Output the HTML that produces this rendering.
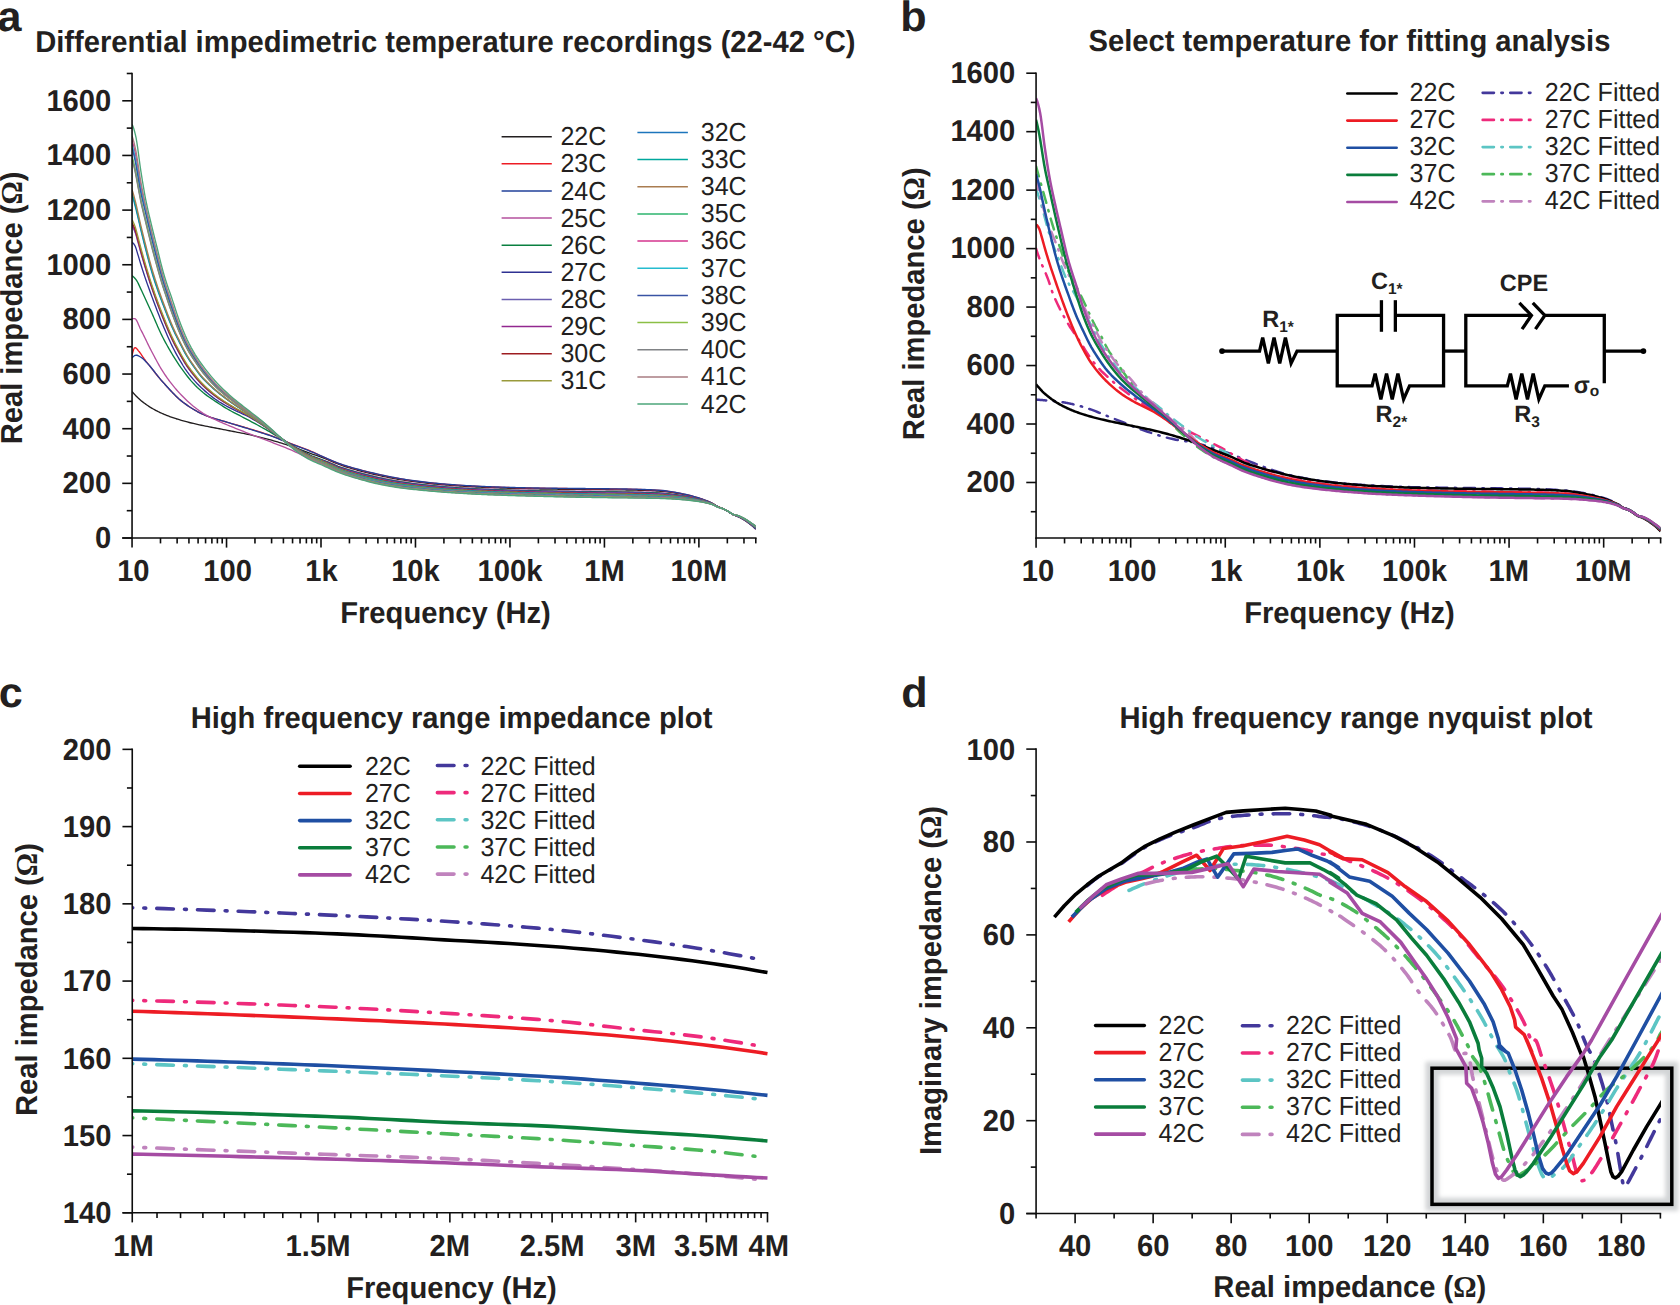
<!DOCTYPE html>
<html lang="en"><head><meta charset="utf-8"><title>Differential impedimetric temperature recordings</title>
<style>
html,body{margin:0;padding:0;background:#fff}
body{width:1680px;height:1305px;overflow:hidden}
svg{display:block}
text{font-family:"Liberation Sans",Arial,Helvetica,sans-serif;fill:#231f20;text-rendering:geometricPrecision}
text.b{font-weight:bold}
text.r{font-weight:normal}
.om{font-weight:bold;font-family:"Liberation Serif","DejaVu Serif",serif}
</style></head><body>
<svg width="1680" height="1305" viewBox="0 0 1680 1305">
<defs>
<clipPath id="ca"><rect x="132.05" y="60" width="623.73" height="478"/></clipPath>
<clipPath id="cb"><rect x="1036.07" y="60" width="624.55" height="478.05"/></clipPath>
<clipPath id="cc"><rect x="132.25" y="740" width="636.23" height="480"/></clipPath>
<clipPath id="cd"><rect x="1036.08" y="740" width="624.9" height="473.57"/></clipPath>
<filter id="glow" x="-20%" y="-20%" width="140%" height="140%"><feGaussianBlur stdDeviation="2.3"/></filter>
</defs>
<rect width="1680" height="1305" fill="#fff"/>
<g id="panelA">
<g clip-path="url(#ca)">
<path d="M132.05 391.54 L132.85 392.45 L133.65 393.34 L134.45 394.22 L135.25 395.09 L136.05 395.93 L136.85 396.76 L137.65 397.56 L138.46 398.33 L139.26 399.07 L140.06 399.78 L140.86 400.46 L141.66 401.1 L142.46 401.73 L143.26 402.35 L144.06 402.96 L144.86 403.55 L145.66 404.13 L146.46 404.7 L147.26 405.25 L148.06 405.79 L148.86 406.32 L149.66 406.83 L150.46 407.34 L151.27 407.83 L152.07 408.31 L152.87 408.78 L153.67 409.23 L154.47 409.68 L155.27 410.12 L156.07 410.54 L156.87 410.95 L157.67 411.36 L158.47 411.75 L159.27 412.14 L160.07 412.52 L160.87 412.89 L161.67 413.26 L162.47 413.61 L163.27 413.96 L164.08 414.3 L164.88 414.64 L165.68 414.96 L166.48 415.29 L167.28 415.6 L168.08 415.91 L168.88 416.22 L169.68 416.51 L170.48 416.81 L171.28 417.1 L172.08 417.38 L172.88 417.66 L173.68 417.93 L174.48 418.2 L175.28 418.47 L176.08 418.73 L176.89 418.98 L177.69 419.23 L178.49 419.48 L179.29 419.72 L181.29 420.31 L183.3 420.88 L185.31 421.43 L187.31 421.97 L189.32 422.48 L191.32 422.97 L193.33 423.45 L195.34 423.91 L197.34 424.35 L199.35 424.79 L201.36 425.22 L203.36 425.65 L205.37 426.06 L207.37 426.45 L209.38 426.84 L211.39 427.23 L213.39 427.61 L215.4 427.99 L217.41 428.38 L219.41 428.77 L221.42 429.17 L223.42 429.56 L225.43 429.96 L227.44 430.35 L229.44 430.74 L231.45 431.14 L233.46 431.53 L235.46 431.92 L237.47 432.3 L239.47 432.68 L241.48 433.07 L243.49 433.46 L245.49 433.86 L247.5 434.28 L249.51 434.71 L251.51 435.16 L253.52 435.62 L255.52 436.09 L257.53 436.57 L259.54 437.06 L261.54 437.56 L263.55 438.07 L265.56 438.59 L267.56 439.12 L269.57 439.66 L271.57 440.22 L273.58 440.78 L275.59 441.36 L277.59 441.95 L279.6 442.56 L281.61 443.18 L283.61 443.82 L285.62 444.47 L287.62 445.13 L289.63 445.81 L291.64 446.5 L293.64 447.2 L295.65 447.91 L297.65 448.65 L299.66 449.4 L301.67 450.17 L303.67 450.93 L305.68 451.7 L307.69 452.46 L309.69 453.2 L311.7 453.92 L313.7 454.56 L315.71 455.21 L317.72 455.89 L319.72 456.6 L321.73 457.33 L323.74 458.1 L325.74 458.9 L327.75 459.74 L329.75 460.61 L331.76 461.49 L333.77 462.36 L335.77 463.2 L337.78 463.99 L339.79 464.73 L341.79 465.43 L343.8 466.1 L345.8 466.74 L347.81 467.37 L349.82 467.97 L351.82 468.56 L353.83 469.13 L355.84 469.7 L357.84 470.25 L359.85 470.79 L361.85 471.33 L363.86 471.85 L365.87 472.36 L367.87 472.86 L369.88 473.35 L371.89 473.82 L373.89 474.29 L375.9 474.75 L377.9 475.2 L379.91 475.64 L381.92 476.08 L383.92 476.51 L385.93 476.93 L387.93 477.34 L389.94 477.74 L391.95 478.13 L393.95 478.51 L395.96 478.87 L397.97 479.22 L399.97 479.55 L401.98 479.88 L403.98 480.2 L405.99 480.51 L408 480.81 L410 481.11 L412.01 481.39 L414.02 481.66 L416.02 481.92 L418.03 482.17 L420.03 482.42 L422.04 482.66 L424.05 482.89 L426.05 483.12 L428.06 483.35 L430.07 483.56 L432.07 483.77 L434.08 483.97 L436.08 484.17 L438.09 484.35 L440.1 484.53 L442.1 484.71 L444.11 484.88 L446.12 485.04 L448.12 485.2 L450.13 485.35 L452.13 485.5 L454.14 485.65 L456.15 485.79 L458.15 485.93 L460.16 486.06 L462.17 486.19 L464.17 486.31 L466.18 486.43 L468.18 486.54 L470.19 486.66 L472.2 486.77 L474.2 486.88 L476.21 486.98 L478.22 487.08 L480.22 487.18 L482.23 487.27 L484.23 487.36 L486.24 487.44 L488.25 487.53 L490.25 487.61 L492.26 487.69 L494.26 487.76 L496.27 487.83 L498.28 487.9 L500.28 487.97 L502.29 488.04 L504.3 488.1 L506.3 488.16 L508.31 488.22 L510.31 488.28 L512.32 488.33 L514.33 488.39 L516.33 488.44 L518.34 488.49 L520.35 488.54 L522.35 488.59 L524.36 488.64 L526.36 488.69 L528.37 488.73 L530.38 488.77 L532.38 488.81 L534.39 488.85 L536.4 488.89 L538.4 488.93 L540.41 488.96 L542.41 488.99 L544.42 489.02 L546.43 489.05 L548.43 489.08 L550.44 489.11 L552.45 489.13 L554.45 489.16 L556.46 489.19 L558.46 489.21 L560.47 489.23 L562.48 489.26 L564.48 489.28 L566.49 489.31 L568.5 489.33 L570.5 489.35 L572.51 489.37 L574.51 489.39 L576.52 489.41 L578.53 489.43 L580.53 489.45 L582.54 489.47 L584.55 489.49 L586.55 489.51 L588.56 489.52 L590.56 489.54 L592.57 489.56 L594.58 489.58 L596.58 489.6 L598.59 489.62 L600.59 489.65 L602.6 489.67 L604.61 489.69 L606.61 489.72 L608.62 489.74 L610.63 489.76 L612.63 489.79 L614.64 489.81 L616.64 489.84 L618.65 489.87 L620.66 489.89 L622.66 489.92 L624.67 489.95 L626.68 489.99 L628.68 490.02 L630.69 490.06 L632.69 490.1 L634.7 490.14 L636.71 490.19 L638.71 490.24 L640.72 490.3 L642.73 490.37 L644.73 490.44 L646.74 490.51 L648.74 490.59 L650.75 490.67 L652.76 490.76 L654.76 490.86 L656.77 490.97 L658.78 491.09 L660.78 491.24 L662.79 491.4 L664.79 491.61 L666.8 491.86 L668.81 492.13 L670.81 492.41 L672.82 492.7 L674.83 493.01 L676.83 493.34 L678.84 493.69 L680.84 494.06 L682.85 494.45 L684.86 494.85 L686.86 495.28 L688.87 495.73 L690.88 496.2 L692.88 496.7 L694.89 497.23 L696.89 497.79 L698.9 498.38 L700.06 498.74 L701.23 499.11 L702.39 499.49 L703.55 499.88 L704.71 500.3 L705.88 500.73 L707.04 501.17 L708.2 501.63 L709.36 502.12 L710.53 502.62 L711.69 503.14 L712.85 503.69 L714.01 504.35 L715.18 505.09 L716.34 505.83 L717.5 506.51 L718.66 507.06 L719.83 507.51 L720.99 507.9 L722.15 508.29 L723.32 508.73 L724.48 509.25 L725.64 509.89 L726.8 510.59 L727.97 511.3 L729.13 512.08 L730.29 512.9 L731.45 513.71 L732.62 514.43 L733.78 515 L734.94 515.41 L736.1 515.77 L737.27 516.18 L738.43 516.69 L739.59 517.25 L740.75 517.85 L741.92 518.49 L743.08 519.16 L744.24 519.87 L745.4 520.6 L746.57 521.38 L747.73 522.19 L748.89 523.04 L750.06 523.93 L751.22 524.85 L752.38 525.81 L753.54 526.82 L754.71 527.88 L755.87 528.98" fill="none" stroke="#231f20" stroke-width="1.35" stroke-linecap="butt" stroke-linejoin="round" />
<path d="M132.05 355.47 L132.85 352.16 L133.65 349.44 L134.45 347.8 L135.25 347.6 L136.05 348.04 L136.85 348.81 L137.65 349.78 L138.46 350.81 L139.26 351.78 L140.06 352.79 L140.86 353.9 L141.66 355.08 L142.46 356.29 L143.26 357.5 L144.06 358.65 L144.86 359.73 L145.66 360.79 L146.46 361.83 L147.26 362.85 L148.06 363.87 L148.86 364.88 L149.66 365.88 L150.46 366.89 L151.27 367.9 L152.07 368.91 L152.87 369.92 L153.67 370.94 L154.47 371.96 L155.27 372.97 L156.07 373.98 L156.87 374.99 L157.67 375.98 L158.47 376.96 L159.27 377.93 L160.07 378.89 L160.87 379.83 L161.67 380.74 L162.47 381.64 L163.27 382.53 L164.08 383.42 L164.88 384.31 L165.68 385.2 L166.48 386.09 L167.28 386.97 L168.08 387.85 L168.88 388.73 L169.68 389.59 L170.48 390.45 L171.28 391.31 L172.08 392.15 L172.88 392.98 L173.68 393.8 L174.48 394.61 L175.28 395.41 L176.08 396.19 L176.89 396.96 L177.69 397.71 L178.49 398.45 L179.29 399.17 L181.29 400.88 L183.3 402.46 L185.31 403.92 L187.31 405.33 L189.32 406.69 L191.32 407.98 L193.33 409.22 L195.34 410.41 L197.34 411.53 L199.35 412.58 L201.36 413.57 L203.36 414.5 L205.37 415.35 L207.37 416.14 L209.38 416.87 L211.39 417.56 L213.39 418.21 L215.4 418.82 L217.41 419.41 L219.41 419.99 L221.42 420.56 L223.42 421.14 L225.43 421.73 L227.44 422.33 L229.44 422.93 L231.45 423.53 L233.46 424.11 L235.46 424.69 L237.47 425.27 L239.47 425.84 L241.48 426.42 L243.49 427.01 L245.49 427.6 L247.5 428.2 L249.51 428.81 L251.51 429.42 L253.52 430.02 L255.52 430.64 L257.53 431.25 L259.54 431.88 L261.54 432.51 L263.55 433.15 L265.56 433.81 L267.56 434.48 L269.57 435.18 L271.57 435.9 L273.58 436.65 L275.59 437.42 L277.59 438.21 L279.6 439.02 L281.61 439.84 L283.61 440.66 L285.62 441.48 L287.62 442.29 L289.63 443.1 L291.64 443.88 L293.64 444.65 L295.65 445.4 L297.65 446.15 L299.66 446.88 L301.67 447.62 L303.67 448.37 L305.68 449.13 L307.69 449.9 L309.69 450.7 L311.7 451.52 L313.7 452.38 L315.71 453.3 L317.72 454.27 L319.72 455.25 L321.73 456.24 L323.74 457.2 L325.74 458.12 L327.75 459 L329.75 459.88 L331.76 460.74 L333.77 461.59 L335.77 462.4 L337.78 463.18 L339.79 463.91 L341.79 464.6 L343.8 465.27 L345.8 465.91 L347.81 466.53 L349.82 467.14 L351.82 467.72 L353.83 468.29 L355.84 468.85 L357.84 469.4 L359.85 469.94 L361.85 470.47 L363.86 470.99 L365.87 471.5 L367.87 471.99 L369.88 472.48 L371.89 472.95 L373.89 473.42 L375.9 473.88 L377.9 474.33 L379.91 474.77 L381.92 475.21 L383.92 475.64 L385.93 476.07 L387.93 476.49 L389.94 476.89 L391.95 477.29 L393.95 477.67 L395.96 478.03 L397.97 478.39 L399.97 478.73 L401.98 479.07 L403.98 479.39 L405.99 479.71 L408 480.02 L410 480.31 L412.01 480.6 L414.02 480.87 L416.02 481.14 L418.03 481.4 L420.03 481.65 L422.04 481.89 L424.05 482.13 L426.05 482.37 L428.06 482.59 L430.07 482.81 L432.07 483.02 L434.08 483.23 L436.08 483.42 L438.09 483.61 L440.1 483.8 L442.1 483.97 L444.11 484.14 L446.12 484.31 L448.12 484.47 L450.13 484.63 L452.13 484.78 L454.14 484.92 L456.15 485.06 L458.15 485.2 L460.16 485.33 L462.17 485.46 L464.17 485.58 L466.18 485.7 L468.18 485.82 L470.19 485.93 L472.2 486.05 L474.2 486.15 L476.21 486.26 L478.22 486.36 L480.22 486.45 L482.23 486.55 L484.23 486.64 L486.24 486.72 L488.25 486.8 L490.25 486.88 L492.26 486.96 L494.26 487.04 L496.27 487.11 L498.28 487.18 L500.28 487.25 L502.29 487.32 L504.3 487.38 L506.3 487.44 L508.31 487.5 L510.31 487.55 L512.32 487.61 L514.33 487.66 L516.33 487.71 L518.34 487.77 L520.35 487.82 L522.35 487.86 L524.36 487.91 L526.36 487.96 L528.37 488 L530.38 488.04 L532.38 488.08 L534.39 488.12 L536.4 488.15 L538.4 488.19 L540.41 488.22 L542.41 488.25 L544.42 488.28 L546.43 488.3 L548.43 488.33 L550.44 488.35 L552.45 488.38 L554.45 488.4 L556.46 488.43 L558.46 488.45 L560.47 488.47 L562.48 488.49 L564.48 488.51 L566.49 488.53 L568.5 488.56 L570.5 488.58 L572.51 488.6 L574.51 488.61 L576.52 488.63 L578.53 488.65 L580.53 488.67 L582.54 488.68 L584.55 488.7 L586.55 488.72 L588.56 488.74 L590.56 488.75 L592.57 488.77 L594.58 488.79 L596.58 488.81 L598.59 488.83 L600.59 488.85 L602.6 488.87 L604.61 488.89 L606.61 488.92 L608.62 488.94 L610.63 488.96 L612.63 488.99 L614.64 489.01 L616.64 489.04 L618.65 489.07 L620.66 489.1 L622.66 489.13 L624.67 489.16 L626.68 489.19 L628.68 489.23 L630.69 489.26 L632.69 489.31 L634.7 489.35 L636.71 489.4 L638.71 489.46 L640.72 489.52 L642.73 489.59 L644.73 489.66 L646.74 489.74 L648.74 489.82 L650.75 489.91 L652.76 490 L654.76 490.11 L656.77 490.23 L658.78 490.36 L660.78 490.51 L662.79 490.69 L664.79 490.91 L666.8 491.17 L668.81 491.46 L670.81 491.76 L672.82 492.07 L674.83 492.39 L676.83 492.75 L678.84 493.12 L680.84 493.51 L682.85 493.92 L684.86 494.35 L686.86 494.8 L688.87 495.27 L690.88 495.77 L692.88 496.3 L694.89 496.86 L696.89 497.45 L698.9 498.06 L700.06 498.44 L701.23 498.83 L702.39 499.23 L703.55 499.64 L704.71 500.07 L705.88 500.52 L707.04 500.98 L708.2 501.46 L709.36 501.96 L710.53 502.48 L711.69 503.02 L712.85 503.59 L714.01 504.26 L715.18 505.01 L716.34 505.77 L717.5 506.47 L718.66 507.03 L719.83 507.48 L720.99 507.88 L722.15 508.27 L723.32 508.71 L724.48 509.24 L725.64 509.89 L726.8 510.59 L727.97 511.31 L729.13 512.1 L730.29 512.93 L731.45 513.74 L732.62 514.46 L733.78 515.04 L734.94 515.47 L736.1 515.84 L737.27 516.26 L738.43 516.78 L739.59 517.36 L740.75 517.97 L741.92 518.61 L743.08 519.29 L744.24 520.01 L745.4 520.75 L746.57 521.53 L747.73 522.35 L748.89 523.21 L750.06 524.11 L751.22 525.04 L752.38 526.02 L753.54 527.05 L754.71 528.14 L755.87 529.27" fill="none" stroke="#ed1c24" stroke-width="1.35" stroke-linecap="butt" stroke-linejoin="round" />
<path d="M132.05 357.76 L132.85 356.94 L133.65 356.23 L134.45 355.69 L135.25 355.33 L136.05 355.2 L136.85 355.27 L137.65 355.49 L138.46 355.83 L139.26 356.26 L140.06 356.75 L140.86 357.25 L141.66 357.76 L142.46 358.33 L143.26 359 L144.06 359.76 L144.86 360.57 L145.66 361.41 L146.46 362.27 L147.26 363.12 L148.06 363.98 L148.86 364.87 L149.66 365.8 L150.46 366.75 L151.27 367.72 L152.07 368.72 L152.87 369.73 L153.67 370.75 L154.47 371.78 L155.27 372.81 L156.07 373.85 L156.87 374.88 L157.67 375.9 L158.47 376.91 L159.27 377.9 L160.07 378.87 L160.87 379.83 L161.67 380.75 L162.47 381.64 L163.27 382.52 L164.08 383.41 L164.88 384.29 L165.68 385.18 L166.48 386.06 L167.28 386.95 L168.08 387.82 L168.88 388.7 L169.68 389.56 L170.48 390.42 L171.28 391.28 L172.08 392.12 L172.88 392.96 L173.68 393.78 L174.48 394.59 L175.28 395.39 L176.08 396.18 L176.89 396.95 L177.69 397.7 L178.49 398.44 L179.29 399.16 L181.29 400.88 L183.3 402.46 L185.31 403.92 L187.31 405.33 L189.32 406.69 L191.32 407.98 L193.33 409.22 L195.34 410.41 L197.34 411.53 L199.35 412.58 L201.36 413.57 L203.36 414.5 L205.37 415.35 L207.37 416.14 L209.38 416.87 L211.39 417.55 L213.39 418.19 L215.4 418.8 L217.41 419.39 L219.41 419.97 L221.42 420.54 L223.42 421.12 L225.43 421.72 L227.44 422.34 L229.44 422.96 L231.45 423.57 L233.46 424.18 L235.46 424.79 L237.47 425.4 L239.47 426.01 L241.48 426.62 L243.49 427.23 L245.49 427.85 L247.5 428.47 L249.51 429.09 L251.51 429.7 L253.52 430.32 L255.52 430.93 L257.53 431.55 L259.54 432.17 L261.54 432.79 L263.55 433.43 L265.56 434.09 L267.56 434.76 L269.57 435.45 L271.57 436.17 L273.58 436.92 L275.59 437.69 L277.59 438.49 L279.6 439.29 L281.61 440.11 L283.61 440.93 L285.62 441.75 L287.62 442.57 L289.63 443.37 L291.64 444.16 L293.64 444.93 L295.65 445.69 L297.65 446.44 L299.66 447.19 L301.67 447.94 L303.67 448.69 L305.68 449.45 L307.69 450.22 L309.69 451.01 L311.7 451.81 L313.7 452.64 L315.71 453.5 L317.72 454.39 L319.72 455.29 L321.73 456.2 L323.74 457.09 L325.74 457.96 L327.75 458.82 L329.75 459.69 L331.76 460.55 L333.77 461.4 L335.77 462.23 L337.78 463.01 L339.79 463.75 L341.79 464.44 L343.8 465.1 L345.8 465.75 L347.81 466.37 L349.82 466.97 L351.82 467.56 L353.83 468.13 L355.84 468.68 L357.84 469.23 L359.85 469.77 L361.85 470.3 L363.86 470.82 L365.87 471.32 L367.87 471.82 L369.88 472.3 L371.89 472.78 L373.89 473.24 L375.9 473.7 L377.9 474.15 L379.91 474.6 L381.92 475.04 L383.92 475.47 L385.93 475.9 L387.93 476.32 L389.94 476.72 L391.95 477.12 L393.95 477.5 L395.96 477.87 L397.97 478.22 L399.97 478.57 L401.98 478.9 L403.98 479.23 L405.99 479.55 L408 479.86 L410 480.15 L412.01 480.44 L414.02 480.72 L416.02 480.98 L418.03 481.24 L420.03 481.49 L422.04 481.74 L424.05 481.98 L426.05 482.21 L428.06 482.44 L430.07 482.66 L432.07 482.87 L434.08 483.08 L436.08 483.28 L438.09 483.47 L440.1 483.65 L442.1 483.82 L444.11 484 L446.12 484.16 L448.12 484.32 L450.13 484.48 L452.13 484.63 L454.14 484.78 L456.15 484.92 L458.15 485.06 L460.16 485.19 L462.17 485.32 L464.17 485.44 L466.18 485.56 L468.18 485.68 L470.19 485.79 L472.2 485.9 L474.2 486.01 L476.21 486.11 L478.22 486.21 L480.22 486.31 L482.23 486.4 L484.23 486.49 L486.24 486.58 L488.25 486.66 L490.25 486.74 L492.26 486.82 L494.26 486.89 L496.27 486.97 L498.28 487.04 L500.28 487.1 L502.29 487.17 L504.3 487.23 L506.3 487.3 L508.31 487.35 L510.31 487.41 L512.32 487.46 L514.33 487.52 L516.33 487.57 L518.34 487.62 L520.35 487.67 L522.35 487.72 L524.36 487.76 L526.36 487.81 L528.37 487.85 L530.38 487.89 L532.38 487.93 L534.39 487.97 L536.4 488 L538.4 488.04 L540.41 488.07 L542.41 488.1 L544.42 488.13 L546.43 488.15 L548.43 488.18 L550.44 488.2 L552.45 488.23 L554.45 488.25 L556.46 488.27 L558.46 488.3 L560.47 488.32 L562.48 488.34 L564.48 488.36 L566.49 488.38 L568.5 488.4 L570.5 488.42 L572.51 488.44 L574.51 488.46 L576.52 488.48 L578.53 488.49 L580.53 488.51 L582.54 488.53 L584.55 488.54 L586.55 488.56 L588.56 488.58 L590.56 488.6 L592.57 488.61 L594.58 488.63 L596.58 488.65 L598.59 488.67 L600.59 488.69 L602.6 488.71 L604.61 488.73 L606.61 488.76 L608.62 488.78 L610.63 488.8 L612.63 488.83 L614.64 488.85 L616.64 488.88 L618.65 488.91 L620.66 488.94 L622.66 488.97 L624.67 489 L626.68 489.03 L628.68 489.07 L630.69 489.11 L632.69 489.15 L634.7 489.19 L636.71 489.24 L638.71 489.3 L640.72 489.36 L642.73 489.43 L644.73 489.51 L646.74 489.59 L648.74 489.67 L650.75 489.76 L652.76 489.85 L654.76 489.96 L656.77 490.08 L658.78 490.21 L660.78 490.36 L662.79 490.54 L664.79 490.77 L666.8 491.04 L668.81 491.32 L670.81 491.63 L672.82 491.94 L674.83 492.27 L676.83 492.63 L678.84 493 L680.84 493.4 L682.85 493.81 L684.86 494.25 L686.86 494.7 L688.87 495.18 L690.88 495.69 L692.88 496.22 L694.89 496.78 L696.89 497.38 L698.9 498 L700.06 498.38 L701.23 498.77 L702.39 499.17 L703.55 499.59 L704.71 500.02 L705.88 500.47 L707.04 500.94 L708.2 501.42 L709.36 501.93 L710.53 502.45 L711.69 503 L712.85 503.57 L714.01 504.24 L715.18 505 L716.34 505.76 L717.5 506.46 L718.66 507.02 L719.83 507.47 L720.99 507.87 L722.15 508.27 L723.32 508.71 L724.48 509.24 L725.64 509.89 L726.8 510.6 L727.97 511.32 L729.13 512.1 L730.29 512.93 L731.45 513.74 L732.62 514.47 L733.78 515.05 L734.94 515.48 L736.1 515.85 L737.27 516.28 L738.43 516.8 L739.59 517.38 L740.75 517.99 L741.92 518.64 L743.08 519.32 L744.24 520.03 L745.4 520.78 L746.57 521.56 L747.73 522.39 L748.89 523.25 L750.06 524.14 L751.22 525.08 L752.38 526.06 L753.54 527.1 L754.71 528.19 L755.87 529.33" fill="none" stroke="#21409a" stroke-width="1.35" stroke-linecap="butt" stroke-linejoin="round" />
<path d="M132.05 318.58 L132.85 318.58 L133.65 318.58 L134.45 318.58 L135.25 318.81 L136.05 319.63 L136.85 320.93 L137.65 322.57 L138.46 324.41 L139.26 326.33 L140.06 328.18 L140.86 329.82 L141.66 331.35 L142.46 332.92 L143.26 334.51 L144.06 336.13 L144.86 337.76 L145.66 339.41 L146.46 341.06 L147.26 342.7 L148.06 344.35 L148.86 345.97 L149.66 347.58 L150.46 349.17 L151.27 350.72 L152.07 352.24 L152.87 353.76 L153.67 355.29 L154.47 356.8 L155.27 358.31 L156.07 359.8 L156.87 361.28 L157.67 362.75 L158.47 364.18 L159.27 365.6 L160.07 366.98 L160.87 368.33 L161.67 369.64 L162.47 370.91 L163.27 372.15 L164.08 373.37 L164.88 374.57 L165.68 375.75 L166.48 376.9 L167.28 378.03 L168.08 379.15 L168.88 380.24 L169.68 381.32 L170.48 382.37 L171.28 383.41 L172.08 384.43 L172.88 385.43 L173.68 386.41 L174.48 387.38 L175.28 388.33 L176.08 389.26 L176.89 390.18 L177.69 391.09 L178.49 391.98 L179.29 392.85 L181.29 394.98 L183.3 397.03 L185.31 399 L187.31 400.91 L189.32 402.75 L191.32 404.51 L193.33 406.18 L195.34 407.77 L197.34 409.3 L199.35 410.76 L201.36 412.16 L203.36 413.47 L205.37 414.69 L207.37 415.81 L209.38 416.86 L211.39 417.85 L213.39 418.8 L215.4 419.74 L217.41 420.67 L219.41 421.57 L221.42 422.45 L223.42 423.31 L225.43 424.16 L227.44 425 L229.44 425.84 L231.45 426.66 L233.46 427.48 L235.46 428.29 L237.47 429.1 L239.47 429.89 L241.48 430.69 L243.49 431.48 L245.49 432.27 L247.5 433.05 L249.51 433.83 L251.51 434.61 L253.52 435.37 L255.52 436.13 L257.53 436.89 L259.54 437.64 L261.54 438.4 L263.55 439.16 L265.56 439.92 L267.56 440.68 L269.57 441.45 L271.57 442.23 L273.58 443.01 L275.59 443.79 L277.59 444.57 L279.6 445.35 L281.61 446.14 L283.61 446.93 L285.62 447.73 L287.62 448.54 L289.63 449.35 L291.64 450.18 L293.64 451.07 L295.65 452.02 L297.65 453.01 L299.66 454.02 L301.67 455.02 L303.67 455.99 L305.68 456.9 L307.69 457.73 L309.69 458.46 L311.7 459.03 L313.7 459.27 L315.71 459.46 L317.72 459.65 L319.72 459.88 L321.73 460.17 L323.74 460.56 L325.74 461.07 L327.75 461.73 L329.75 462.54 L331.76 463.43 L333.77 464.34 L335.77 465.22 L337.78 466.05 L339.79 466.79 L341.79 467.47 L343.8 468.12 L345.8 468.74 L347.81 469.35 L349.82 469.93 L351.82 470.5 L353.83 471.05 L355.84 471.59 L357.84 472.12 L359.85 472.65 L361.85 473.19 L363.86 473.73 L365.87 474.25 L367.87 474.75 L369.88 475.25 L371.89 475.74 L373.89 476.21 L375.9 476.67 L377.9 477.12 L379.91 477.56 L381.92 477.99 L383.92 478.41 L385.93 478.82 L387.93 479.22 L389.94 479.61 L391.95 479.99 L393.95 480.35 L395.96 480.7 L397.97 481.04 L399.97 481.36 L401.98 481.68 L403.98 481.98 L405.99 482.28 L408 482.57 L410 482.84 L412.01 483.11 L414.02 483.37 L416.02 483.62 L418.03 483.87 L420.03 484.1 L422.04 484.34 L424.05 484.56 L426.05 484.78 L428.06 485 L430.07 485.2 L432.07 485.41 L434.08 485.6 L436.08 485.79 L438.09 485.97 L440.1 486.15 L442.1 486.32 L444.11 486.48 L446.12 486.64 L448.12 486.8 L450.13 486.95 L452.13 487.1 L454.14 487.24 L456.15 487.38 L458.15 487.52 L460.16 487.65 L462.17 487.77 L464.17 487.89 L466.18 488.01 L468.18 488.13 L470.19 488.24 L472.2 488.35 L474.2 488.46 L476.21 488.57 L478.22 488.67 L480.22 488.76 L482.23 488.86 L484.23 488.95 L486.24 489.03 L488.25 489.11 L490.25 489.19 L492.26 489.27 L494.26 489.35 L496.27 489.42 L498.28 489.49 L500.28 489.56 L502.29 489.62 L504.3 489.69 L506.3 489.75 L508.31 489.81 L510.31 489.87 L512.32 489.92 L514.33 489.98 L516.33 490.03 L518.34 490.09 L520.35 490.14 L522.35 490.19 L524.36 490.24 L526.36 490.29 L528.37 490.34 L530.38 490.38 L532.38 490.43 L534.39 490.47 L536.4 490.51 L538.4 490.55 L540.41 490.59 L542.41 490.62 L544.42 490.66 L546.43 490.69 L548.43 490.73 L550.44 490.76 L552.45 490.79 L554.45 490.82 L556.46 490.85 L558.46 490.88 L560.47 490.91 L562.48 490.94 L564.48 490.97 L566.49 490.99 L568.5 491.02 L570.5 491.05 L572.51 491.07 L574.51 491.1 L576.52 491.12 L578.53 491.14 L580.53 491.17 L582.54 491.19 L584.55 491.21 L586.55 491.23 L588.56 491.26 L590.56 491.28 L592.57 491.3 L594.58 491.32 L596.58 491.34 L598.59 491.37 L600.59 491.39 L602.6 491.42 L604.61 491.44 L606.61 491.47 L608.62 491.49 L610.63 491.51 L612.63 491.54 L614.64 491.56 L616.64 491.59 L618.65 491.62 L620.66 491.64 L622.66 491.67 L624.67 491.7 L626.68 491.73 L628.68 491.76 L630.69 491.8 L632.69 491.84 L634.7 491.87 L636.71 491.92 L638.71 491.97 L640.72 492.02 L642.73 492.08 L644.73 492.14 L646.74 492.2 L648.74 492.27 L650.75 492.34 L652.76 492.42 L654.76 492.5 L656.77 492.6 L658.78 492.71 L660.78 492.83 L662.79 492.97 L664.79 493.15 L666.8 493.36 L668.81 493.59 L670.81 493.83 L672.82 494.08 L674.83 494.34 L676.83 494.63 L678.84 494.94 L680.84 495.26 L682.85 495.6 L684.86 495.96 L686.86 496.33 L688.87 496.72 L690.88 497.14 L692.88 497.58 L694.89 498.05 L696.89 498.54 L698.9 499.07 L700.06 499.39 L701.23 499.72 L702.39 500.06 L703.55 500.42 L704.71 500.8 L705.88 501.19 L707.04 501.59 L708.2 502.02 L709.36 502.46 L710.53 502.93 L711.69 503.41 L712.85 503.93 L714.01 504.54 L715.18 505.25 L716.34 505.96 L717.5 506.62 L718.66 507.15 L719.83 507.58 L720.99 507.96 L722.15 508.34 L723.32 508.77 L724.48 509.27 L725.64 509.89 L726.8 510.57 L727.97 511.26 L729.13 512.03 L730.29 512.85 L731.45 513.65 L732.62 514.36 L733.78 514.9 L734.94 515.29 L736.1 515.62 L737.27 516 L738.43 516.48 L739.59 517.02 L740.75 517.6 L741.92 518.22 L743.08 518.87 L744.24 519.56 L745.4 520.27 L746.57 521.03 L747.73 521.83 L748.89 522.67 L750.06 523.54 L751.22 524.44 L752.38 525.36 L753.54 526.32 L754.71 527.32 L755.87 528.35" fill="none" stroke="#b5509e" stroke-width="1.35" stroke-linecap="butt" stroke-linejoin="round" />
<path d="M132.05 275.68 L132.85 276.22 L133.65 276.91 L134.45 277.75 L135.25 278.7 L136.05 279.73 L136.85 280.86 L137.65 282.26 L138.46 283.87 L139.26 285.61 L140.06 287.39 L140.86 289.11 L141.66 290.79 L142.46 292.49 L143.26 294.2 L144.06 295.93 L144.86 297.67 L145.66 299.42 L146.46 301.18 L147.26 302.95 L148.06 304.72 L148.86 306.5 L149.66 308.27 L150.46 310.05 L151.27 311.82 L152.07 313.59 L152.87 315.38 L153.67 317.21 L154.47 319.04 L155.27 320.89 L156.07 322.74 L156.87 324.58 L157.67 326.41 L158.47 328.22 L159.27 330 L160.07 331.75 L160.87 333.46 L161.67 335.12 L162.47 336.72 L163.27 338.29 L164.08 339.83 L164.88 341.34 L165.68 342.83 L166.48 344.3 L167.28 345.74 L168.08 347.17 L168.88 348.57 L169.68 349.95 L170.48 351.31 L171.28 352.66 L172.08 353.99 L172.88 355.3 L173.68 356.6 L174.48 357.89 L175.28 359.16 L176.08 360.42 L176.89 361.66 L177.69 362.88 L178.49 364.09 L179.29 365.28 L181.29 368.19 L183.3 370.97 L185.31 373.64 L187.31 376.23 L189.32 378.72 L191.32 381.1 L193.33 383.34 L195.34 385.43 L197.34 387.4 L199.35 389.27 L201.36 391.05 L203.36 392.74 L205.37 394.35 L207.37 395.87 L209.38 397.3 L211.39 398.67 L213.39 400.01 L215.4 401.33 L217.41 402.67 L219.41 404 L221.42 405.3 L223.42 406.58 L225.43 407.82 L227.44 409.01 L229.44 410.15 L231.45 411.26 L233.46 412.34 L235.46 413.39 L237.47 414.43 L239.47 415.46 L241.48 416.49 L243.49 417.53 L245.49 418.57 L247.5 419.63 L249.51 420.71 L251.51 421.79 L253.52 422.87 L255.52 423.95 L257.53 425.03 L259.54 426.12 L261.54 427.22 L263.55 428.32 L265.56 429.44 L267.56 430.57 L269.57 431.71 L271.57 432.88 L273.58 434.08 L275.59 435.3 L277.59 436.54 L279.6 437.78 L281.61 439.03 L283.61 440.27 L285.62 441.5 L287.62 442.71 L289.63 443.9 L291.64 445.05 L293.64 446.19 L295.65 447.33 L297.65 448.47 L299.66 449.59 L301.67 450.7 L303.67 451.79 L305.68 452.85 L307.69 453.88 L309.69 454.87 L311.7 455.81 L313.7 456.63 L315.71 457.41 L317.72 458.16 L319.72 458.9 L321.73 459.66 L323.74 460.44 L325.74 461.26 L327.75 462.12 L329.75 463 L331.76 463.88 L333.77 464.74 L335.77 465.57 L337.78 466.37 L339.79 467.1 L341.79 467.8 L343.8 468.47 L345.8 469.11 L347.81 469.73 L349.82 470.33 L351.82 470.91 L353.83 471.48 L355.84 472.04 L357.84 472.59 L359.85 473.14 L361.85 473.68 L363.86 474.21 L365.87 474.73 L367.87 475.25 L369.88 475.75 L371.89 476.23 L373.89 476.71 L375.9 477.17 L377.9 477.61 L379.91 478.05 L381.92 478.48 L383.92 478.9 L385.93 479.31 L387.93 479.71 L389.94 480.09 L391.95 480.47 L393.95 480.83 L395.96 481.17 L397.97 481.51 L399.97 481.83 L401.98 482.14 L403.98 482.44 L405.99 482.74 L408 483.02 L410 483.29 L412.01 483.56 L414.02 483.82 L416.02 484.06 L418.03 484.3 L420.03 484.54 L422.04 484.77 L424.05 484.99 L426.05 485.21 L428.06 485.42 L430.07 485.63 L432.07 485.83 L434.08 486.02 L436.08 486.21 L438.09 486.39 L440.1 486.57 L442.1 486.73 L444.11 486.9 L446.12 487.06 L448.12 487.21 L450.13 487.37 L452.13 487.51 L454.14 487.66 L456.15 487.79 L458.15 487.93 L460.16 488.06 L462.17 488.18 L464.17 488.31 L466.18 488.42 L468.18 488.54 L470.19 488.65 L472.2 488.77 L474.2 488.87 L476.21 488.98 L478.22 489.08 L480.22 489.17 L482.23 489.27 L484.23 489.36 L486.24 489.44 L488.25 489.53 L490.25 489.61 L492.26 489.68 L494.26 489.76 L496.27 489.83 L498.28 489.9 L500.28 489.97 L502.29 490.03 L504.3 490.1 L506.3 490.16 L508.31 490.22 L510.31 490.28 L512.32 490.33 L514.33 490.39 L516.33 490.45 L518.34 490.5 L520.35 490.55 L522.35 490.61 L524.36 490.66 L526.36 490.71 L528.37 490.75 L530.38 490.8 L532.38 490.84 L534.39 490.89 L536.4 490.93 L538.4 490.97 L540.41 491.01 L542.41 491.05 L544.42 491.08 L546.43 491.12 L548.43 491.15 L550.44 491.19 L552.45 491.22 L554.45 491.25 L556.46 491.28 L558.46 491.31 L560.47 491.34 L562.48 491.37 L564.48 491.4 L566.49 491.43 L568.5 491.46 L570.5 491.49 L572.51 491.51 L574.51 491.54 L576.52 491.56 L578.53 491.59 L580.53 491.61 L582.54 491.63 L584.55 491.66 L586.55 491.68 L588.56 491.7 L590.56 491.73 L592.57 491.75 L594.58 491.77 L596.58 491.8 L598.59 491.82 L600.59 491.84 L602.6 491.87 L604.61 491.89 L606.61 491.92 L608.62 491.94 L610.63 491.97 L612.63 491.99 L614.64 492.02 L616.64 492.04 L618.65 492.07 L620.66 492.1 L622.66 492.12 L624.67 492.15 L626.68 492.18 L628.68 492.21 L630.69 492.25 L632.69 492.28 L634.7 492.32 L636.71 492.37 L638.71 492.41 L640.72 492.46 L642.73 492.52 L644.73 492.58 L646.74 492.64 L648.74 492.7 L650.75 492.77 L652.76 492.85 L654.76 492.93 L656.77 493.02 L658.78 493.12 L660.78 493.24 L662.79 493.38 L664.79 493.55 L666.8 493.75 L668.81 493.97 L670.81 494.2 L672.82 494.43 L674.83 494.69 L676.83 494.97 L678.84 495.26 L680.84 495.57 L682.85 495.9 L684.86 496.24 L686.86 496.6 L688.87 496.98 L690.88 497.38 L692.88 497.81 L694.89 498.26 L696.89 498.74 L698.9 499.25 L700.06 499.56 L701.23 499.88 L702.39 500.21 L703.55 500.56 L704.71 500.93 L705.88 501.31 L707.04 501.7 L708.2 502.12 L709.36 502.55 L710.53 503.01 L711.69 503.48 L712.85 503.99 L714.01 504.59 L715.18 505.29 L716.34 505.99 L717.5 506.64 L718.66 507.17 L719.83 507.6 L720.99 507.98 L722.15 508.36 L723.32 508.78 L724.48 509.28 L725.64 509.89 L726.8 510.57 L727.97 511.25 L729.13 512.02 L730.29 512.84 L731.45 513.64 L732.62 514.34 L733.78 514.88 L734.94 515.25 L736.1 515.58 L737.27 515.95 L738.43 516.43 L739.59 516.96 L740.75 517.54 L741.92 518.15 L743.08 518.79 L744.24 519.48 L745.4 520.19 L746.57 520.94 L747.73 521.74 L748.89 522.58 L750.06 523.44 L751.22 524.33 L752.38 525.24 L753.54 526.19 L754.71 527.18 L755.87 528.19" fill="none" stroke="#0a8040" stroke-width="1.35" stroke-linecap="butt" stroke-linejoin="round" />
<path d="M132.05 242.45 L132.85 242.86 L133.65 243.71 L134.45 244.83 L135.25 246.24 L136.05 248.42 L136.85 251.08 L137.65 253.82 L138.46 256.41 L139.26 259.11 L140.06 261.85 L140.86 264.51 L141.66 267.07 L142.46 269.58 L143.26 272.05 L144.06 274.49 L144.86 276.89 L145.66 279.26 L146.46 281.58 L147.26 283.85 L148.06 286.1 L148.86 288.32 L149.66 290.54 L150.46 292.75 L151.27 294.95 L152.07 297.14 L152.87 299.31 L153.67 301.47 L154.47 303.61 L155.27 305.74 L156.07 307.84 L156.87 309.92 L157.67 312 L158.47 314.06 L159.27 316.11 L160.07 318.14 L160.87 320.15 L161.67 322.14 L162.47 324.11 L163.27 326.04 L164.08 327.95 L164.88 329.85 L165.68 331.73 L166.48 333.59 L167.28 335.43 L168.08 337.25 L168.88 339.04 L169.68 340.79 L170.48 342.51 L171.28 344.19 L172.08 345.83 L172.88 347.44 L173.68 349.02 L174.48 350.56 L175.28 352.09 L176.08 353.58 L176.89 355.05 L177.69 356.49 L178.49 357.9 L179.29 359.29 L181.29 362.71 L183.3 366 L185.31 369.11 L187.31 371.96 L189.32 374.59 L191.32 377.04 L193.33 379.36 L195.34 381.6 L197.34 383.76 L199.35 385.83 L201.36 387.78 L203.36 389.6 L205.37 391.37 L207.37 393.08 L209.38 394.74 L211.39 396.33 L213.39 397.85 L215.4 399.3 L217.41 400.67 L219.41 401.96 L221.42 403.19 L223.42 404.36 L225.43 405.49 L227.44 406.57 L229.44 407.63 L231.45 408.67 L233.46 409.69 L235.46 410.67 L237.47 411.59 L239.47 412.48 L241.48 413.37 L243.49 414.27 L245.49 415.21 L247.5 416.2 L249.51 417.27 L251.51 418.38 L253.52 419.55 L255.52 420.75 L257.53 421.99 L259.54 423.26 L261.54 424.54 L263.55 425.84 L265.56 427.18 L267.56 428.57 L269.57 429.99 L271.57 431.43 L273.58 432.89 L275.59 434.33 L277.59 435.74 L279.6 437.11 L281.61 438.48 L283.61 439.84 L285.62 441.19 L287.62 442.52 L289.63 443.83 L291.64 445.11 L293.64 446.36 L295.65 447.57 L297.65 448.78 L299.66 449.98 L301.67 451.15 L303.67 452.28 L305.68 453.37 L307.69 454.41 L309.69 455.37 L311.7 456.26 L313.7 457.03 L315.71 457.78 L317.72 458.52 L319.72 459.27 L321.73 460.04 L323.74 460.83 L325.74 461.66 L327.75 462.53 L329.75 463.41 L331.76 464.3 L333.77 465.16 L335.77 466 L337.78 466.79 L339.79 467.53 L341.79 468.23 L343.8 468.9 L345.8 469.55 L347.81 470.17 L349.82 470.77 L351.82 471.36 L353.83 471.93 L355.84 472.49 L357.84 473.04 L359.85 473.59 L361.85 474.14 L363.86 474.67 L365.87 475.2 L367.87 475.71 L369.88 476.21 L371.89 476.7 L373.89 477.18 L375.9 477.64 L377.9 478.08 L379.91 478.52 L381.92 478.95 L383.92 479.36 L385.93 479.77 L387.93 480.17 L389.94 480.55 L391.95 480.92 L393.95 481.28 L395.96 481.62 L397.97 481.95 L399.97 482.27 L401.98 482.58 L403.98 482.88 L405.99 483.17 L408 483.45 L410 483.72 L412.01 483.98 L414.02 484.24 L416.02 484.48 L418.03 484.72 L420.03 484.95 L422.04 485.18 L424.05 485.4 L426.05 485.62 L428.06 485.83 L430.07 486.03 L432.07 486.23 L434.08 486.42 L436.08 486.61 L438.09 486.79 L440.1 486.96 L442.1 487.13 L444.11 487.29 L446.12 487.45 L448.12 487.61 L450.13 487.76 L452.13 487.91 L454.14 488.05 L456.15 488.19 L458.15 488.32 L460.16 488.45 L462.17 488.57 L464.17 488.7 L466.18 488.81 L468.18 488.93 L470.19 489.04 L472.2 489.16 L474.2 489.26 L476.21 489.37 L478.22 489.47 L480.22 489.56 L482.23 489.66 L484.23 489.75 L486.24 489.83 L488.25 489.92 L490.25 490 L492.26 490.07 L494.26 490.15 L496.27 490.22 L498.28 490.29 L500.28 490.36 L502.29 490.42 L504.3 490.49 L506.3 490.55 L508.31 490.61 L510.31 490.67 L512.32 490.73 L514.33 490.78 L516.33 490.84 L518.34 490.89 L520.35 490.95 L522.35 491 L524.36 491.05 L526.36 491.1 L528.37 491.15 L530.38 491.2 L532.38 491.24 L534.39 491.29 L536.4 491.33 L538.4 491.37 L540.41 491.41 L542.41 491.45 L544.42 491.49 L546.43 491.52 L548.43 491.56 L550.44 491.59 L552.45 491.63 L554.45 491.66 L556.46 491.69 L558.46 491.73 L560.47 491.76 L562.48 491.79 L564.48 491.82 L566.49 491.85 L568.5 491.88 L570.5 491.9 L572.51 491.93 L574.51 491.96 L576.52 491.98 L578.53 492.01 L580.53 492.03 L582.54 492.06 L584.55 492.08 L586.55 492.11 L588.56 492.13 L590.56 492.15 L592.57 492.18 L594.58 492.2 L596.58 492.22 L598.59 492.25 L600.59 492.27 L602.6 492.3 L604.61 492.32 L606.61 492.35 L608.62 492.37 L610.63 492.4 L612.63 492.42 L614.64 492.45 L616.64 492.47 L618.65 492.5 L620.66 492.53 L622.66 492.55 L624.67 492.58 L626.68 492.61 L628.68 492.64 L630.69 492.68 L632.69 492.71 L634.7 492.75 L636.71 492.79 L638.71 492.84 L640.72 492.89 L642.73 492.94 L644.73 493 L646.74 493.06 L648.74 493.12 L650.75 493.18 L652.76 493.26 L654.76 493.34 L656.77 493.42 L658.78 493.52 L660.78 493.63 L662.79 493.76 L664.79 493.93 L666.8 494.12 L668.81 494.33 L670.81 494.55 L672.82 494.77 L674.83 495.02 L676.83 495.29 L678.84 495.57 L680.84 495.87 L682.85 496.19 L684.86 496.52 L686.86 496.86 L688.87 497.23 L690.88 497.61 L692.88 498.02 L694.89 498.46 L696.89 498.92 L698.9 499.42 L700.06 499.72 L701.23 500.03 L702.39 500.35 L703.55 500.69 L704.71 501.05 L705.88 501.42 L707.04 501.81 L708.2 502.21 L709.36 502.64 L710.53 503.08 L711.69 503.55 L712.85 504.04 L714.01 504.64 L715.18 505.33 L716.34 506.02 L717.5 506.67 L718.66 507.19 L719.83 507.61 L720.99 507.99 L722.15 508.37 L723.32 508.79 L724.48 509.29 L725.64 509.89 L726.8 510.56 L727.97 511.25 L729.13 512.01 L730.29 512.83 L731.45 513.62 L732.62 514.32 L733.78 514.85 L734.94 515.22 L736.1 515.54 L737.27 515.91 L738.43 516.38 L739.59 516.91 L740.75 517.47 L741.92 518.08 L743.08 518.72 L744.24 519.4 L745.4 520.11 L746.57 520.86 L747.73 521.65 L748.89 522.49 L750.06 523.35 L751.22 524.23 L752.38 525.13 L753.54 526.07 L754.71 527.04 L755.87 528.04" fill="none" stroke="#2e3192" stroke-width="1.35" stroke-linecap="butt" stroke-linejoin="round" />
<path d="M132.05 226.38 L132.85 227.52 L133.65 228.99 L134.45 230.69 L135.25 232.63 L136.05 235.16 L136.85 238.05 L137.65 241.03 L138.46 243.93 L139.26 246.9 L140.06 249.88 L140.86 252.78 L141.66 255.59 L142.46 258.35 L143.26 261.09 L144.06 263.78 L144.86 266.44 L145.66 269.07 L146.46 271.66 L147.26 274.22 L148.06 276.75 L148.86 279.25 L149.66 281.74 L150.46 284.18 L151.27 286.59 L152.07 288.96 L152.87 291.29 L153.67 293.58 L154.47 295.84 L155.27 298.07 L156.07 300.26 L156.87 302.44 L157.67 304.59 L158.47 306.72 L159.27 308.82 L160.07 310.9 L160.87 312.96 L161.67 314.99 L162.47 316.99 L163.27 318.98 L164.08 320.95 L164.88 322.9 L165.68 324.85 L166.48 326.79 L167.28 328.71 L168.08 330.6 L168.88 332.47 L169.68 334.3 L170.48 336.09 L171.28 337.83 L172.08 339.53 L172.88 341.19 L173.68 342.81 L174.48 344.41 L175.28 345.97 L176.08 347.51 L176.89 349.03 L177.69 350.52 L178.49 351.99 L179.29 353.44 L181.29 357.03 L183.3 360.52 L185.31 363.83 L187.31 366.88 L189.32 369.7 L191.32 372.34 L193.33 374.85 L195.34 377.28 L197.34 379.65 L199.35 381.92 L201.36 384.05 L203.36 386.01 L205.37 387.89 L207.37 389.7 L209.38 391.44 L211.39 393.11 L213.39 394.71 L215.4 396.25 L217.41 397.73 L219.41 399.14 L221.42 400.5 L223.42 401.79 L225.43 403.05 L227.44 404.26 L229.44 405.45 L231.45 406.62 L233.46 407.77 L235.46 408.88 L237.47 409.94 L239.47 410.97 L241.48 411.99 L243.49 413.02 L245.49 414.08 L247.5 415.19 L249.51 416.35 L251.51 417.55 L253.52 418.78 L255.52 420.05 L257.53 421.34 L259.54 422.66 L261.54 424 L263.55 425.36 L265.56 426.76 L267.56 428.21 L269.57 429.69 L271.57 431.2 L273.58 432.72 L275.59 434.22 L277.59 435.7 L279.6 437.13 L281.61 438.57 L283.61 440 L285.62 441.42 L287.62 442.83 L289.63 444.2 L291.64 445.54 L293.64 446.82 L295.65 448.06 L297.65 449.28 L299.66 450.48 L301.67 451.65 L303.67 452.78 L305.68 453.86 L307.69 454.89 L309.69 455.86 L311.7 456.75 L313.7 457.53 L315.71 458.27 L317.72 459.02 L319.72 459.77 L321.73 460.53 L323.74 461.33 L325.74 462.16 L327.75 463.02 L329.75 463.91 L331.76 464.79 L333.77 465.65 L335.77 466.48 L337.78 467.27 L339.79 468.01 L341.79 468.71 L343.8 469.37 L345.8 470.01 L347.81 470.63 L349.82 471.23 L351.82 471.81 L353.83 472.38 L355.84 472.94 L357.84 473.48 L359.85 474.03 L361.85 474.58 L363.86 475.12 L365.87 475.65 L367.87 476.16 L369.88 476.66 L371.89 477.15 L373.89 477.63 L375.9 478.09 L377.9 478.54 L379.91 478.97 L381.92 479.4 L383.92 479.81 L385.93 480.22 L387.93 480.61 L389.94 480.99 L391.95 481.36 L393.95 481.72 L395.96 482.06 L397.97 482.38 L399.97 482.7 L401.98 483 L403.98 483.3 L405.99 483.59 L408 483.86 L410 484.13 L412.01 484.39 L414.02 484.64 L416.02 484.88 L418.03 485.12 L420.03 485.35 L422.04 485.58 L424.05 485.8 L426.05 486.01 L428.06 486.22 L430.07 486.42 L432.07 486.62 L434.08 486.81 L436.08 486.99 L438.09 487.17 L440.1 487.34 L442.1 487.51 L444.11 487.67 L446.12 487.83 L448.12 487.99 L450.13 488.14 L452.13 488.28 L454.14 488.42 L456.15 488.56 L458.15 488.7 L460.16 488.82 L462.17 488.95 L464.17 489.07 L466.18 489.19 L468.18 489.31 L470.19 489.42 L472.2 489.53 L474.2 489.64 L476.21 489.74 L478.22 489.84 L480.22 489.94 L482.23 490.03 L484.23 490.12 L486.24 490.21 L488.25 490.29 L490.25 490.37 L492.26 490.45 L494.26 490.52 L496.27 490.59 L498.28 490.66 L500.28 490.73 L502.29 490.8 L504.3 490.86 L506.3 490.92 L508.31 490.98 L510.31 491.04 L512.32 491.1 L514.33 491.16 L516.33 491.21 L518.34 491.27 L520.35 491.32 L522.35 491.38 L524.36 491.43 L526.36 491.48 L528.37 491.53 L530.38 491.58 L532.38 491.62 L534.39 491.67 L536.4 491.71 L538.4 491.75 L540.41 491.79 L542.41 491.83 L544.42 491.87 L546.43 491.91 L548.43 491.95 L550.44 491.98 L552.45 492.02 L554.45 492.05 L556.46 492.09 L558.46 492.12 L560.47 492.15 L562.48 492.18 L564.48 492.22 L566.49 492.25 L568.5 492.28 L570.5 492.3 L572.51 492.33 L574.51 492.36 L576.52 492.39 L578.53 492.41 L580.53 492.44 L582.54 492.46 L584.55 492.49 L586.55 492.51 L588.56 492.54 L590.56 492.56 L592.57 492.59 L594.58 492.61 L596.58 492.64 L598.59 492.66 L600.59 492.69 L602.6 492.71 L604.61 492.74 L606.61 492.76 L608.62 492.79 L610.63 492.81 L612.63 492.84 L614.64 492.86 L616.64 492.89 L618.65 492.91 L620.66 492.94 L622.66 492.97 L624.67 492.99 L626.68 493.02 L628.68 493.06 L630.69 493.09 L632.69 493.12 L634.7 493.16 L636.71 493.2 L638.71 493.24 L640.72 493.29 L642.73 493.34 L644.73 493.4 L646.74 493.45 L648.74 493.52 L650.75 493.58 L652.76 493.65 L654.76 493.72 L656.77 493.81 L658.78 493.9 L660.78 494.01 L662.79 494.13 L664.79 494.29 L666.8 494.47 L668.81 494.67 L670.81 494.88 L672.82 495.1 L674.83 495.34 L676.83 495.59 L678.84 495.87 L680.84 496.15 L682.85 496.46 L684.86 496.78 L686.86 497.11 L688.87 497.46 L690.88 497.84 L692.88 498.23 L694.89 498.65 L696.89 499.1 L698.9 499.58 L700.06 499.87 L701.23 500.17 L702.39 500.49 L703.55 500.82 L704.71 501.17 L705.88 501.53 L707.04 501.91 L708.2 502.31 L709.36 502.72 L710.53 503.16 L711.69 503.61 L712.85 504.1 L714.01 504.69 L715.18 505.36 L716.34 506.06 L717.5 506.69 L718.66 507.21 L719.83 507.63 L720.99 508.01 L722.15 508.38 L723.32 508.79 L724.48 509.29 L725.64 509.89 L726.8 510.56 L727.97 511.24 L729.13 512 L730.29 512.82 L731.45 513.61 L732.62 514.31 L733.78 514.83 L734.94 515.19 L736.1 515.5 L737.27 515.86 L738.43 516.33 L739.59 516.85 L740.75 517.41 L741.92 518.01 L743.08 518.65 L744.24 519.33 L745.4 520.03 L746.57 520.78 L747.73 521.57 L748.89 522.4 L750.06 523.26 L751.22 524.13 L752.38 525.02 L753.54 525.95 L754.71 526.91 L755.87 527.89" fill="none" stroke="#6b5fb0" stroke-width="1.35" stroke-linecap="butt" stroke-linejoin="round" />
<path d="M132.05 224.96 L132.85 226.16 L133.65 227.69 L134.45 229.44 L135.25 231.43 L136.05 233.99 L136.85 236.9 L137.65 239.9 L138.46 242.83 L139.26 245.82 L140.06 248.83 L140.86 251.75 L141.66 254.57 L142.46 257.36 L143.26 260.12 L144.06 262.84 L144.86 265.52 L145.66 268.17 L146.46 270.78 L147.26 273.37 L148.06 275.92 L148.86 278.45 L149.66 280.96 L150.46 283.43 L151.27 285.86 L152.07 288.24 L152.87 290.58 L153.67 292.88 L154.47 295.15 L155.27 297.39 L156.07 299.6 L156.87 301.78 L157.67 303.94 L158.47 306.07 L159.27 308.18 L160.07 310.26 L160.87 312.32 L161.67 314.35 L162.47 316.37 L163.27 318.36 L164.08 320.33 L164.88 322.29 L165.68 324.25 L166.48 326.19 L167.28 328.11 L168.08 330.01 L168.88 331.89 L169.68 333.72 L170.48 335.52 L171.28 337.27 L172.08 338.97 L172.88 340.63 L173.68 342.27 L174.48 343.86 L175.28 345.43 L176.08 346.98 L176.89 348.5 L177.69 349.99 L178.49 351.47 L179.29 352.93 L181.29 356.53 L183.3 360.04 L185.31 363.36 L187.31 366.43 L189.32 369.27 L191.32 371.92 L193.33 374.45 L195.34 376.9 L197.34 379.29 L199.35 381.57 L201.36 383.72 L203.36 385.7 L205.37 387.59 L207.37 389.4 L209.38 391.15 L211.39 392.83 L213.39 394.44 L215.4 395.98 L217.41 397.47 L219.41 398.9 L221.42 400.26 L223.42 401.57 L225.43 402.83 L227.44 404.06 L229.44 405.26 L231.45 406.44 L233.46 407.6 L235.46 408.72 L237.47 409.79 L239.47 410.84 L241.48 411.87 L243.49 412.91 L245.49 413.98 L247.5 415.1 L249.51 416.27 L251.51 417.48 L253.52 418.72 L255.52 419.99 L257.53 421.28 L259.54 422.61 L261.54 423.95 L263.55 425.32 L265.56 426.72 L267.56 428.17 L269.57 429.67 L271.57 431.18 L273.58 432.7 L275.59 434.21 L277.59 435.69 L279.6 437.14 L281.61 438.58 L283.61 440.01 L285.62 441.44 L287.62 442.85 L289.63 444.23 L291.64 445.57 L293.64 446.86 L295.65 448.1 L297.65 449.33 L299.66 450.52 L301.67 451.69 L303.67 452.82 L305.68 453.9 L307.69 454.93 L309.69 455.9 L311.7 456.79 L313.7 457.58 L315.71 458.35 L317.72 459.11 L319.72 459.87 L321.73 460.65 L323.74 461.47 L325.74 462.31 L327.75 463.19 L329.75 464.09 L331.76 464.99 L333.77 465.87 L335.77 466.72 L337.78 467.52 L339.79 468.28 L341.79 468.99 L343.8 469.67 L345.8 470.33 L347.81 470.96 L349.82 471.58 L351.82 472.18 L353.83 472.76 L355.84 473.34 L357.84 473.9 L359.85 474.46 L361.85 475.01 L363.86 475.55 L365.87 476.08 L367.87 476.59 L369.88 477.1 L371.89 477.59 L373.89 478.07 L375.9 478.53 L377.9 478.98 L379.91 479.41 L381.92 479.83 L383.92 480.25 L385.93 480.65 L387.93 481.04 L389.94 481.42 L391.95 481.79 L393.95 482.14 L395.96 482.48 L397.97 482.8 L399.97 483.11 L401.98 483.41 L403.98 483.71 L405.99 483.99 L408 484.26 L410 484.53 L412.01 484.79 L414.02 485.03 L416.02 485.27 L418.03 485.51 L420.03 485.74 L422.04 485.96 L424.05 486.18 L426.05 486.39 L428.06 486.6 L430.07 486.8 L432.07 486.99 L434.08 487.18 L436.08 487.37 L438.09 487.54 L440.1 487.71 L442.1 487.88 L444.11 488.04 L446.12 488.2 L448.12 488.35 L450.13 488.5 L452.13 488.65 L454.14 488.79 L456.15 488.93 L458.15 489.06 L460.16 489.19 L462.17 489.31 L464.17 489.43 L466.18 489.55 L468.18 489.67 L470.19 489.78 L472.2 489.89 L474.2 490 L476.21 490.1 L478.22 490.2 L480.22 490.3 L482.23 490.4 L484.23 490.49 L486.24 490.57 L488.25 490.65 L490.25 490.73 L492.26 490.81 L494.26 490.88 L496.27 490.96 L498.28 491.03 L500.28 491.09 L502.29 491.16 L504.3 491.22 L506.3 491.29 L508.31 491.35 L510.31 491.41 L512.32 491.46 L514.33 491.52 L516.33 491.58 L518.34 491.63 L520.35 491.69 L522.35 491.74 L524.36 491.79 L526.36 491.85 L528.37 491.9 L530.38 491.94 L532.38 491.99 L534.39 492.04 L536.4 492.08 L538.4 492.12 L540.41 492.17 L542.41 492.21 L544.42 492.25 L546.43 492.29 L548.43 492.32 L550.44 492.36 L552.45 492.4 L554.45 492.43 L556.46 492.47 L558.46 492.5 L560.47 492.54 L562.48 492.57 L564.48 492.6 L566.49 492.63 L568.5 492.66 L570.5 492.69 L572.51 492.72 L574.51 492.75 L576.52 492.78 L578.53 492.8 L580.53 492.83 L582.54 492.86 L584.55 492.88 L586.55 492.91 L588.56 492.93 L590.56 492.96 L592.57 492.98 L594.58 493.01 L596.58 493.03 L598.59 493.06 L600.59 493.09 L602.6 493.11 L604.61 493.14 L606.61 493.16 L608.62 493.19 L610.63 493.21 L612.63 493.24 L614.64 493.26 L616.64 493.29 L618.65 493.31 L620.66 493.34 L622.66 493.37 L624.67 493.39 L626.68 493.42 L628.68 493.45 L630.69 493.49 L632.69 493.52 L634.7 493.56 L636.71 493.6 L638.71 493.64 L640.72 493.68 L642.73 493.73 L644.73 493.79 L646.74 493.84 L648.74 493.9 L650.75 493.96 L652.76 494.03 L654.76 494.1 L656.77 494.18 L658.78 494.27 L660.78 494.37 L662.79 494.49 L664.79 494.64 L666.8 494.81 L668.81 495 L670.81 495.21 L672.82 495.42 L674.83 495.64 L676.83 495.89 L678.84 496.15 L680.84 496.43 L682.85 496.72 L684.86 497.03 L686.86 497.35 L688.87 497.69 L690.88 498.05 L692.88 498.43 L694.89 498.84 L696.89 499.27 L698.9 499.74 L700.06 500.02 L701.23 500.31 L702.39 500.62 L703.55 500.94 L704.71 501.28 L705.88 501.63 L707.04 502.01 L708.2 502.39 L709.36 502.8 L710.53 503.23 L711.69 503.68 L712.85 504.15 L714.01 504.73 L715.18 505.4 L716.34 506.08 L717.5 506.72 L718.66 507.23 L719.83 507.65 L720.99 508.02 L722.15 508.39 L723.32 508.8 L724.48 509.3 L725.64 509.9 L726.8 510.55 L727.97 511.23 L729.13 511.99 L730.29 512.81 L731.45 513.6 L732.62 514.29 L733.78 514.81 L734.94 515.17 L736.1 515.47 L737.27 515.82 L738.43 516.28 L739.59 516.8 L740.75 517.36 L741.92 517.95 L743.08 518.59 L744.24 519.25 L745.4 519.96 L746.57 520.7 L747.73 521.49 L748.89 522.32 L750.06 523.17 L751.22 524.04 L752.38 524.92 L753.54 525.84 L754.71 526.78 L755.87 527.74" fill="none" stroke="#92278f" stroke-width="1.35" stroke-linecap="butt" stroke-linejoin="round" />
<path d="M132.05 223.07 L132.85 224.36 L133.65 225.96 L134.45 227.78 L135.25 229.83 L136.05 232.43 L136.85 235.37 L137.65 238.39 L138.46 241.36 L139.26 244.39 L140.06 247.42 L140.86 250.37 L141.66 253.22 L142.46 256.04 L143.26 258.83 L144.06 261.58 L144.86 264.29 L145.66 266.97 L146.46 269.62 L147.26 272.23 L148.06 274.82 L148.86 277.39 L149.66 279.92 L150.46 282.42 L151.27 284.87 L152.07 287.28 L152.87 289.63 L153.67 291.95 L154.47 294.24 L155.27 296.49 L156.07 298.7 L156.87 300.89 L157.67 303.06 L158.47 305.21 L159.27 307.32 L160.07 309.41 L160.87 311.47 L161.67 313.51 L162.47 315.53 L163.27 317.53 L164.08 319.5 L164.88 321.47 L165.68 323.44 L166.48 325.39 L167.28 327.32 L168.08 329.23 L168.88 331.11 L169.68 332.96 L170.48 334.76 L171.28 336.52 L172.08 338.23 L172.88 339.9 L173.68 341.54 L174.48 343.14 L175.28 344.72 L176.08 346.26 L176.89 347.79 L177.69 349.29 L178.49 350.77 L179.29 352.24 L181.29 355.86 L183.3 359.39 L185.31 362.74 L187.31 365.83 L189.32 368.69 L191.32 371.37 L193.33 373.92 L195.34 376.39 L197.34 378.8 L199.35 381.11 L201.36 383.28 L203.36 385.27 L205.37 387.18 L207.37 389 L209.38 390.76 L211.39 392.45 L213.39 394.07 L215.4 395.63 L217.41 397.13 L219.41 398.56 L221.42 399.94 L223.42 401.27 L225.43 402.55 L227.44 403.79 L229.44 405 L231.45 406.2 L233.46 407.38 L235.46 408.51 L237.47 409.6 L239.47 410.66 L241.48 411.71 L243.49 412.77 L245.49 413.85 L247.5 414.98 L249.51 416.16 L251.51 417.38 L253.52 418.63 L255.52 419.9 L257.53 421.21 L259.54 422.54 L261.54 423.89 L263.55 425.26 L265.56 426.67 L267.56 428.13 L269.57 429.63 L271.57 431.15 L273.58 432.68 L275.59 434.2 L277.59 435.69 L279.6 437.14 L281.61 438.59 L283.61 440.03 L285.62 441.47 L287.62 442.89 L289.63 444.28 L291.64 445.62 L293.64 446.92 L295.65 448.16 L297.65 449.38 L299.66 450.58 L301.67 451.75 L303.67 452.88 L305.68 453.96 L307.69 454.99 L309.69 455.95 L311.7 456.85 L313.7 457.66 L315.71 458.43 L317.72 459.21 L319.72 459.99 L321.73 460.78 L323.74 461.61 L325.74 462.47 L327.75 463.37 L329.75 464.28 L331.76 465.19 L333.77 466.09 L335.77 466.95 L337.78 467.77 L339.79 468.54 L341.79 469.27 L343.8 469.97 L345.8 470.64 L347.81 471.29 L349.82 471.92 L351.82 472.54 L353.83 473.14 L355.84 473.73 L357.84 474.31 L359.85 474.87 L361.85 475.42 L363.86 475.96 L365.87 476.5 L367.87 477.02 L369.88 477.52 L371.89 478.02 L373.89 478.49 L375.9 478.96 L377.9 479.4 L379.91 479.83 L381.92 480.26 L383.92 480.67 L385.93 481.07 L387.93 481.46 L389.94 481.83 L391.95 482.2 L393.95 482.55 L395.96 482.88 L397.97 483.2 L399.97 483.51 L401.98 483.81 L403.98 484.1 L405.99 484.38 L408 484.65 L410 484.92 L412.01 485.17 L414.02 485.41 L416.02 485.65 L418.03 485.88 L420.03 486.11 L422.04 486.33 L424.05 486.55 L426.05 486.76 L428.06 486.96 L430.07 487.16 L432.07 487.36 L434.08 487.54 L436.08 487.73 L438.09 487.9 L440.1 488.07 L442.1 488.24 L444.11 488.4 L446.12 488.56 L448.12 488.71 L450.13 488.86 L452.13 489 L454.14 489.14 L456.15 489.28 L458.15 489.41 L460.16 489.54 L462.17 489.66 L464.17 489.79 L466.18 489.9 L468.18 490.02 L470.19 490.13 L472.2 490.24 L474.2 490.35 L476.21 490.46 L478.22 490.56 L480.22 490.65 L482.23 490.75 L484.23 490.84 L486.24 490.92 L488.25 491.01 L490.25 491.09 L492.26 491.16 L494.26 491.24 L496.27 491.31 L498.28 491.38 L500.28 491.45 L502.29 491.51 L504.3 491.57 L506.3 491.64 L508.31 491.7 L510.31 491.76 L512.32 491.82 L514.33 491.88 L516.33 491.93 L518.34 491.99 L520.35 492.04 L522.35 492.1 L524.36 492.15 L526.36 492.2 L528.37 492.25 L530.38 492.3 L532.38 492.35 L534.39 492.4 L536.4 492.44 L538.4 492.48 L540.41 492.53 L542.41 492.57 L544.42 492.61 L546.43 492.65 L548.43 492.69 L550.44 492.73 L552.45 492.77 L554.45 492.8 L556.46 492.84 L558.46 492.87 L560.47 492.91 L562.48 492.94 L564.48 492.97 L566.49 493.01 L568.5 493.04 L570.5 493.07 L572.51 493.1 L574.51 493.13 L576.52 493.16 L578.53 493.18 L580.53 493.21 L582.54 493.24 L584.55 493.27 L586.55 493.29 L588.56 493.32 L590.56 493.34 L592.57 493.37 L594.58 493.4 L596.58 493.42 L598.59 493.45 L600.59 493.47 L602.6 493.5 L604.61 493.53 L606.61 493.55 L608.62 493.58 L610.63 493.6 L612.63 493.63 L614.64 493.65 L616.64 493.68 L618.65 493.7 L620.66 493.73 L622.66 493.75 L624.67 493.78 L626.68 493.81 L628.68 493.84 L630.69 493.87 L632.69 493.91 L634.7 493.94 L636.71 493.98 L638.71 494.02 L640.72 494.07 L642.73 494.11 L644.73 494.16 L646.74 494.22 L648.74 494.27 L650.75 494.33 L652.76 494.4 L654.76 494.47 L656.77 494.54 L658.78 494.63 L660.78 494.73 L662.79 494.84 L664.79 494.98 L666.8 495.15 L668.81 495.33 L670.81 495.52 L672.82 495.72 L674.83 495.94 L676.83 496.18 L678.84 496.43 L680.84 496.7 L682.85 496.98 L684.86 497.27 L686.86 497.58 L688.87 497.91 L690.88 498.26 L692.88 498.63 L694.89 499.02 L696.89 499.44 L698.9 499.89 L700.06 500.16 L701.23 500.45 L702.39 500.75 L703.55 501.06 L704.71 501.39 L705.88 501.74 L707.04 502.1 L708.2 502.48 L709.36 502.88 L710.53 503.3 L711.69 503.74 L712.85 504.2 L714.01 504.77 L715.18 505.43 L716.34 506.11 L717.5 506.74 L718.66 507.25 L719.83 507.66 L720.99 508.03 L722.15 508.4 L723.32 508.81 L724.48 509.3 L725.64 509.9 L726.8 510.55 L727.97 511.22 L729.13 511.98 L730.29 512.8 L731.45 513.59 L732.62 514.28 L733.78 514.79 L734.94 515.14 L736.1 515.43 L737.27 515.78 L738.43 516.23 L739.59 516.75 L740.75 517.3 L741.92 517.89 L743.08 518.52 L744.24 519.19 L745.4 519.88 L746.57 520.62 L747.73 521.41 L748.89 522.23 L750.06 523.08 L751.22 523.95 L752.38 524.82 L753.54 525.72 L754.71 526.65 L755.87 527.6" fill="none" stroke="#9d1c20" stroke-width="1.35" stroke-linecap="butt" stroke-linejoin="round" />
<path d="M132.05 219.76 L132.85 221.2 L133.65 222.93 L134.45 224.87 L135.25 227.03 L136.05 229.69 L136.85 232.68 L137.65 235.76 L138.46 238.79 L139.26 241.87 L140.06 244.96 L140.86 247.96 L141.66 250.86 L142.46 253.73 L143.26 256.57 L144.06 259.37 L144.86 262.14 L145.66 264.87 L146.46 267.57 L147.26 270.25 L148.06 272.9 L148.86 275.52 L149.66 278.11 L150.46 280.66 L151.27 283.15 L152.07 285.59 L152.87 287.98 L153.67 290.33 L154.47 292.64 L155.27 294.91 L156.07 297.15 L156.87 299.35 L157.67 301.54 L158.47 303.7 L159.27 305.82 L160.07 307.92 L160.87 309.99 L161.67 312.04 L162.47 314.07 L163.27 316.07 L164.08 318.06 L164.88 320.04 L165.68 322.02 L166.48 323.99 L167.28 325.94 L168.08 327.86 L168.88 329.76 L169.68 331.62 L170.48 333.44 L171.28 335.21 L172.08 336.93 L172.88 338.61 L173.68 340.26 L174.48 341.87 L175.28 343.46 L176.08 345.01 L176.89 346.55 L177.69 348.06 L178.49 349.55 L179.29 351.03 L181.29 354.7 L183.3 358.26 L185.31 361.65 L187.31 364.79 L189.32 367.68 L191.32 370.41 L193.33 373 L195.34 375.51 L197.34 377.96 L199.35 380.31 L201.36 382.51 L203.36 384.53 L205.37 386.46 L207.37 388.31 L209.38 390.08 L211.39 391.78 L213.39 393.42 L215.4 395 L217.41 396.52 L219.41 397.98 L221.42 399.39 L223.42 400.74 L225.43 402.04 L227.44 403.31 L229.44 404.56 L231.45 405.78 L233.46 406.98 L235.46 408.15 L237.47 409.26 L239.47 410.35 L241.48 411.43 L243.49 412.51 L245.49 413.62 L247.5 414.77 L249.51 415.97 L251.51 417.21 L253.52 418.47 L255.52 419.76 L257.53 421.07 L259.54 422.41 L261.54 423.77 L263.55 425.16 L265.56 426.58 L267.56 428.06 L269.57 429.57 L271.57 431.11 L273.58 432.65 L275.59 434.18 L277.59 435.68 L279.6 437.14 L281.61 438.6 L283.61 440.07 L285.62 441.52 L287.62 442.95 L289.63 444.35 L291.64 445.71 L293.64 447.01 L295.65 448.26 L297.65 449.49 L299.66 450.69 L301.67 451.85 L303.67 452.98 L305.68 454.06 L307.69 455.09 L309.69 456.05 L311.7 456.95 L313.7 457.77 L315.71 458.56 L317.72 459.34 L319.72 460.14 L321.73 460.95 L323.74 461.79 L325.74 462.66 L327.75 463.57 L329.75 464.49 L331.76 465.42 L333.77 466.33 L335.77 467.2 L337.78 468.04 L339.79 468.82 L341.79 469.56 L343.8 470.27 L345.8 470.96 L347.81 471.62 L349.82 472.27 L351.82 472.89 L353.83 473.51 L355.84 474.11 L357.84 474.7 L359.85 475.27 L361.85 475.83 L363.86 476.37 L365.87 476.9 L367.87 477.43 L369.88 477.94 L371.89 478.43 L373.89 478.91 L375.9 479.37 L377.9 479.82 L379.91 480.25 L381.92 480.67 L383.92 481.08 L385.93 481.48 L387.93 481.86 L389.94 482.24 L391.95 482.6 L393.95 482.95 L395.96 483.28 L397.97 483.6 L399.97 483.9 L401.98 484.2 L403.98 484.49 L405.99 484.76 L408 485.03 L410 485.29 L412.01 485.54 L414.02 485.79 L416.02 486.02 L418.03 486.25 L420.03 486.48 L422.04 486.7 L424.05 486.91 L426.05 487.12 L428.06 487.32 L430.07 487.52 L432.07 487.71 L434.08 487.9 L436.08 488.08 L438.09 488.25 L440.1 488.42 L442.1 488.59 L444.11 488.75 L446.12 488.9 L448.12 489.06 L450.13 489.2 L452.13 489.35 L454.14 489.49 L456.15 489.62 L458.15 489.76 L460.16 489.88 L462.17 490.01 L464.17 490.13 L466.18 490.25 L468.18 490.36 L470.19 490.48 L472.2 490.59 L474.2 490.7 L476.21 490.8 L478.22 490.9 L480.22 491 L482.23 491.09 L484.23 491.18 L486.24 491.27 L488.25 491.35 L490.25 491.43 L492.26 491.51 L494.26 491.58 L496.27 491.65 L498.28 491.72 L500.28 491.79 L502.29 491.85 L504.3 491.92 L506.3 491.98 L508.31 492.04 L510.31 492.1 L512.32 492.16 L514.33 492.22 L516.33 492.28 L518.34 492.33 L520.35 492.39 L522.35 492.44 L524.36 492.5 L526.36 492.55 L528.37 492.6 L530.38 492.65 L532.38 492.7 L534.39 492.75 L536.4 492.79 L538.4 492.84 L540.41 492.88 L542.41 492.92 L544.42 492.96 L546.43 493.01 L548.43 493.05 L550.44 493.09 L552.45 493.12 L554.45 493.16 L556.46 493.2 L558.46 493.24 L560.47 493.27 L562.48 493.31 L564.48 493.34 L566.49 493.37 L568.5 493.4 L570.5 493.44 L572.51 493.47 L574.51 493.5 L576.52 493.53 L578.53 493.56 L580.53 493.58 L582.54 493.61 L584.55 493.64 L586.55 493.67 L588.56 493.69 L590.56 493.72 L592.57 493.75 L594.58 493.77 L596.58 493.8 L598.59 493.82 L600.59 493.85 L602.6 493.88 L604.61 493.9 L606.61 493.93 L608.62 493.96 L610.63 493.98 L612.63 494.01 L614.64 494.03 L616.64 494.06 L618.65 494.08 L620.66 494.11 L622.66 494.13 L624.67 494.16 L626.68 494.19 L628.68 494.22 L630.69 494.25 L632.69 494.28 L634.7 494.32 L636.71 494.35 L638.71 494.39 L640.72 494.44 L642.73 494.48 L644.73 494.53 L646.74 494.58 L648.74 494.64 L650.75 494.69 L652.76 494.76 L654.76 494.82 L656.77 494.9 L658.78 494.98 L660.78 495.07 L662.79 495.18 L664.79 495.32 L666.8 495.47 L668.81 495.65 L670.81 495.83 L672.82 496.02 L674.83 496.23 L676.83 496.46 L678.84 496.7 L680.84 496.96 L682.85 497.23 L684.86 497.51 L686.86 497.81 L688.87 498.13 L690.88 498.46 L692.88 498.82 L694.89 499.2 L696.89 499.6 L698.9 500.04 L700.06 500.3 L701.23 500.58 L702.39 500.87 L703.55 501.18 L704.71 501.5 L705.88 501.84 L707.04 502.19 L708.2 502.56 L709.36 502.95 L710.53 503.36 L711.69 503.79 L712.85 504.25 L714.01 504.82 L715.18 505.47 L716.34 506.14 L717.5 506.76 L718.66 507.26 L719.83 507.68 L720.99 508.05 L722.15 508.41 L723.32 508.82 L724.48 509.31 L725.64 509.9 L726.8 510.55 L727.97 511.22 L729.13 511.97 L730.29 512.78 L731.45 513.57 L732.62 514.26 L733.78 514.77 L734.94 515.11 L736.1 515.4 L737.27 515.74 L738.43 516.19 L739.59 516.7 L740.75 517.25 L741.92 517.83 L743.08 518.46 L744.24 519.12 L745.4 519.81 L746.57 520.55 L747.73 521.33 L748.89 522.15 L750.06 523 L751.22 523.86 L752.38 524.72 L753.54 525.62 L754.71 526.53 L755.87 527.47" fill="none" stroke="#999a3b" stroke-width="1.35" stroke-linecap="butt" stroke-linejoin="round" />
<path d="M132.05 195.18 L132.85 197.74 L133.65 200.42 L134.45 203.23 L135.25 206.22 L136.05 209.41 L136.85 212.75 L137.65 216.19 L138.46 219.69 L139.26 223.2 L140.06 226.65 L140.86 230.02 L141.66 233.3 L142.46 236.56 L143.26 239.8 L144.06 243 L144.86 246.17 L145.66 249.29 L146.46 252.4 L147.26 255.51 L148.06 258.6 L148.86 261.65 L149.66 264.64 L150.46 267.55 L151.27 270.37 L152.07 273.08 L152.87 275.7 L153.67 278.26 L154.47 280.75 L155.27 283.18 L156.07 285.56 L156.87 287.9 L157.67 290.21 L158.47 292.47 L159.27 294.68 L160.07 296.85 L160.87 298.99 L161.67 301.1 L162.47 303.19 L163.27 305.27 L164.08 307.34 L164.88 309.43 L165.68 311.51 L166.48 313.59 L167.28 315.65 L168.08 317.69 L168.88 319.71 L169.68 321.68 L170.48 323.61 L171.28 325.48 L172.08 327.29 L172.88 329.05 L173.68 330.77 L174.48 332.46 L175.28 334.11 L176.08 335.74 L176.89 337.34 L177.69 338.93 L178.49 340.51 L179.29 342.08 L181.29 346.01 L183.3 349.88 L185.31 353.57 L187.31 357.01 L189.32 360.21 L191.32 363.22 L193.33 366.11 L195.34 368.91 L197.34 371.68 L199.35 374.33 L201.36 376.81 L203.36 379.04 L205.37 381.14 L207.37 383.13 L209.38 385.03 L211.39 386.86 L213.39 388.62 L215.4 390.34 L217.41 392.02 L219.41 393.67 L221.42 395.26 L223.42 396.81 L225.43 398.31 L227.44 399.78 L229.44 401.22 L231.45 402.65 L233.46 404.05 L235.46 405.41 L237.47 406.74 L239.47 408.03 L241.48 409.32 L243.49 410.6 L245.49 411.9 L247.5 413.22 L249.51 414.57 L251.51 415.93 L253.52 417.3 L255.52 418.68 L257.53 420.08 L259.54 421.49 L261.54 422.94 L263.55 424.41 L265.56 425.94 L267.56 427.51 L269.57 429.12 L271.57 430.75 L273.58 432.39 L275.59 434.01 L277.59 435.61 L279.6 437.17 L281.61 438.74 L283.61 440.32 L285.62 441.88 L287.62 443.42 L289.63 444.92 L291.64 446.36 L293.64 447.72 L295.65 449.01 L297.65 450.25 L299.66 451.45 L301.67 452.62 L303.67 453.73 L305.68 454.8 L307.69 455.82 L309.69 456.79 L311.7 457.7 L313.7 458.51 L315.71 459.29 L317.72 460.07 L319.72 460.85 L321.73 461.65 L323.74 462.48 L325.74 463.34 L327.75 464.24 L329.75 465.15 L331.76 466.06 L333.77 466.95 L335.77 467.81 L337.78 468.62 L339.79 469.39 L341.79 470.11 L343.8 470.8 L345.8 471.47 L347.81 472.12 L349.82 472.74 L351.82 473.35 L353.83 473.95 L355.84 474.53 L357.84 475.1 L359.85 475.67 L361.85 476.22 L363.86 476.77 L365.87 477.3 L367.87 477.83 L369.88 478.34 L371.89 478.84 L373.89 479.32 L375.9 479.78 L377.9 480.22 L379.91 480.65 L381.92 481.07 L383.92 481.48 L385.93 481.88 L387.93 482.26 L389.94 482.63 L391.95 482.99 L393.95 483.34 L395.96 483.67 L397.97 483.98 L399.97 484.29 L401.98 484.58 L403.98 484.86 L405.99 485.14 L408 485.4 L410 485.66 L412.01 485.91 L414.02 486.15 L416.02 486.38 L418.03 486.61 L420.03 486.83 L422.04 487.05 L424.05 487.26 L426.05 487.47 L428.06 487.67 L430.07 487.87 L432.07 488.06 L434.08 488.24 L436.08 488.42 L438.09 488.6 L440.1 488.76 L442.1 488.93 L444.11 489.09 L446.12 489.24 L448.12 489.39 L450.13 489.54 L452.13 489.69 L454.14 489.83 L456.15 489.96 L458.15 490.09 L460.16 490.22 L462.17 490.34 L464.17 490.47 L466.18 490.58 L468.18 490.7 L470.19 490.81 L472.2 490.92 L474.2 491.03 L476.21 491.14 L478.22 491.24 L480.22 491.33 L482.23 491.43 L484.23 491.52 L486.24 491.6 L488.25 491.69 L490.25 491.77 L492.26 491.84 L494.26 491.92 L496.27 491.99 L498.28 492.06 L500.28 492.12 L502.29 492.19 L504.3 492.25 L506.3 492.32 L508.31 492.38 L510.31 492.44 L512.32 492.5 L514.33 492.56 L516.33 492.61 L518.34 492.67 L520.35 492.73 L522.35 492.78 L524.36 492.84 L526.36 492.89 L528.37 492.94 L530.38 492.99 L532.38 493.04 L534.39 493.09 L536.4 493.13 L538.4 493.18 L540.41 493.22 L542.41 493.27 L544.42 493.31 L546.43 493.35 L548.43 493.39 L550.44 493.44 L552.45 493.47 L554.45 493.51 L556.46 493.55 L558.46 493.59 L560.47 493.63 L562.48 493.66 L564.48 493.7 L566.49 493.73 L568.5 493.76 L570.5 493.8 L572.51 493.83 L574.51 493.86 L576.52 493.89 L578.53 493.92 L580.53 493.95 L582.54 493.98 L584.55 494 L586.55 494.03 L588.56 494.06 L590.56 494.09 L592.57 494.11 L594.58 494.14 L596.58 494.17 L598.59 494.19 L600.59 494.22 L602.6 494.25 L604.61 494.27 L606.61 494.3 L608.62 494.33 L610.63 494.35 L612.63 494.38 L614.64 494.4 L616.64 494.43 L618.65 494.45 L620.66 494.48 L622.66 494.5 L624.67 494.53 L626.68 494.56 L628.68 494.59 L630.69 494.62 L632.69 494.65 L634.7 494.68 L636.71 494.72 L638.71 494.76 L640.72 494.8 L642.73 494.84 L644.73 494.89 L646.74 494.94 L648.74 494.99 L650.75 495.05 L652.76 495.11 L654.76 495.17 L656.77 495.24 L658.78 495.32 L660.78 495.41 L662.79 495.51 L664.79 495.64 L666.8 495.79 L668.81 495.96 L670.81 496.13 L672.82 496.31 L674.83 496.51 L676.83 496.73 L678.84 496.97 L680.84 497.21 L682.85 497.47 L684.86 497.75 L686.86 498.03 L688.87 498.34 L690.88 498.66 L692.88 499 L694.89 499.37 L696.89 499.76 L698.9 500.18 L700.06 500.44 L701.23 500.71 L702.39 501 L703.55 501.29 L704.71 501.61 L705.88 501.94 L707.04 502.28 L708.2 502.64 L709.36 503.03 L710.53 503.43 L711.69 503.85 L712.85 504.3 L714.01 504.86 L715.18 505.5 L716.34 506.17 L717.5 506.78 L718.66 507.28 L719.83 507.69 L720.99 508.06 L722.15 508.42 L723.32 508.83 L724.48 509.31 L725.64 509.9 L726.8 510.54 L727.97 511.21 L729.13 511.96 L730.29 512.77 L731.45 513.56 L732.62 514.25 L733.78 514.75 L734.94 515.08 L736.1 515.37 L737.27 515.7 L738.43 516.14 L739.59 516.65 L740.75 517.19 L741.92 517.77 L743.08 518.4 L744.24 519.05 L745.4 519.74 L746.57 520.47 L747.73 521.26 L748.89 522.08 L750.06 522.92 L751.22 523.77 L752.38 524.63 L753.54 525.51 L754.71 526.41 L755.87 527.33" fill="none" stroke="#1c75bc" stroke-width="1.35" stroke-linecap="butt" stroke-linejoin="round" />
<path d="M132.05 193.14 L132.85 195.73 L133.65 198.43 L134.45 201.27 L135.25 204.29 L136.05 207.52 L136.85 210.91 L137.65 214.41 L138.46 217.96 L139.26 221.51 L140.06 225.01 L140.86 228.41 L141.66 231.71 L142.46 234.98 L143.26 238.23 L144.06 241.44 L144.86 244.61 L145.66 247.75 L146.46 250.87 L147.26 253.99 L148.06 257.09 L148.86 260.15 L149.66 263.15 L150.46 266.08 L151.27 268.92 L152.07 271.66 L152.87 274.31 L153.67 276.89 L154.47 279.41 L155.27 281.87 L156.07 284.28 L156.87 286.66 L157.67 288.99 L158.47 291.29 L159.27 293.53 L160.07 295.74 L160.87 297.91 L161.67 300.05 L162.47 302.17 L163.27 304.27 L164.08 306.37 L164.88 308.47 L165.68 310.57 L166.48 312.66 L167.28 314.74 L168.08 316.8 L168.88 318.84 L169.68 320.83 L170.48 322.78 L171.28 324.67 L172.08 326.5 L172.88 328.29 L173.68 330.03 L174.48 331.74 L175.28 333.42 L176.08 335.07 L176.89 336.7 L177.69 338.32 L178.49 339.91 L179.29 341.51 L181.29 345.48 L183.3 349.37 L185.31 353.1 L187.31 356.56 L189.32 359.77 L191.32 362.8 L193.33 365.69 L195.34 368.51 L197.34 371.29 L199.35 373.97 L201.36 376.46 L203.36 378.71 L205.37 380.83 L207.37 382.84 L209.38 384.76 L211.39 386.61 L213.39 388.39 L215.4 390.12 L217.41 391.82 L219.41 393.48 L221.42 395.08 L223.42 396.63 L225.43 398.15 L227.44 399.62 L229.44 401.07 L231.45 402.5 L233.46 403.91 L235.46 405.28 L237.47 406.61 L239.47 407.92 L241.48 409.21 L243.49 410.5 L245.49 411.8 L247.5 413.13 L249.51 414.49 L251.51 415.85 L253.52 417.23 L255.52 418.61 L257.53 420.01 L259.54 421.43 L261.54 422.88 L263.55 424.36 L265.56 425.88 L267.56 427.47 L269.57 429.08 L271.57 430.72 L273.58 432.37 L275.59 434 L277.59 435.61 L279.6 437.18 L281.61 438.75 L283.61 440.33 L285.62 441.9 L287.62 443.44 L289.63 444.94 L291.64 446.39 L293.64 447.75 L295.65 449.04 L297.65 450.29 L299.66 451.49 L301.67 452.66 L303.67 453.78 L305.68 454.85 L307.69 455.88 L309.69 456.85 L311.7 457.76 L313.7 458.58 L315.71 459.38 L317.72 460.17 L319.72 460.97 L321.73 461.78 L323.74 462.62 L325.74 463.5 L327.75 464.41 L329.75 465.33 L331.76 466.25 L333.77 467.16 L335.77 468.03 L337.78 468.86 L339.79 469.64 L341.79 470.38 L343.8 471.08 L345.8 471.77 L347.81 472.43 L349.82 473.07 L351.82 473.69 L353.83 474.3 L355.84 474.89 L357.84 475.48 L359.85 476.05 L361.85 476.61 L363.86 477.16 L365.87 477.7 L367.87 478.22 L369.88 478.74 L371.89 479.23 L373.89 479.71 L375.9 480.18 L377.9 480.62 L379.91 481.05 L381.92 481.47 L383.92 481.87 L385.93 482.27 L387.93 482.65 L389.94 483.02 L391.95 483.38 L393.95 483.72 L395.96 484.05 L397.97 484.36 L399.97 484.66 L401.98 484.95 L403.98 485.23 L405.99 485.5 L408 485.77 L410 486.02 L412.01 486.27 L414.02 486.51 L416.02 486.74 L418.03 486.96 L420.03 487.18 L422.04 487.4 L424.05 487.61 L426.05 487.81 L428.06 488.01 L430.07 488.21 L432.07 488.4 L434.08 488.58 L436.08 488.76 L438.09 488.93 L440.1 489.1 L442.1 489.26 L444.11 489.42 L446.12 489.58 L448.12 489.73 L450.13 489.87 L452.13 490.02 L454.14 490.16 L456.15 490.29 L458.15 490.42 L460.16 490.55 L462.17 490.67 L464.17 490.79 L466.18 490.91 L468.18 491.03 L470.19 491.14 L472.2 491.25 L474.2 491.36 L476.21 491.46 L478.22 491.57 L480.22 491.66 L482.23 491.76 L484.23 491.85 L486.24 491.93 L488.25 492.02 L490.25 492.09 L492.26 492.17 L494.26 492.24 L496.27 492.32 L498.28 492.39 L500.28 492.45 L502.29 492.52 L504.3 492.58 L506.3 492.65 L508.31 492.71 L510.31 492.77 L512.32 492.83 L514.33 492.89 L516.33 492.95 L518.34 493 L520.35 493.06 L522.35 493.11 L524.36 493.17 L526.36 493.22 L528.37 493.27 L530.38 493.32 L532.38 493.37 L534.39 493.42 L536.4 493.47 L538.4 493.52 L540.41 493.56 L542.41 493.61 L544.42 493.65 L546.43 493.69 L548.43 493.74 L550.44 493.78 L552.45 493.82 L554.45 493.86 L556.46 493.9 L558.46 493.94 L560.47 493.97 L562.48 494.01 L564.48 494.05 L566.49 494.08 L568.5 494.11 L570.5 494.15 L572.51 494.18 L574.51 494.21 L576.52 494.24 L578.53 494.27 L580.53 494.3 L582.54 494.33 L584.55 494.36 L586.55 494.39 L588.56 494.42 L590.56 494.45 L592.57 494.47 L594.58 494.5 L596.58 494.53 L598.59 494.56 L600.59 494.58 L602.6 494.61 L604.61 494.64 L606.61 494.66 L608.62 494.69 L610.63 494.72 L612.63 494.74 L614.64 494.76 L616.64 494.79 L618.65 494.81 L620.66 494.84 L622.66 494.87 L624.67 494.89 L626.68 494.92 L628.68 494.95 L630.69 494.98 L632.69 495.01 L634.7 495.04 L636.71 495.08 L638.71 495.12 L640.72 495.16 L642.73 495.2 L644.73 495.24 L646.74 495.29 L648.74 495.34 L650.75 495.39 L652.76 495.45 L654.76 495.51 L656.77 495.58 L658.78 495.65 L660.78 495.74 L662.79 495.84 L664.79 495.96 L666.8 496.1 L668.81 496.26 L670.81 496.43 L672.82 496.6 L674.83 496.79 L676.83 497 L678.84 497.23 L680.84 497.46 L682.85 497.71 L684.86 497.98 L686.86 498.25 L688.87 498.54 L690.88 498.85 L692.88 499.19 L694.89 499.54 L696.89 499.92 L698.9 500.33 L700.06 500.58 L701.23 500.84 L702.39 501.12 L703.55 501.41 L704.71 501.71 L705.88 502.03 L707.04 502.37 L708.2 502.72 L709.36 503.1 L710.53 503.49 L711.69 503.91 L712.85 504.35 L714.01 504.9 L715.18 505.53 L716.34 506.19 L717.5 506.8 L718.66 507.3 L719.83 507.7 L720.99 508.07 L722.15 508.43 L723.32 508.84 L724.48 509.32 L725.64 509.9 L726.8 510.54 L727.97 511.2 L729.13 511.95 L730.29 512.76 L731.45 513.55 L732.62 514.23 L733.78 514.73 L734.94 515.06 L736.1 515.33 L737.27 515.67 L738.43 516.1 L739.59 516.6 L740.75 517.14 L741.92 517.72 L743.08 518.34 L744.24 518.99 L745.4 519.67 L746.57 520.4 L747.73 521.18 L748.89 522 L750.06 522.84 L751.22 523.68 L752.38 524.53 L753.54 525.4 L754.71 526.3 L755.87 527.2" fill="none" stroke="#00a79d" stroke-width="1.35" stroke-linecap="butt" stroke-linejoin="round" />
<path d="M132.05 189.58 L132.85 192.2 L133.65 194.94 L134.45 197.84 L135.25 200.92 L136.05 204.22 L136.85 207.7 L137.65 211.29 L138.46 214.93 L139.26 218.57 L140.06 222.14 L140.86 225.59 L141.66 228.93 L142.46 232.22 L143.26 235.48 L144.06 238.7 L144.86 241.89 L145.66 245.04 L146.46 248.18 L147.26 251.32 L148.06 254.45 L148.86 257.53 L149.66 260.56 L150.46 263.52 L151.27 266.4 L152.07 269.17 L152.87 271.87 L153.67 274.5 L154.47 277.07 L155.27 279.58 L156.07 282.05 L156.87 284.47 L157.67 286.87 L158.47 289.22 L159.27 291.52 L160.07 293.79 L160.87 296.01 L161.67 298.21 L162.47 300.38 L163.27 302.52 L164.08 304.66 L164.88 306.79 L165.68 308.92 L166.48 311.04 L167.28 313.15 L168.08 315.25 L168.88 317.31 L169.68 319.34 L170.48 321.32 L171.28 323.25 L172.08 325.12 L172.88 326.95 L173.68 328.74 L174.48 330.5 L175.28 332.22 L176.08 333.92 L176.89 335.59 L177.69 337.24 L178.49 338.88 L179.29 340.5 L181.29 344.54 L183.3 348.49 L185.31 352.26 L187.31 355.76 L189.32 359 L191.32 362.05 L193.33 364.98 L195.34 367.82 L197.34 370.62 L199.35 373.32 L201.36 375.84 L203.36 378.13 L205.37 380.28 L207.37 382.33 L209.38 384.29 L211.39 386.17 L213.39 387.98 L215.4 389.75 L217.41 391.47 L219.41 393.15 L221.42 394.76 L223.42 396.33 L225.43 397.85 L227.44 399.34 L229.44 400.8 L231.45 402.24 L233.46 403.66 L235.46 405.05 L237.47 406.39 L239.47 407.71 L241.48 409.02 L243.49 410.32 L245.49 411.64 L247.5 412.98 L249.51 414.35 L251.51 415.72 L253.52 417.1 L255.52 418.48 L257.53 419.89 L259.54 421.31 L261.54 422.77 L263.55 424.25 L265.56 425.79 L267.56 427.39 L269.57 429.02 L271.57 430.68 L273.58 432.34 L275.59 433.98 L277.59 435.6 L279.6 437.18 L281.61 438.76 L283.61 440.35 L285.62 441.92 L287.62 443.47 L289.63 444.98 L291.64 446.43 L293.64 447.8 L295.65 449.09 L297.65 450.35 L299.66 451.56 L301.67 452.73 L303.67 453.86 L305.68 454.94 L307.69 455.97 L309.69 456.95 L311.7 457.87 L313.7 458.7 L315.71 459.51 L317.72 460.31 L319.72 461.12 L321.73 461.95 L323.74 462.8 L325.74 463.69 L327.75 464.61 L329.75 465.54 L331.76 466.48 L333.77 467.39 L335.77 468.28 L337.78 469.12 L339.79 469.91 L341.79 470.66 L343.8 471.38 L345.8 472.07 L347.81 472.74 L349.82 473.39 L351.82 474.03 L353.83 474.65 L355.84 475.26 L357.84 475.86 L359.85 476.43 L361.85 476.99 L363.86 477.54 L365.87 478.08 L367.87 478.61 L369.88 479.12 L371.89 479.62 L373.89 480.1 L375.9 480.57 L377.9 481.01 L379.91 481.44 L381.92 481.85 L383.92 482.26 L385.93 482.65 L387.93 483.03 L389.94 483.4 L391.95 483.76 L393.95 484.09 L395.96 484.42 L397.97 484.73 L399.97 485.03 L401.98 485.32 L403.98 485.59 L405.99 485.86 L408 486.12 L410 486.37 L412.01 486.62 L414.02 486.85 L416.02 487.08 L418.03 487.31 L420.03 487.53 L422.04 487.74 L424.05 487.95 L426.05 488.15 L428.06 488.35 L430.07 488.54 L432.07 488.73 L434.08 488.91 L436.08 489.09 L438.09 489.26 L440.1 489.43 L442.1 489.59 L444.11 489.75 L446.12 489.9 L448.12 490.05 L450.13 490.2 L452.13 490.34 L454.14 490.48 L456.15 490.62 L458.15 490.75 L460.16 490.87 L462.17 491 L464.17 491.12 L466.18 491.24 L468.18 491.35 L470.19 491.47 L472.2 491.58 L474.2 491.68 L476.21 491.79 L478.22 491.89 L480.22 491.99 L482.23 492.08 L484.23 492.17 L486.24 492.26 L488.25 492.34 L490.25 492.42 L492.26 492.49 L494.26 492.57 L496.27 492.64 L498.28 492.71 L500.28 492.78 L502.29 492.84 L504.3 492.91 L506.3 492.97 L508.31 493.03 L510.31 493.09 L512.32 493.15 L514.33 493.21 L516.33 493.27 L518.34 493.33 L520.35 493.38 L522.35 493.44 L524.36 493.49 L526.36 493.55 L528.37 493.6 L530.38 493.65 L532.38 493.7 L534.39 493.75 L536.4 493.8 L538.4 493.85 L540.41 493.89 L542.41 493.94 L544.42 493.98 L546.43 494.03 L548.43 494.07 L550.44 494.11 L552.45 494.16 L554.45 494.2 L556.46 494.24 L558.46 494.28 L560.47 494.32 L562.48 494.35 L564.48 494.39 L566.49 494.43 L568.5 494.46 L570.5 494.49 L572.51 494.53 L574.51 494.56 L576.52 494.59 L578.53 494.62 L580.53 494.65 L582.54 494.68 L584.55 494.71 L586.55 494.74 L588.56 494.77 L590.56 494.8 L592.57 494.83 L594.58 494.86 L596.58 494.88 L598.59 494.91 L600.59 494.94 L602.6 494.97 L604.61 494.99 L606.61 495.02 L608.62 495.05 L610.63 495.07 L612.63 495.1 L614.64 495.12 L616.64 495.15 L618.65 495.17 L620.66 495.2 L622.66 495.22 L624.67 495.25 L626.68 495.28 L628.68 495.3 L630.69 495.33 L632.69 495.36 L634.7 495.4 L636.71 495.43 L638.71 495.47 L640.72 495.51 L642.73 495.55 L644.73 495.59 L646.74 495.64 L648.74 495.68 L650.75 495.74 L652.76 495.79 L654.76 495.85 L656.77 495.91 L658.78 495.98 L660.78 496.06 L662.79 496.16 L664.79 496.27 L666.8 496.41 L668.81 496.56 L670.81 496.72 L672.82 496.88 L674.83 497.07 L676.83 497.27 L678.84 497.48 L680.84 497.71 L682.85 497.95 L684.86 498.2 L686.86 498.47 L688.87 498.75 L690.88 499.05 L692.88 499.36 L694.89 499.71 L696.89 500.07 L698.9 500.47 L700.06 500.71 L701.23 500.96 L702.39 501.23 L703.55 501.51 L704.71 501.81 L705.88 502.13 L707.04 502.46 L708.2 502.8 L709.36 503.17 L710.53 503.56 L711.69 503.96 L712.85 504.4 L714.01 504.94 L715.18 505.57 L716.34 506.22 L717.5 506.82 L718.66 507.31 L719.83 507.72 L720.99 508.08 L722.15 508.44 L723.32 508.84 L724.48 509.32 L725.64 509.9 L726.8 510.54 L727.97 511.19 L729.13 511.94 L730.29 512.75 L731.45 513.54 L732.62 514.22 L733.78 514.71 L734.94 515.03 L736.1 515.3 L737.27 515.63 L738.43 516.06 L739.59 516.56 L740.75 517.09 L741.92 517.66 L743.08 518.28 L744.24 518.93 L745.4 519.61 L746.57 520.33 L747.73 521.11 L748.89 521.92 L750.06 522.76 L751.22 523.6 L752.38 524.44 L753.54 525.3 L754.71 526.18 L755.87 527.08" fill="none" stroke="#a97c50" stroke-width="1.35" stroke-linecap="butt" stroke-linejoin="round" />
<path d="M132.05 156.47 L132.85 159.44 L133.65 162.58 L134.45 165.94 L135.25 169.56 L136.05 173.56 L136.85 177.85 L137.65 182.29 L138.46 186.79 L139.26 191.23 L140.06 195.48 L140.86 199.45 L141.66 203.11 L142.46 206.6 L143.26 209.98 L144.06 213.29 L144.86 216.58 L145.66 219.9 L146.46 223.24 L147.26 226.58 L148.06 229.91 L148.86 233.21 L149.66 236.49 L150.46 239.73 L151.27 242.93 L152.07 246.08 L152.87 249.2 L153.67 252.28 L154.47 255.33 L155.27 258.33 L156.07 261.29 L156.87 264.21 L157.67 267.12 L158.47 270.01 L159.27 272.86 L160.07 275.67 L160.87 278.43 L161.67 281.12 L162.47 283.74 L163.27 286.29 L164.08 288.77 L164.88 291.19 L165.68 293.6 L166.48 295.99 L167.28 298.38 L168.08 300.77 L168.88 303.15 L169.68 305.5 L170.48 307.82 L171.28 310.1 L172.08 312.32 L172.88 314.54 L173.68 316.73 L174.48 318.91 L175.28 321.05 L176.08 323.17 L176.89 325.24 L177.69 327.27 L178.49 329.25 L179.29 331.18 L181.29 335.85 L183.3 340.31 L185.31 344.51 L187.31 348.36 L189.32 351.88 L191.32 355.16 L193.33 358.29 L195.34 361.38 L197.34 364.42 L199.35 367.36 L201.36 370.13 L203.36 372.71 L205.37 375.18 L207.37 377.56 L209.38 379.87 L211.39 382.08 L213.39 384.21 L215.4 386.25 L217.41 388.2 L219.41 390.05 L221.42 391.82 L223.42 393.51 L225.43 395.14 L227.44 396.72 L229.44 398.28 L231.45 399.82 L233.46 401.37 L235.46 402.88 L237.47 404.36 L239.47 405.81 L241.48 407.25 L243.49 408.68 L245.49 410.11 L247.5 411.56 L249.51 413.01 L251.51 414.45 L253.52 415.88 L255.52 417.32 L257.53 418.76 L259.54 420.23 L261.54 421.75 L263.55 423.31 L265.56 424.94 L267.56 426.66 L269.57 428.42 L271.57 430.22 L273.58 432.02 L275.59 433.8 L277.59 435.54 L279.6 437.21 L281.61 438.86 L283.61 440.52 L285.62 442.15 L287.62 443.76 L289.63 445.31 L291.64 446.81 L293.64 448.24 L295.65 449.6 L297.65 450.92 L299.66 452.2 L301.67 453.44 L303.67 454.63 L305.68 455.77 L307.69 456.86 L309.69 457.88 L311.7 458.82 L313.7 459.66 L315.71 460.47 L317.72 461.27 L319.72 462.07 L321.73 462.88 L323.74 463.71 L325.74 464.58 L327.75 465.48 L329.75 466.38 L331.76 467.29 L333.77 468.18 L335.77 469.03 L337.78 469.84 L339.79 470.6 L341.79 471.31 L343.8 472 L345.8 472.66 L347.81 473.3 L349.82 473.92 L351.82 474.52 L353.83 475.1 L355.84 475.68 L357.84 476.24 L359.85 476.81 L361.85 477.37 L363.86 477.92 L365.87 478.46 L367.87 478.99 L369.88 479.51 L371.89 480.01 L373.89 480.49 L375.9 480.95 L377.9 481.39 L379.91 481.82 L381.92 482.24 L383.92 482.64 L385.93 483.03 L387.93 483.41 L389.94 483.78 L391.95 484.13 L393.95 484.46 L395.96 484.79 L397.97 485.09 L399.97 485.39 L401.98 485.68 L403.98 485.95 L405.99 486.22 L408 486.47 L410 486.72 L412.01 486.96 L414.02 487.2 L416.02 487.43 L418.03 487.65 L420.03 487.87 L422.04 488.08 L424.05 488.28 L426.05 488.49 L428.06 488.68 L430.07 488.87 L432.07 489.06 L434.08 489.24 L436.08 489.42 L438.09 489.59 L440.1 489.75 L442.1 489.91 L444.11 490.07 L446.12 490.22 L448.12 490.37 L450.13 490.52 L452.13 490.66 L454.14 490.8 L456.15 490.93 L458.15 491.07 L460.16 491.19 L462.17 491.32 L464.17 491.44 L466.18 491.55 L468.18 491.67 L470.19 491.78 L472.2 491.89 L474.2 492 L476.21 492.11 L478.22 492.21 L480.22 492.31 L482.23 492.4 L484.23 492.49 L486.24 492.58 L488.25 492.66 L490.25 492.74 L492.26 492.81 L494.26 492.89 L496.27 492.96 L498.28 493.03 L500.28 493.09 L502.29 493.16 L504.3 493.22 L506.3 493.29 L508.31 493.35 L510.31 493.41 L512.32 493.47 L514.33 493.53 L516.33 493.59 L518.34 493.65 L520.35 493.7 L522.35 493.76 L524.36 493.82 L526.36 493.87 L528.37 493.92 L530.38 493.98 L532.38 494.03 L534.39 494.08 L536.4 494.13 L538.4 494.17 L540.41 494.22 L542.41 494.27 L544.42 494.31 L546.43 494.36 L548.43 494.4 L550.44 494.45 L552.45 494.49 L554.45 494.53 L556.46 494.57 L558.46 494.61 L560.47 494.65 L562.48 494.69 L564.48 494.73 L566.49 494.76 L568.5 494.8 L570.5 494.83 L572.51 494.87 L574.51 494.9 L576.52 494.93 L578.53 494.97 L580.53 495 L582.54 495.03 L584.55 495.06 L586.55 495.09 L588.56 495.12 L590.56 495.15 L592.57 495.18 L594.58 495.21 L596.58 495.23 L598.59 495.26 L600.59 495.29 L602.6 495.32 L604.61 495.34 L606.61 495.37 L608.62 495.4 L610.63 495.42 L612.63 495.45 L614.64 495.47 L616.64 495.5 L618.65 495.52 L620.66 495.55 L622.66 495.57 L624.67 495.6 L626.68 495.62 L628.68 495.65 L630.69 495.68 L632.69 495.71 L634.7 495.74 L636.71 495.78 L638.71 495.81 L640.72 495.85 L642.73 495.89 L644.73 495.93 L646.74 495.98 L648.74 496.02 L650.75 496.07 L652.76 496.12 L654.76 496.18 L656.77 496.24 L658.78 496.31 L660.78 496.38 L662.79 496.47 L664.79 496.58 L666.8 496.71 L668.81 496.85 L670.81 497 L672.82 497.16 L674.83 497.33 L676.83 497.53 L678.84 497.73 L680.84 497.95 L682.85 498.18 L684.86 498.42 L686.86 498.68 L688.87 498.95 L690.88 499.23 L692.88 499.54 L694.89 499.87 L696.89 500.22 L698.9 500.61 L700.06 500.84 L701.23 501.09 L702.39 501.35 L703.55 501.62 L704.71 501.91 L705.88 502.22 L707.04 502.54 L708.2 502.88 L709.36 503.24 L710.53 503.62 L711.69 504.02 L712.85 504.44 L714.01 504.97 L715.18 505.6 L716.34 506.25 L717.5 506.84 L718.66 507.33 L719.83 507.73 L720.99 508.09 L722.15 508.45 L723.32 508.85 L724.48 509.33 L725.64 509.9 L726.8 510.53 L727.97 511.19 L729.13 511.94 L730.29 512.74 L731.45 513.53 L732.62 514.2 L733.78 514.69 L734.94 515.01 L736.1 515.27 L737.27 515.59 L738.43 516.02 L739.59 516.51 L740.75 517.04 L741.92 517.61 L743.08 518.22 L744.24 518.86 L745.4 519.54 L746.57 520.26 L747.73 521.04 L748.89 521.85 L750.06 522.68 L751.22 523.52 L752.38 524.35 L753.54 525.2 L754.71 526.07 L755.87 526.95" fill="none" stroke="#2db56e" stroke-width="1.35" stroke-linecap="butt" stroke-linejoin="round" />
<path d="M132.05 140.26 L132.85 143.07 L133.65 146.16 L134.45 149.53 L135.25 153.22 L136.05 157.34 L136.85 161.91 L137.65 166.81 L138.46 171.84 L139.26 176.85 L140.06 181.64 L140.86 186.06 L141.66 190.09 L142.46 193.93 L143.26 197.64 L144.06 201.25 L144.86 204.8 L145.66 208.34 L146.46 211.87 L147.26 215.34 L148.06 218.78 L148.86 222.19 L149.66 225.56 L150.46 228.91 L151.27 232.24 L152.07 235.54 L152.87 238.82 L153.67 242.06 L154.47 245.28 L155.27 248.46 L156.07 251.61 L156.87 254.74 L157.67 257.87 L158.47 260.99 L159.27 264.09 L160.07 267.15 L160.87 270.16 L161.67 273.09 L162.47 275.94 L163.27 278.68 L164.08 281.33 L164.88 283.89 L165.68 286.41 L166.48 288.89 L167.28 291.37 L168.08 293.85 L168.88 296.31 L169.68 298.74 L170.48 301.14 L171.28 303.51 L172.08 305.87 L172.88 308.23 L173.68 310.6 L174.48 312.96 L175.28 315.3 L176.08 317.6 L176.89 319.87 L177.69 322.08 L178.49 324.23 L179.29 326.3 L181.29 331.27 L183.3 336.01 L185.31 340.43 L187.31 344.5 L189.32 348.21 L191.32 351.66 L193.33 354.94 L195.34 358.15 L197.34 361.29 L199.35 364.31 L201.36 367.17 L203.36 369.86 L205.37 372.46 L207.37 374.98 L209.38 377.42 L211.39 379.77 L213.39 382.04 L215.4 384.2 L217.41 386.26 L219.41 388.22 L221.42 390.07 L223.42 391.85 L225.43 393.56 L227.44 395.23 L229.44 396.86 L231.45 398.48 L233.46 400.09 L235.46 401.68 L237.47 403.23 L239.47 404.75 L241.48 406.25 L243.49 407.74 L245.49 409.23 L247.5 410.74 L249.51 412.24 L251.51 413.73 L253.52 415.2 L255.52 416.67 L257.53 418.15 L259.54 419.66 L261.54 421.21 L263.55 422.82 L265.56 424.49 L267.56 426.25 L269.57 428.06 L271.57 429.9 L273.58 431.74 L275.59 433.57 L277.59 435.35 L279.6 437.08 L281.61 438.79 L283.61 440.51 L285.62 442.21 L287.62 443.88 L289.63 445.5 L291.64 447.06 L293.64 448.55 L295.65 449.95 L297.65 451.32 L299.66 452.65 L301.67 453.93 L303.67 455.17 L305.68 456.34 L307.69 457.46 L309.69 458.51 L311.7 459.48 L313.7 460.32 L315.71 461.13 L317.72 461.93 L319.72 462.72 L321.73 463.53 L323.74 464.36 L325.74 465.22 L327.75 466.1 L329.75 467 L331.76 467.89 L333.77 468.76 L335.77 469.59 L337.78 470.39 L339.79 471.13 L341.79 471.83 L343.8 472.5 L345.8 473.14 L347.81 473.76 L349.82 474.36 L351.82 474.95 L353.83 475.51 L355.84 476.07 L357.84 476.62 L359.85 477.17 L361.85 477.73 L363.86 478.29 L365.87 478.83 L367.87 479.36 L369.88 479.88 L371.89 480.38 L373.89 480.87 L375.9 481.33 L377.9 481.77 L379.91 482.2 L381.92 482.61 L383.92 483.01 L385.93 483.4 L387.93 483.78 L389.94 484.14 L391.95 484.49 L393.95 484.83 L395.96 485.15 L397.97 485.45 L399.97 485.75 L401.98 486.03 L403.98 486.3 L405.99 486.57 L408 486.82 L410 487.07 L412.01 487.31 L414.02 487.54 L416.02 487.76 L418.03 487.98 L420.03 488.2 L422.04 488.41 L424.05 488.61 L426.05 488.81 L428.06 489.01 L430.07 489.2 L432.07 489.38 L434.08 489.56 L436.08 489.74 L438.09 489.91 L440.1 490.07 L442.1 490.23 L444.11 490.39 L446.12 490.54 L448.12 490.69 L450.13 490.84 L452.13 490.98 L454.14 491.11 L456.15 491.25 L458.15 491.38 L460.16 491.51 L462.17 491.63 L464.17 491.75 L466.18 491.87 L468.18 491.98 L470.19 492.1 L472.2 492.21 L474.2 492.31 L476.21 492.42 L478.22 492.52 L480.22 492.62 L482.23 492.71 L484.23 492.8 L486.24 492.89 L488.25 492.97 L490.25 493.05 L492.26 493.13 L494.26 493.2 L496.27 493.27 L498.28 493.34 L500.28 493.41 L502.29 493.47 L504.3 493.54 L506.3 493.6 L508.31 493.66 L510.31 493.72 L512.32 493.78 L514.33 493.84 L516.33 493.9 L518.34 493.96 L520.35 494.02 L522.35 494.08 L524.36 494.13 L526.36 494.19 L528.37 494.24 L530.38 494.29 L532.38 494.34 L534.39 494.4 L536.4 494.45 L538.4 494.49 L540.41 494.54 L542.41 494.59 L544.42 494.64 L546.43 494.68 L548.43 494.73 L550.44 494.77 L552.45 494.82 L554.45 494.86 L556.46 494.9 L558.46 494.94 L560.47 494.98 L562.48 495.02 L564.48 495.06 L566.49 495.1 L568.5 495.13 L570.5 495.17 L572.51 495.2 L574.51 495.24 L576.52 495.27 L578.53 495.3 L580.53 495.34 L582.54 495.37 L584.55 495.4 L586.55 495.43 L588.56 495.46 L590.56 495.49 L592.57 495.52 L594.58 495.55 L596.58 495.58 L598.59 495.61 L600.59 495.63 L602.6 495.66 L604.61 495.69 L606.61 495.72 L608.62 495.74 L610.63 495.77 L612.63 495.79 L614.64 495.82 L616.64 495.84 L618.65 495.87 L620.66 495.89 L622.66 495.92 L624.67 495.94 L626.68 495.97 L628.68 496 L630.69 496.03 L632.69 496.06 L634.7 496.09 L636.71 496.12 L638.71 496.15 L640.72 496.19 L642.73 496.23 L644.73 496.27 L646.74 496.31 L648.74 496.35 L650.75 496.4 L652.76 496.45 L654.76 496.5 L656.77 496.56 L658.78 496.62 L660.78 496.7 L662.79 496.78 L664.79 496.89 L666.8 497.01 L668.81 497.14 L670.81 497.28 L672.82 497.43 L674.83 497.6 L676.83 497.78 L678.84 497.98 L680.84 498.19 L682.85 498.41 L684.86 498.64 L686.86 498.89 L688.87 499.14 L690.88 499.42 L692.88 499.71 L694.89 500.03 L696.89 500.37 L698.9 500.74 L700.06 500.97 L701.23 501.21 L702.39 501.46 L703.55 501.73 L704.71 502.01 L705.88 502.31 L707.04 502.62 L708.2 502.96 L709.36 503.31 L710.53 503.68 L711.69 504.07 L712.85 504.49 L714.01 505.01 L715.18 505.63 L716.34 506.27 L717.5 506.86 L718.66 507.35 L719.83 507.75 L720.99 508.11 L722.15 508.46 L723.32 508.86 L724.48 509.33 L725.64 509.9 L726.8 510.53 L727.97 511.18 L729.13 511.93 L730.29 512.73 L731.45 513.52 L732.62 514.19 L733.78 514.67 L734.94 514.98 L736.1 515.24 L737.27 515.56 L738.43 515.98 L739.59 516.46 L740.75 516.99 L741.92 517.55 L743.08 518.16 L744.24 518.8 L745.4 519.48 L746.57 520.19 L747.73 520.97 L748.89 521.78 L750.06 522.6 L751.22 523.43 L752.38 524.26 L753.54 525.1 L754.71 525.96 L755.87 526.83" fill="none" stroke="#d4358e" stroke-width="1.35" stroke-linecap="butt" stroke-linejoin="round" />
<path d="M132.05 144.25 L132.85 147.34 L133.65 150.63 L134.45 154.16 L135.25 157.99 L136.05 162.25 L136.85 166.82 L137.65 171.59 L138.46 176.4 L139.26 181.13 L140.06 185.64 L140.86 189.79 L141.66 193.58 L142.46 197.14 L143.26 200.56 L144.06 203.9 L144.86 207.23 L145.66 210.61 L146.46 214.03 L147.26 217.44 L148.06 220.84 L148.86 224.23 L149.66 227.6 L150.46 230.95 L151.27 234.27 L152.07 237.56 L152.87 240.83 L153.67 244.08 L154.47 247.3 L155.27 250.48 L156.07 253.63 L156.87 256.73 L157.67 259.83 L158.47 262.92 L159.27 265.97 L160.07 268.98 L160.87 271.93 L161.67 274.81 L162.47 277.6 L163.27 280.3 L164.08 282.9 L164.88 285.44 L165.68 287.94 L166.48 290.43 L167.28 292.93 L168.08 295.43 L168.88 297.92 L169.68 300.4 L170.48 302.84 L171.28 305.24 L172.08 307.6 L172.88 309.95 L173.68 312.3 L174.48 314.63 L175.28 316.93 L176.08 319.2 L176.89 321.42 L177.69 323.59 L178.49 325.7 L179.29 327.73 L181.29 332.64 L183.3 337.29 L185.31 341.64 L187.31 345.63 L189.32 349.25 L191.32 352.61 L193.33 355.83 L195.34 359 L197.34 362.13 L199.35 365.16 L201.36 368.03 L203.36 370.71 L205.37 373.29 L207.37 375.81 L209.38 378.23 L211.39 380.57 L213.39 382.81 L215.4 384.95 L217.41 386.99 L219.41 388.91 L221.42 390.73 L223.42 392.46 L225.43 394.13 L227.44 395.76 L229.44 397.35 L231.45 398.93 L233.46 400.52 L235.46 402.08 L237.47 403.61 L239.47 405.11 L241.48 406.59 L243.49 408.07 L245.49 409.55 L247.5 411.03 L249.51 412.52 L251.51 413.99 L253.52 415.44 L255.52 416.88 L257.53 418.35 L259.54 419.84 L261.54 421.37 L263.55 422.96 L265.56 424.63 L267.56 426.39 L269.57 428.21 L271.57 430.05 L273.58 431.9 L275.59 433.73 L277.59 435.51 L279.6 437.22 L281.61 438.9 L283.61 440.58 L285.62 442.24 L287.62 443.86 L289.63 445.44 L291.64 446.96 L293.64 448.41 L295.65 449.79 L297.65 451.13 L299.66 452.44 L301.67 453.7 L303.67 454.92 L305.68 456.08 L307.69 457.18 L309.69 458.22 L311.7 459.18 L313.7 460.04 L315.71 460.87 L317.72 461.69 L319.72 462.51 L321.73 463.34 L323.74 464.19 L325.74 465.07 L327.75 465.99 L329.75 466.91 L331.76 467.83 L333.77 468.73 L335.77 469.6 L337.78 470.42 L339.79 471.19 L341.79 471.92 L343.8 472.62 L345.8 473.3 L347.81 473.95 L349.82 474.58 L351.82 475.2 L353.83 475.8 L355.84 476.39 L357.84 476.96 L359.85 477.54 L361.85 478.1 L363.86 478.65 L365.87 479.2 L367.87 479.73 L369.88 480.25 L371.89 480.76 L373.89 481.24 L375.9 481.7 L377.9 482.15 L379.91 482.57 L381.92 482.98 L383.92 483.38 L385.93 483.77 L387.93 484.15 L389.94 484.51 L391.95 484.85 L393.95 485.19 L395.96 485.5 L397.97 485.81 L399.97 486.1 L401.98 486.38 L403.98 486.65 L405.99 486.91 L408 487.16 L410 487.4 L412.01 487.64 L414.02 487.87 L416.02 488.09 L418.03 488.31 L420.03 488.53 L422.04 488.73 L424.05 488.94 L426.05 489.14 L428.06 489.33 L430.07 489.52 L432.07 489.7 L434.08 489.88 L436.08 490.05 L438.09 490.22 L440.1 490.39 L442.1 490.54 L444.11 490.7 L446.12 490.85 L448.12 491 L450.13 491.15 L452.13 491.29 L454.14 491.42 L456.15 491.56 L458.15 491.69 L460.16 491.82 L462.17 491.94 L464.17 492.06 L466.18 492.18 L468.18 492.29 L470.19 492.41 L472.2 492.52 L474.2 492.62 L476.21 492.73 L478.22 492.83 L480.22 492.93 L482.23 493.02 L484.23 493.11 L486.24 493.2 L488.25 493.28 L490.25 493.36 L492.26 493.43 L494.26 493.51 L496.27 493.58 L498.28 493.65 L500.28 493.71 L502.29 493.78 L504.3 493.84 L506.3 493.91 L508.31 493.97 L510.31 494.03 L512.32 494.09 L514.33 494.15 L516.33 494.21 L518.34 494.27 L520.35 494.33 L522.35 494.39 L524.36 494.44 L526.36 494.5 L528.37 494.55 L530.38 494.61 L532.38 494.66 L534.39 494.71 L536.4 494.76 L538.4 494.81 L540.41 494.86 L542.41 494.91 L544.42 494.95 L546.43 495 L548.43 495.05 L550.44 495.09 L552.45 495.14 L554.45 495.18 L556.46 495.23 L558.46 495.27 L560.47 495.31 L562.48 495.35 L564.48 495.39 L566.49 495.43 L568.5 495.46 L570.5 495.5 L572.51 495.53 L574.51 495.57 L576.52 495.6 L578.53 495.64 L580.53 495.67 L582.54 495.7 L584.55 495.73 L586.55 495.77 L588.56 495.8 L590.56 495.83 L592.57 495.86 L594.58 495.89 L596.58 495.92 L598.59 495.95 L600.59 495.97 L602.6 496 L604.61 496.03 L606.61 496.06 L608.62 496.08 L610.63 496.11 L612.63 496.13 L614.64 496.16 L616.64 496.18 L618.65 496.21 L620.66 496.23 L622.66 496.26 L624.67 496.28 L626.68 496.31 L628.68 496.34 L630.69 496.36 L632.69 496.39 L634.7 496.42 L636.71 496.46 L638.71 496.49 L640.72 496.52 L642.73 496.56 L644.73 496.6 L646.74 496.64 L648.74 496.68 L650.75 496.72 L652.76 496.77 L654.76 496.82 L656.77 496.88 L658.78 496.94 L660.78 497.01 L662.79 497.09 L664.79 497.19 L666.8 497.3 L668.81 497.42 L670.81 497.56 L672.82 497.7 L674.83 497.86 L676.83 498.03 L678.84 498.22 L680.84 498.42 L682.85 498.63 L684.86 498.86 L686.86 499.09 L688.87 499.34 L690.88 499.6 L692.88 499.89 L694.89 500.19 L696.89 500.52 L698.9 500.88 L700.06 501.1 L701.23 501.33 L702.39 501.57 L703.55 501.83 L704.71 502.11 L705.88 502.4 L707.04 502.71 L708.2 503.03 L709.36 503.38 L710.53 503.74 L711.69 504.12 L712.85 504.53 L714.01 505.05 L715.18 505.66 L716.34 506.3 L717.5 506.88 L718.66 507.36 L719.83 507.76 L720.99 508.12 L722.15 508.47 L723.32 508.87 L724.48 509.34 L725.64 509.9 L726.8 510.53 L727.97 511.17 L729.13 511.92 L730.29 512.72 L731.45 513.5 L732.62 514.18 L733.78 514.65 L734.94 514.96 L736.1 515.21 L737.27 515.52 L738.43 515.94 L739.59 516.42 L740.75 516.94 L741.92 517.5 L743.08 518.1 L744.24 518.74 L745.4 519.41 L746.57 520.13 L747.73 520.9 L748.89 521.7 L750.06 522.53 L751.22 523.35 L752.38 524.17 L753.54 525 L754.71 525.85 L755.87 526.7" fill="none" stroke="#25bccf" stroke-width="1.35" stroke-linecap="butt" stroke-linejoin="round" />
<path d="M132.05 147.81 L132.85 150.87 L133.65 154.12 L134.45 157.59 L135.25 161.36 L136.05 165.55 L136.85 170.04 L137.65 174.71 L138.46 179.43 L139.26 184.07 L140.06 188.51 L140.86 192.61 L141.66 196.36 L142.46 199.9 L143.26 203.31 L144.06 206.64 L144.86 209.96 L145.66 213.32 L146.46 216.72 L147.26 220.11 L148.06 223.49 L148.86 226.85 L149.66 230.19 L150.46 233.51 L151.27 236.79 L152.07 240.04 L152.87 243.27 L153.67 246.47 L154.47 249.64 L155.27 252.77 L156.07 255.86 L156.87 258.91 L157.67 261.96 L158.47 264.99 L159.27 267.98 L160.07 270.93 L160.87 273.83 L161.67 276.65 L162.47 279.39 L163.27 282.04 L164.08 284.61 L164.88 287.12 L165.68 289.59 L166.48 292.05 L167.28 294.52 L168.08 296.99 L168.88 299.45 L169.68 301.89 L170.48 304.29 L171.28 306.65 L172.08 308.98 L172.88 311.29 L173.68 313.59 L174.48 315.88 L175.28 318.13 L176.08 320.36 L176.89 322.54 L177.69 324.67 L178.49 326.74 L179.29 328.74 L181.29 333.57 L183.3 338.17 L185.31 342.48 L187.31 346.43 L189.32 350.02 L191.32 353.36 L193.33 356.55 L195.34 359.69 L197.34 362.8 L199.35 365.8 L201.36 368.64 L203.36 371.29 L205.37 373.84 L207.37 376.32 L209.38 378.71 L211.39 381.01 L213.39 383.22 L215.4 385.33 L217.41 387.34 L219.41 389.24 L221.42 391.04 L223.42 392.77 L225.43 394.43 L227.44 396.04 L229.44 397.62 L231.45 399.19 L233.46 400.77 L235.46 402.31 L237.47 403.83 L239.47 405.31 L241.48 406.79 L243.49 408.25 L245.49 409.71 L247.5 411.19 L249.51 412.67 L251.51 414.12 L253.52 415.57 L255.52 417.01 L257.53 418.47 L259.54 419.95 L261.54 421.48 L263.55 423.06 L265.56 424.72 L267.56 426.47 L269.57 428.27 L271.57 430.1 L273.58 431.94 L275.59 433.75 L277.59 435.52 L279.6 437.21 L281.61 438.89 L283.61 440.56 L285.62 442.21 L287.62 443.83 L289.63 445.4 L291.64 446.92 L293.64 448.36 L295.65 449.73 L297.65 451.07 L299.66 452.37 L301.67 453.63 L303.67 454.84 L305.68 455.99 L307.69 457.09 L309.69 458.12 L311.7 459.08 L313.7 459.96 L315.71 460.8 L317.72 461.63 L319.72 462.47 L321.73 463.32 L323.74 464.19 L325.74 465.09 L327.75 466.02 L329.75 466.96 L331.76 467.9 L333.77 468.82 L335.77 469.71 L337.78 470.55 L339.79 471.35 L341.79 472.1 L343.8 472.82 L345.8 473.52 L347.81 474.19 L349.82 474.84 L351.82 475.48 L353.83 476.1 L355.84 476.71 L357.84 477.31 L359.85 477.89 L361.85 478.46 L363.86 479.01 L365.87 479.56 L367.87 480.1 L369.88 480.62 L371.89 481.12 L373.89 481.61 L375.9 482.07 L377.9 482.51 L379.91 482.94 L381.92 483.35 L383.92 483.75 L385.93 484.13 L387.93 484.51 L389.94 484.87 L391.95 485.21 L393.95 485.54 L395.96 485.86 L397.97 486.16 L399.97 486.44 L401.98 486.72 L403.98 486.99 L405.99 487.25 L408 487.5 L410 487.74 L412.01 487.97 L414.02 488.2 L416.02 488.42 L418.03 488.64 L420.03 488.85 L422.04 489.06 L424.05 489.26 L426.05 489.45 L428.06 489.65 L430.07 489.83 L432.07 490.02 L434.08 490.19 L436.08 490.37 L438.09 490.53 L440.1 490.7 L442.1 490.85 L444.11 491.01 L446.12 491.16 L448.12 491.31 L450.13 491.45 L452.13 491.59 L454.14 491.73 L456.15 491.86 L458.15 491.99 L460.16 492.12 L462.17 492.24 L464.17 492.36 L466.18 492.48 L468.18 492.6 L470.19 492.71 L472.2 492.82 L474.2 492.93 L476.21 493.03 L478.22 493.13 L480.22 493.23 L482.23 493.33 L484.23 493.42 L486.24 493.5 L488.25 493.58 L490.25 493.66 L492.26 493.74 L494.26 493.81 L496.27 493.88 L498.28 493.95 L500.28 494.02 L502.29 494.08 L504.3 494.15 L506.3 494.21 L508.31 494.27 L510.31 494.34 L512.32 494.4 L514.33 494.46 L516.33 494.52 L518.34 494.58 L520.35 494.64 L522.35 494.69 L524.36 494.75 L526.36 494.81 L528.37 494.86 L530.38 494.92 L532.38 494.97 L534.39 495.02 L536.4 495.07 L538.4 495.12 L540.41 495.17 L542.41 495.22 L544.42 495.27 L546.43 495.32 L548.43 495.36 L550.44 495.41 L552.45 495.46 L554.45 495.5 L556.46 495.55 L558.46 495.59 L560.47 495.63 L562.48 495.67 L564.48 495.71 L566.49 495.75 L568.5 495.79 L570.5 495.82 L572.51 495.86 L574.51 495.9 L576.52 495.93 L578.53 495.97 L580.53 496 L582.54 496.03 L584.55 496.07 L586.55 496.1 L588.56 496.13 L590.56 496.16 L592.57 496.19 L594.58 496.22 L596.58 496.25 L598.59 496.28 L600.59 496.31 L602.6 496.34 L604.61 496.37 L606.61 496.39 L608.62 496.42 L610.63 496.45 L612.63 496.47 L614.64 496.5 L616.64 496.52 L618.65 496.54 L620.66 496.57 L622.66 496.59 L624.67 496.62 L626.68 496.64 L628.68 496.67 L630.69 496.7 L632.69 496.73 L634.7 496.76 L636.71 496.79 L638.71 496.82 L640.72 496.85 L642.73 496.89 L644.73 496.92 L646.74 496.96 L648.74 497 L650.75 497.05 L652.76 497.09 L654.76 497.14 L656.77 497.19 L658.78 497.25 L660.78 497.31 L662.79 497.39 L664.79 497.48 L666.8 497.59 L668.81 497.7 L670.81 497.83 L672.82 497.97 L674.83 498.12 L676.83 498.28 L678.84 498.46 L680.84 498.65 L682.85 498.86 L684.86 499.07 L686.86 499.29 L688.87 499.53 L690.88 499.78 L692.88 500.05 L694.89 500.35 L696.89 500.66 L698.9 501.01 L700.06 501.22 L701.23 501.45 L702.39 501.68 L703.55 501.94 L704.71 502.2 L705.88 502.49 L707.04 502.79 L708.2 503.11 L709.36 503.44 L710.53 503.8 L711.69 504.18 L712.85 504.58 L714.01 505.09 L715.18 505.69 L716.34 506.32 L717.5 506.9 L718.66 507.38 L719.83 507.77 L720.99 508.13 L722.15 508.48 L723.32 508.87 L724.48 509.34 L725.64 509.9 L726.8 510.52 L727.97 511.17 L729.13 511.91 L730.29 512.71 L731.45 513.49 L732.62 514.16 L733.78 514.63 L734.94 514.93 L736.1 515.18 L737.27 515.49 L738.43 515.9 L739.59 516.37 L740.75 516.89 L741.92 517.45 L743.08 518.05 L744.24 518.68 L745.4 519.35 L746.57 520.06 L747.73 520.83 L748.89 521.63 L750.06 522.46 L751.22 523.27 L752.38 524.09 L753.54 524.91 L754.71 525.74 L755.87 526.58" fill="none" stroke="#3953a4" stroke-width="1.35" stroke-linecap="butt" stroke-linejoin="round" />
<path d="M132.05 158 L132.85 160.95 L133.65 164.07 L134.45 167.41 L135.25 171.01 L136.05 174.98 L136.85 179.22 L137.65 183.63 L138.46 188.09 L139.26 192.49 L140.06 196.71 L140.86 200.65 L141.66 204.3 L142.46 207.79 L143.26 211.16 L144.06 214.46 L144.86 217.74 L145.66 221.06 L146.46 224.39 L147.26 227.72 L148.06 231.04 L148.86 234.33 L149.66 237.6 L150.46 240.83 L151.27 244.01 L152.07 247.15 L152.87 250.24 L153.67 253.31 L154.47 256.33 L155.27 259.31 L156.07 262.25 L156.87 265.15 L157.67 268.04 L158.47 270.9 L159.27 273.72 L160.07 276.51 L160.87 279.24 L161.67 281.91 L162.47 284.51 L163.27 287.04 L164.08 289.5 L164.88 291.91 L165.68 294.3 L166.48 296.68 L167.28 299.06 L168.08 301.44 L168.88 303.81 L169.68 306.14 L170.48 308.44 L171.28 310.7 L172.08 312.92 L172.88 315.11 L173.68 317.29 L174.48 319.44 L175.28 321.57 L176.08 323.66 L176.89 325.72 L177.69 327.73 L178.49 329.7 L179.29 331.61 L181.29 336.25 L183.3 340.69 L185.31 344.87 L187.31 348.71 L189.32 352.21 L191.32 355.48 L193.33 358.6 L195.34 361.67 L197.34 364.7 L199.35 367.63 L201.36 370.4 L203.36 372.96 L205.37 375.41 L207.37 377.78 L209.38 380.07 L211.39 382.27 L213.39 384.38 L215.4 386.41 L217.41 388.35 L219.41 390.19 L221.42 391.95 L223.42 393.64 L225.43 395.26 L227.44 396.84 L229.44 398.4 L231.45 399.93 L233.46 401.47 L235.46 402.98 L237.47 404.45 L239.47 405.9 L241.48 407.33 L243.49 408.75 L245.49 410.18 L247.5 411.62 L249.51 413.08 L251.51 414.51 L253.52 415.94 L255.52 417.37 L257.53 418.81 L259.54 420.28 L261.54 421.79 L263.55 423.35 L265.56 424.98 L267.56 426.69 L269.57 428.45 L271.57 430.24 L273.58 432.04 L275.59 433.81 L277.59 435.54 L279.6 437.21 L281.61 438.86 L283.61 440.51 L285.62 442.14 L287.62 443.74 L289.63 445.3 L291.64 446.8 L293.64 448.22 L295.65 449.58 L297.65 450.89 L299.66 452.17 L301.67 453.41 L303.67 454.6 L305.68 455.73 L307.69 456.81 L309.69 457.83 L311.7 458.78 L313.7 459.68 L315.71 460.54 L317.72 461.39 L319.72 462.25 L321.73 463.12 L323.74 464.02 L325.74 464.95 L327.75 465.9 L329.75 466.87 L331.76 467.84 L333.77 468.79 L335.77 469.71 L337.78 470.58 L339.79 471.41 L341.79 472.19 L343.8 472.94 L345.8 473.67 L347.81 474.37 L349.82 475.05 L351.82 475.72 L353.83 476.37 L355.84 477.01 L357.84 477.65 L359.85 478.25 L361.85 478.81 L363.86 479.37 L365.87 479.92 L367.87 480.46 L369.88 480.98 L371.89 481.49 L373.89 481.97 L375.9 482.44 L377.9 482.88 L379.91 483.3 L381.92 483.71 L383.92 484.11 L385.93 484.49 L387.93 484.86 L389.94 485.22 L391.95 485.56 L393.95 485.89 L395.96 486.2 L397.97 486.5 L399.97 486.79 L401.98 487.06 L403.98 487.33 L405.99 487.58 L408 487.83 L410 488.07 L412.01 488.3 L414.02 488.53 L416.02 488.74 L418.03 488.96 L420.03 489.17 L422.04 489.37 L424.05 489.57 L426.05 489.77 L428.06 489.96 L430.07 490.15 L432.07 490.33 L434.08 490.5 L436.08 490.67 L438.09 490.84 L440.1 491 L442.1 491.16 L444.11 491.31 L446.12 491.47 L448.12 491.61 L450.13 491.76 L452.13 491.9 L454.14 492.03 L456.15 492.17 L458.15 492.3 L460.16 492.42 L462.17 492.54 L464.17 492.66 L466.18 492.78 L468.18 492.9 L470.19 493.01 L472.2 493.12 L474.2 493.23 L476.21 493.33 L478.22 493.43 L480.22 493.53 L482.23 493.63 L484.23 493.72 L486.24 493.8 L488.25 493.89 L490.25 493.96 L492.26 494.04 L494.26 494.11 L496.27 494.18 L498.28 494.25 L500.28 494.32 L502.29 494.38 L504.3 494.45 L506.3 494.51 L508.31 494.58 L510.31 494.64 L512.32 494.7 L514.33 494.76 L516.33 494.82 L518.34 494.88 L520.35 494.94 L522.35 495 L524.36 495.05 L526.36 495.11 L528.37 495.17 L530.38 495.22 L532.38 495.27 L534.39 495.33 L536.4 495.38 L538.4 495.43 L540.41 495.48 L542.41 495.53 L544.42 495.58 L546.43 495.63 L548.43 495.68 L550.44 495.72 L552.45 495.77 L554.45 495.82 L556.46 495.86 L558.46 495.91 L560.47 495.95 L562.48 495.99 L564.48 496.03 L566.49 496.07 L568.5 496.11 L570.5 496.15 L572.51 496.18 L574.51 496.22 L576.52 496.26 L578.53 496.29 L580.53 496.33 L582.54 496.36 L584.55 496.39 L586.55 496.43 L588.56 496.46 L590.56 496.49 L592.57 496.52 L594.58 496.55 L596.58 496.58 L598.59 496.61 L600.59 496.64 L602.6 496.67 L604.61 496.7 L606.61 496.73 L608.62 496.75 L610.63 496.78 L612.63 496.8 L614.64 496.83 L616.64 496.85 L618.65 496.88 L620.66 496.9 L622.66 496.92 L624.67 496.95 L626.68 496.97 L628.68 497 L630.69 497.03 L632.69 497.06 L634.7 497.09 L636.71 497.12 L638.71 497.15 L640.72 497.18 L642.73 497.21 L644.73 497.25 L646.74 497.28 L648.74 497.32 L650.75 497.36 L652.76 497.4 L654.76 497.45 L656.77 497.5 L658.78 497.55 L660.78 497.62 L662.79 497.69 L664.79 497.77 L666.8 497.87 L668.81 497.98 L670.81 498.1 L672.82 498.23 L674.83 498.37 L676.83 498.53 L678.84 498.7 L680.84 498.88 L682.85 499.08 L684.86 499.28 L686.86 499.49 L688.87 499.72 L690.88 499.96 L692.88 500.22 L694.89 500.5 L696.89 500.81 L698.9 501.14 L700.06 501.34 L701.23 501.56 L702.39 501.79 L703.55 502.04 L704.71 502.3 L705.88 502.58 L707.04 502.87 L708.2 503.18 L709.36 503.51 L710.53 503.86 L711.69 504.23 L712.85 504.62 L714.01 505.12 L715.18 505.72 L716.34 506.34 L717.5 506.92 L718.66 507.4 L719.83 507.79 L720.99 508.14 L722.15 508.49 L723.32 508.88 L724.48 509.35 L725.64 509.9 L726.8 510.52 L727.97 511.16 L729.13 511.9 L730.29 512.7 L731.45 513.48 L732.62 514.15 L733.78 514.62 L734.94 514.91 L736.1 515.15 L737.27 515.45 L738.43 515.86 L739.59 516.33 L740.75 516.84 L741.92 517.4 L743.08 517.99 L744.24 518.62 L745.4 519.29 L746.57 520 L747.73 520.76 L748.89 521.56 L750.06 522.38 L751.22 523.2 L752.38 524 L753.54 524.81 L754.71 525.63 L755.87 526.46" fill="none" stroke="#8bbf45" stroke-width="1.35" stroke-linecap="butt" stroke-linejoin="round" />
<path d="M132.05 159.53 L132.85 162.46 L133.65 165.57 L134.45 168.88 L135.25 172.46 L136.05 176.39 L136.85 180.6 L137.65 184.97 L138.46 189.39 L139.26 193.75 L140.06 197.94 L140.86 201.86 L141.66 205.49 L142.46 208.97 L143.26 212.33 L144.06 215.63 L144.86 218.91 L145.66 222.22 L146.46 225.54 L147.26 228.86 L148.06 232.17 L148.86 235.46 L149.66 238.71 L150.46 241.93 L151.27 245.1 L152.07 248.21 L152.87 251.29 L153.67 254.33 L154.47 257.33 L155.27 260.29 L156.07 263.21 L156.87 266.08 L157.67 268.95 L158.47 271.78 L159.27 274.58 L160.07 277.34 L160.87 280.05 L161.67 282.7 L162.47 285.28 L163.27 287.79 L164.08 290.23 L164.88 292.63 L165.68 295.01 L166.48 297.37 L167.28 299.74 L168.08 302.11 L168.88 304.46 L169.68 306.78 L170.48 309.07 L171.28 311.31 L172.08 313.51 L172.88 315.68 L173.68 317.84 L174.48 319.98 L175.28 322.09 L176.08 324.16 L176.89 326.2 L177.69 328.19 L178.49 330.14 L179.29 332.04 L181.29 336.65 L183.3 341.07 L185.31 345.22 L187.31 349.05 L189.32 352.54 L191.32 355.8 L193.33 358.91 L195.34 361.97 L197.34 364.99 L199.35 367.91 L201.36 370.66 L203.36 373.21 L205.37 375.65 L207.37 378 L209.38 380.27 L211.39 382.46 L213.39 384.56 L215.4 386.57 L217.41 388.5 L219.41 390.34 L221.42 392.09 L223.42 393.77 L225.43 395.39 L227.44 396.96 L229.44 398.51 L231.45 400.05 L233.46 401.58 L235.46 403.08 L237.47 404.55 L239.47 405.99 L241.48 407.41 L243.49 408.83 L245.49 410.25 L247.5 411.69 L249.51 413.14 L251.51 414.57 L253.52 416 L255.52 417.42 L257.53 418.87 L259.54 420.33 L261.54 421.84 L263.55 423.4 L265.56 425.02 L267.56 426.73 L269.57 428.48 L271.57 430.26 L273.58 432.05 L275.59 433.82 L277.59 435.54 L279.6 437.2 L281.61 438.85 L283.61 440.5 L285.62 442.13 L287.62 443.73 L289.63 445.28 L291.64 446.78 L293.64 448.2 L295.65 449.55 L297.65 450.87 L299.66 452.14 L301.67 453.38 L303.67 454.56 L305.68 455.7 L307.69 456.77 L309.69 457.79 L311.7 458.74 L313.7 459.65 L315.71 460.53 L317.72 461.39 L319.72 462.26 L321.73 463.15 L323.74 464.06 L325.74 465.01 L327.75 465.98 L329.75 466.97 L331.76 467.95 L333.77 468.92 L335.77 469.85 L337.78 470.75 L339.79 471.59 L341.79 472.38 L343.8 473.15 L345.8 473.9 L347.81 474.62 L349.82 475.32 L351.82 476.01 L353.83 476.68 L355.84 477.34 L357.84 477.99 L359.85 478.59 L361.85 479.16 L363.86 479.72 L365.87 480.27 L367.87 480.81 L369.88 481.34 L371.89 481.84 L373.89 482.33 L375.9 482.8 L377.9 483.24 L379.91 483.66 L381.92 484.07 L383.92 484.46 L385.93 484.85 L387.93 485.21 L389.94 485.57 L391.95 485.91 L393.95 486.24 L395.96 486.55 L397.97 486.84 L399.97 487.13 L401.98 487.4 L403.98 487.66 L405.99 487.91 L408 488.16 L410 488.39 L412.01 488.62 L414.02 488.85 L416.02 489.06 L418.03 489.28 L420.03 489.48 L422.04 489.69 L424.05 489.89 L426.05 490.08 L428.06 490.27 L430.07 490.45 L432.07 490.63 L434.08 490.81 L436.08 490.98 L438.09 491.14 L440.1 491.3 L442.1 491.46 L444.11 491.62 L446.12 491.77 L448.12 491.91 L450.13 492.06 L452.13 492.2 L454.14 492.33 L456.15 492.46 L458.15 492.59 L460.16 492.72 L462.17 492.84 L464.17 492.96 L466.18 493.08 L468.18 493.19 L470.19 493.31 L472.2 493.42 L474.2 493.53 L476.21 493.63 L478.22 493.73 L480.22 493.83 L482.23 493.92 L484.23 494.01 L486.24 494.1 L488.25 494.18 L490.25 494.26 L492.26 494.34 L494.26 494.41 L496.27 494.48 L498.28 494.55 L500.28 494.62 L502.29 494.68 L504.3 494.75 L506.3 494.81 L508.31 494.87 L510.31 494.94 L512.32 495 L514.33 495.06 L516.33 495.12 L518.34 495.18 L520.35 495.24 L522.35 495.3 L524.36 495.35 L526.36 495.41 L528.37 495.47 L530.38 495.52 L532.38 495.58 L534.39 495.63 L536.4 495.68 L538.4 495.73 L540.41 495.78 L542.41 495.84 L544.42 495.89 L546.43 495.94 L548.43 495.98 L550.44 496.03 L552.45 496.08 L554.45 496.13 L556.46 496.17 L558.46 496.22 L560.47 496.26 L562.48 496.31 L564.48 496.35 L566.49 496.39 L568.5 496.43 L570.5 496.46 L572.51 496.5 L574.51 496.54 L576.52 496.58 L578.53 496.61 L580.53 496.65 L582.54 496.68 L584.55 496.72 L586.55 496.75 L588.56 496.78 L590.56 496.81 L592.57 496.85 L594.58 496.88 L596.58 496.91 L598.59 496.94 L600.59 496.97 L602.6 497 L604.61 497.03 L606.61 497.05 L608.62 497.08 L610.63 497.11 L612.63 497.13 L614.64 497.16 L616.64 497.18 L618.65 497.2 L620.66 497.23 L622.66 497.25 L624.67 497.28 L626.68 497.3 L628.68 497.33 L630.69 497.35 L632.69 497.38 L634.7 497.41 L636.71 497.44 L638.71 497.47 L640.72 497.5 L642.73 497.53 L644.73 497.57 L646.74 497.6 L648.74 497.64 L650.75 497.68 L652.76 497.72 L654.76 497.76 L656.77 497.8 L658.78 497.86 L660.78 497.91 L662.79 497.98 L664.79 498.06 L666.8 498.15 L668.81 498.26 L670.81 498.37 L672.82 498.49 L674.83 498.62 L676.83 498.77 L678.84 498.93 L680.84 499.11 L682.85 499.29 L684.86 499.49 L686.86 499.69 L688.87 499.9 L690.88 500.14 L692.88 500.38 L694.89 500.65 L696.89 500.95 L698.9 501.27 L700.06 501.47 L701.23 501.68 L702.39 501.9 L703.55 502.14 L704.71 502.39 L705.88 502.66 L707.04 502.95 L708.2 503.25 L709.36 503.57 L710.53 503.91 L711.69 504.28 L712.85 504.66 L714.01 505.16 L715.18 505.75 L716.34 506.37 L717.5 506.94 L718.66 507.41 L719.83 507.8 L720.99 508.15 L722.15 508.5 L723.32 508.89 L724.48 509.35 L725.64 509.9 L726.8 510.52 L727.97 511.15 L729.13 511.89 L730.29 512.7 L731.45 513.47 L732.62 514.14 L733.78 514.6 L734.94 514.89 L736.1 515.12 L737.27 515.42 L738.43 515.82 L739.59 516.29 L740.75 516.8 L741.92 517.35 L743.08 517.94 L744.24 518.57 L745.4 519.23 L746.57 519.93 L747.73 520.7 L748.89 521.49 L750.06 522.31 L751.22 523.12 L752.38 523.92 L753.54 524.72 L754.71 525.53 L755.87 526.35" fill="none" stroke="#808285" stroke-width="1.35" stroke-linecap="butt" stroke-linejoin="round" />
<path d="M132.05 135.87 L132.85 138.38 L133.65 141.25 L134.45 144.45 L135.25 147.98 L136.05 151.94 L136.85 156.51 L137.65 161.55 L138.46 166.83 L139.26 172.13 L140.06 177.24 L140.86 181.94 L141.66 186.25 L142.46 190.4 L143.26 194.42 L144.06 198.32 L144.86 202.13 L145.66 205.85 L146.46 209.48 L147.26 213.04 L148.06 216.52 L148.86 219.94 L149.66 223.33 L150.46 226.67 L151.27 230 L152.07 233.32 L152.87 236.61 L153.67 239.85 L154.47 243.06 L155.27 246.24 L156.07 249.4 L156.87 252.55 L157.67 255.71 L158.47 258.88 L159.27 262.03 L160.07 265.14 L160.87 268.2 L161.67 271.2 L162.47 274.1 L163.27 276.91 L164.08 279.6 L164.88 282.2 L165.68 284.72 L166.48 287.2 L167.28 289.67 L168.08 292.12 L168.88 294.53 L169.68 296.91 L170.48 299.27 L171.28 301.61 L172.08 303.96 L172.88 306.33 L173.68 308.72 L174.48 311.12 L175.28 313.5 L176.08 315.85 L176.89 318.16 L177.69 320.42 L178.49 322.61 L179.29 324.72 L181.29 329.78 L183.3 334.59 L185.31 339.1 L187.31 343.25 L189.32 347.06 L191.32 350.61 L193.33 353.97 L195.34 357.22 L197.34 360.37 L199.35 363.38 L201.36 366.23 L203.36 368.93 L205.37 371.54 L207.37 374.07 L209.38 376.53 L211.39 378.9 L213.39 381.18 L215.4 383.37 L217.41 385.46 L219.41 387.45 L221.42 389.35 L223.42 391.18 L225.43 392.94 L227.44 394.65 L229.44 396.32 L231.45 397.98 L233.46 399.63 L235.46 401.24 L237.47 402.81 L239.47 404.35 L241.48 405.87 L243.49 407.38 L245.49 408.89 L247.5 410.41 L249.51 411.94 L251.51 413.45 L253.52 414.94 L255.52 416.44 L257.53 417.94 L259.54 419.47 L261.54 421.04 L263.55 422.66 L265.56 424.34 L267.56 426.1 L269.57 427.9 L271.57 429.73 L273.58 431.56 L275.59 433.39 L277.59 435.18 L279.6 436.92 L281.61 438.67 L283.61 440.43 L285.62 442.18 L287.62 443.9 L289.63 445.57 L291.64 447.18 L293.64 448.7 L295.65 450.13 L297.65 451.53 L299.66 452.88 L301.67 454.19 L303.67 455.44 L305.68 456.64 L307.69 457.77 L309.69 458.83 L311.7 459.81 L313.7 460.72 L315.71 461.59 L317.72 462.45 L319.72 463.3 L321.73 464.17 L323.74 465.06 L325.74 465.97 L327.75 466.92 L329.75 467.87 L331.76 468.82 L333.77 469.75 L335.77 470.65 L337.78 471.5 L339.79 472.31 L341.79 473.07 L343.8 473.8 L345.8 474.5 L347.81 475.18 L349.82 475.85 L351.82 476.49 L353.83 477.12 L355.84 477.74 L357.84 478.35 L359.85 478.94 L361.85 479.51 L363.86 480.07 L365.87 480.62 L367.87 481.16 L369.88 481.69 L371.89 482.2 L373.89 482.69 L375.9 483.15 L377.9 483.59 L379.91 484.01 L381.92 484.42 L383.92 484.81 L385.93 485.2 L387.93 485.56 L389.94 485.92 L391.95 486.25 L393.95 486.58 L395.96 486.88 L397.97 487.18 L399.97 487.46 L401.98 487.73 L403.98 487.99 L405.99 488.24 L408 488.48 L410 488.72 L412.01 488.94 L414.02 489.16 L416.02 489.38 L418.03 489.59 L420.03 489.8 L422.04 490 L424.05 490.2 L426.05 490.39 L428.06 490.58 L430.07 490.76 L432.07 490.94 L434.08 491.11 L436.08 491.28 L438.09 491.44 L440.1 491.6 L442.1 491.76 L444.11 491.91 L446.12 492.06 L448.12 492.21 L450.13 492.35 L452.13 492.49 L454.14 492.63 L456.15 492.76 L458.15 492.89 L460.16 493.01 L462.17 493.14 L464.17 493.26 L466.18 493.37 L468.18 493.49 L470.19 493.6 L472.2 493.71 L474.2 493.82 L476.21 493.92 L478.22 494.03 L480.22 494.12 L482.23 494.22 L484.23 494.31 L486.24 494.39 L488.25 494.48 L490.25 494.56 L492.26 494.63 L494.26 494.7 L496.27 494.77 L498.28 494.84 L500.28 494.91 L502.29 494.98 L504.3 495.04 L506.3 495.1 L508.31 495.17 L510.31 495.23 L512.32 495.29 L514.33 495.35 L516.33 495.42 L518.34 495.48 L520.35 495.54 L522.35 495.59 L524.36 495.65 L526.36 495.71 L528.37 495.76 L530.38 495.82 L532.38 495.88 L534.39 495.93 L536.4 495.98 L538.4 496.03 L540.41 496.09 L542.41 496.14 L544.42 496.19 L546.43 496.24 L548.43 496.29 L550.44 496.34 L552.45 496.39 L554.45 496.44 L556.46 496.48 L558.46 496.53 L560.47 496.57 L562.48 496.62 L564.48 496.66 L566.49 496.7 L568.5 496.74 L570.5 496.78 L572.51 496.82 L574.51 496.86 L576.52 496.89 L578.53 496.93 L580.53 496.96 L582.54 497 L584.55 497.03 L586.55 497.07 L588.56 497.1 L590.56 497.14 L592.57 497.17 L594.58 497.2 L596.58 497.23 L598.59 497.26 L600.59 497.29 L602.6 497.32 L604.61 497.35 L606.61 497.38 L608.62 497.41 L610.63 497.43 L612.63 497.46 L614.64 497.48 L616.64 497.5 L618.65 497.53 L620.66 497.55 L622.66 497.58 L624.67 497.6 L626.68 497.63 L628.68 497.65 L630.69 497.68 L632.69 497.7 L634.7 497.73 L636.71 497.76 L638.71 497.79 L640.72 497.82 L642.73 497.85 L644.73 497.88 L646.74 497.91 L648.74 497.95 L650.75 497.99 L652.76 498.02 L654.76 498.06 L656.77 498.11 L658.78 498.15 L660.78 498.21 L662.79 498.27 L664.79 498.35 L666.8 498.43 L668.81 498.53 L670.81 498.63 L672.82 498.74 L674.83 498.87 L676.83 499.01 L678.84 499.17 L680.84 499.33 L682.85 499.51 L684.86 499.69 L686.86 499.88 L688.87 500.09 L690.88 500.31 L692.88 500.55 L694.89 500.81 L696.89 501.09 L698.9 501.39 L700.06 501.59 L701.23 501.79 L702.39 502.01 L703.55 502.24 L704.71 502.49 L705.88 502.75 L707.04 503.03 L708.2 503.32 L709.36 503.64 L710.53 503.97 L711.69 504.33 L712.85 504.71 L714.01 505.2 L715.18 505.78 L716.34 506.39 L717.5 506.96 L718.66 507.43 L719.83 507.81 L720.99 508.16 L722.15 508.51 L723.32 508.9 L724.48 509.35 L725.64 509.9 L726.8 510.51 L727.97 511.15 L729.13 511.89 L730.29 512.69 L731.45 513.46 L732.62 514.12 L733.78 514.58 L734.94 514.86 L736.1 515.1 L737.27 515.38 L738.43 515.78 L739.59 516.25 L740.75 516.75 L741.92 517.3 L743.08 517.88 L744.24 518.51 L745.4 519.17 L746.57 519.87 L747.73 520.63 L748.89 521.43 L750.06 522.24 L751.22 523.04 L752.38 523.83 L753.54 524.63 L754.71 525.43 L755.87 526.23" fill="none" stroke="#a97c82" stroke-width="1.35" stroke-linecap="butt" stroke-linejoin="round" />
<path d="M132.05 124.3 L132.85 126.02 L133.65 128.29 L134.45 131.04 L135.25 134.16 L136.05 137.7 L136.85 142.28 L137.65 147.69 L138.46 153.61 L139.26 159.71 L140.06 165.65 L140.86 171.11 L141.66 176.13 L142.46 181.09 L143.26 185.94 L144.06 190.62 L144.86 195.09 L145.66 199.27 L146.46 203.21 L147.26 206.95 L148.06 210.55 L148.86 214.03 L149.66 217.42 L150.46 220.78 L151.27 224.12 L152.07 227.48 L152.87 230.78 L153.67 234.01 L154.47 237.21 L155.27 240.39 L156.07 243.57 L156.87 246.78 L157.67 250.03 L158.47 253.3 L159.27 256.58 L160.07 259.84 L160.87 263.05 L161.67 266.21 L162.47 269.27 L163.27 272.22 L164.08 275.04 L164.88 277.72 L165.68 280.28 L166.48 282.75 L167.28 285.16 L168.08 287.55 L168.88 289.85 L169.68 292.1 L170.48 294.34 L171.28 296.6 L172.08 298.93 L172.88 301.34 L173.68 303.79 L174.48 306.26 L175.28 308.75 L176.08 311.22 L176.89 313.66 L177.69 316.04 L178.49 318.34 L179.29 320.55 L181.29 325.83 L183.3 330.86 L185.31 335.59 L187.31 339.97 L189.32 344.03 L191.32 347.84 L193.33 351.42 L195.34 354.78 L197.34 357.94 L199.35 360.92 L201.36 363.76 L203.36 366.47 L205.37 369.11 L207.37 371.68 L209.38 374.17 L211.39 376.59 L213.39 378.93 L215.4 381.19 L217.41 383.36 L219.41 385.45 L221.42 387.46 L223.42 389.4 L225.43 391.28 L227.44 393.12 L229.44 394.91 L231.45 396.66 L233.46 398.39 L235.46 400.07 L237.47 401.71 L239.47 403.3 L241.48 404.87 L243.49 406.42 L245.49 407.98 L247.5 409.55 L249.51 411.13 L251.51 412.7 L253.52 414.26 L255.52 415.82 L257.53 417.39 L259.54 418.98 L261.54 420.59 L263.55 422.25 L265.56 423.95 L267.56 425.7 L269.57 427.48 L271.57 429.28 L273.58 431.09 L275.59 432.91 L277.59 434.72 L279.6 436.51 L281.61 438.35 L283.61 440.22 L285.62 442.09 L287.62 443.95 L289.63 445.75 L291.64 447.48 L293.64 449.1 L295.65 450.61 L297.65 452.08 L299.66 453.49 L301.67 454.86 L303.67 456.16 L305.68 457.4 L307.69 458.57 L309.69 459.67 L311.7 460.68 L313.7 461.59 L315.71 462.46 L317.72 463.31 L319.72 464.15 L321.73 465 L323.74 465.87 L325.74 466.77 L327.75 467.7 L329.75 468.63 L331.76 469.55 L333.77 470.45 L335.77 471.32 L337.78 472.15 L339.79 472.93 L341.79 473.66 L343.8 474.36 L345.8 475.04 L347.81 475.69 L349.82 476.32 L351.82 476.94 L353.83 477.54 L355.84 478.13 L357.84 478.71 L359.85 479.28 L361.85 479.85 L363.86 480.42 L365.87 480.97 L367.87 481.51 L369.88 482.04 L371.89 482.55 L373.89 483.04 L375.9 483.5 L377.9 483.94 L379.91 484.36 L381.92 484.77 L383.92 485.16 L385.93 485.54 L387.93 485.91 L389.94 486.26 L391.95 486.59 L393.95 486.91 L395.96 487.22 L397.97 487.51 L399.97 487.79 L401.98 488.06 L403.98 488.32 L405.99 488.56 L408 488.8 L410 489.03 L412.01 489.26 L414.02 489.48 L416.02 489.69 L418.03 489.9 L420.03 490.11 L422.04 490.31 L424.05 490.5 L426.05 490.69 L428.06 490.88 L430.07 491.06 L432.07 491.24 L434.08 491.41 L436.08 491.58 L438.09 491.74 L440.1 491.9 L442.1 492.06 L444.11 492.21 L446.12 492.36 L448.12 492.5 L450.13 492.64 L452.13 492.78 L454.14 492.92 L456.15 493.05 L458.15 493.18 L460.16 493.31 L462.17 493.43 L464.17 493.55 L466.18 493.66 L468.18 493.78 L470.19 493.89 L472.2 494 L474.2 494.11 L476.21 494.22 L478.22 494.32 L480.22 494.42 L482.23 494.51 L484.23 494.6 L486.24 494.69 L488.25 494.77 L490.25 494.85 L492.26 494.92 L494.26 494.99 L496.27 495.07 L498.28 495.13 L500.28 495.2 L502.29 495.27 L504.3 495.33 L506.3 495.39 L508.31 495.46 L510.31 495.52 L512.32 495.58 L514.33 495.65 L516.33 495.71 L518.34 495.77 L520.35 495.83 L522.35 495.89 L524.36 495.95 L526.36 496 L528.37 496.06 L530.38 496.12 L532.38 496.17 L534.39 496.23 L536.4 496.28 L538.4 496.33 L540.41 496.38 L542.41 496.44 L544.42 496.49 L546.43 496.54 L548.43 496.59 L550.44 496.64 L552.45 496.69 L554.45 496.74 L556.46 496.79 L558.46 496.83 L560.47 496.88 L562.48 496.92 L564.48 496.97 L566.49 497.01 L568.5 497.05 L570.5 497.09 L572.51 497.13 L574.51 497.17 L576.52 497.21 L578.53 497.24 L580.53 497.28 L582.54 497.32 L584.55 497.35 L586.55 497.39 L588.56 497.42 L590.56 497.45 L592.57 497.49 L594.58 497.52 L596.58 497.55 L598.59 497.58 L600.59 497.61 L602.6 497.64 L604.61 497.67 L606.61 497.7 L608.62 497.73 L610.63 497.75 L612.63 497.78 L614.64 497.8 L616.64 497.83 L618.65 497.85 L620.66 497.87 L622.66 497.9 L624.67 497.92 L626.68 497.95 L628.68 497.97 L630.69 498 L632.69 498.02 L634.7 498.05 L636.71 498.08 L638.71 498.1 L640.72 498.13 L642.73 498.16 L644.73 498.19 L646.74 498.22 L648.74 498.26 L650.75 498.29 L652.76 498.33 L654.76 498.36 L656.77 498.41 L658.78 498.45 L660.78 498.5 L662.79 498.56 L664.79 498.63 L666.8 498.71 L668.81 498.79 L670.81 498.89 L672.82 499 L674.83 499.12 L676.83 499.25 L678.84 499.39 L680.84 499.55 L682.85 499.72 L684.86 499.89 L686.86 500.08 L688.87 500.27 L690.88 500.48 L692.88 500.71 L694.89 500.96 L696.89 501.23 L698.9 501.52 L700.06 501.71 L701.23 501.9 L702.39 502.11 L703.55 502.34 L704.71 502.58 L705.88 502.83 L707.04 503.1 L708.2 503.39 L709.36 503.7 L710.53 504.03 L711.69 504.38 L712.85 504.75 L714.01 505.23 L715.18 505.81 L716.34 506.41 L717.5 506.98 L718.66 507.44 L719.83 507.82 L720.99 508.17 L722.15 508.52 L723.32 508.9 L724.48 509.36 L725.64 509.91 L726.8 510.51 L727.97 511.14 L729.13 511.88 L730.29 512.68 L731.45 513.45 L732.62 514.11 L733.78 514.56 L734.94 514.84 L736.1 515.07 L737.27 515.35 L738.43 515.74 L739.59 516.2 L740.75 516.7 L741.92 517.25 L743.08 517.83 L744.24 518.45 L745.4 519.1 L746.57 519.8 L747.73 520.56 L748.89 521.36 L750.06 522.17 L751.22 522.97 L752.38 523.75 L753.54 524.53 L754.71 525.32 L755.87 526.11" fill="none" stroke="#4da67a" stroke-width="1.35" stroke-linecap="butt" stroke-linejoin="round" />
</g>
<line x1="122.25" y1="538" x2="756.58" y2="538" stroke="#0d0d0d" stroke-width="1.6" />
<line x1="132.05" y1="538" x2="132.05" y2="547.6" stroke="#0d0d0d" stroke-width="1.6" />
<line x1="160.49" y1="538" x2="160.49" y2="543.4" stroke="#0d0d0d" stroke-width="1.6" />
<line x1="177.13" y1="538" x2="177.13" y2="543.4" stroke="#0d0d0d" stroke-width="1.6" />
<line x1="188.93" y1="538" x2="188.93" y2="543.4" stroke="#0d0d0d" stroke-width="1.6" />
<line x1="198.09" y1="538" x2="198.09" y2="543.4" stroke="#0d0d0d" stroke-width="1.6" />
<line x1="205.57" y1="538" x2="205.57" y2="543.4" stroke="#0d0d0d" stroke-width="1.6" />
<line x1="211.89" y1="538" x2="211.89" y2="543.4" stroke="#0d0d0d" stroke-width="1.6" />
<line x1="217.37" y1="538" x2="217.37" y2="543.4" stroke="#0d0d0d" stroke-width="1.6" />
<line x1="222.2" y1="538" x2="222.2" y2="543.4" stroke="#0d0d0d" stroke-width="1.6" />
<line x1="226.53" y1="538" x2="226.53" y2="547.6" stroke="#0d0d0d" stroke-width="1.6" />
<line x1="254.96" y1="538" x2="254.96" y2="543.4" stroke="#0d0d0d" stroke-width="1.6" />
<line x1="271.6" y1="538" x2="271.6" y2="543.4" stroke="#0d0d0d" stroke-width="1.6" />
<line x1="283.4" y1="538" x2="283.4" y2="543.4" stroke="#0d0d0d" stroke-width="1.6" />
<line x1="292.56" y1="538" x2="292.56" y2="543.4" stroke="#0d0d0d" stroke-width="1.6" />
<line x1="300.04" y1="538" x2="300.04" y2="543.4" stroke="#0d0d0d" stroke-width="1.6" />
<line x1="306.37" y1="538" x2="306.37" y2="543.4" stroke="#0d0d0d" stroke-width="1.6" />
<line x1="311.84" y1="538" x2="311.84" y2="543.4" stroke="#0d0d0d" stroke-width="1.6" />
<line x1="316.68" y1="538" x2="316.68" y2="543.4" stroke="#0d0d0d" stroke-width="1.6" />
<line x1="321" y1="538" x2="321" y2="547.6" stroke="#0d0d0d" stroke-width="1.6" />
<line x1="349.44" y1="538" x2="349.44" y2="543.4" stroke="#0d0d0d" stroke-width="1.6" />
<line x1="366.08" y1="538" x2="366.08" y2="543.4" stroke="#0d0d0d" stroke-width="1.6" />
<line x1="377.88" y1="538" x2="377.88" y2="543.4" stroke="#0d0d0d" stroke-width="1.6" />
<line x1="387.04" y1="538" x2="387.04" y2="543.4" stroke="#0d0d0d" stroke-width="1.6" />
<line x1="394.52" y1="538" x2="394.52" y2="543.4" stroke="#0d0d0d" stroke-width="1.6" />
<line x1="400.84" y1="538" x2="400.84" y2="543.4" stroke="#0d0d0d" stroke-width="1.6" />
<line x1="406.32" y1="538" x2="406.32" y2="543.4" stroke="#0d0d0d" stroke-width="1.6" />
<line x1="411.15" y1="538" x2="411.15" y2="543.4" stroke="#0d0d0d" stroke-width="1.6" />
<line x1="415.47" y1="538" x2="415.47" y2="547.6" stroke="#0d0d0d" stroke-width="1.6" />
<line x1="443.91" y1="538" x2="443.91" y2="543.4" stroke="#0d0d0d" stroke-width="1.6" />
<line x1="460.55" y1="538" x2="460.55" y2="543.4" stroke="#0d0d0d" stroke-width="1.6" />
<line x1="472.35" y1="538" x2="472.35" y2="543.4" stroke="#0d0d0d" stroke-width="1.6" />
<line x1="481.51" y1="538" x2="481.51" y2="543.4" stroke="#0d0d0d" stroke-width="1.6" />
<line x1="488.99" y1="538" x2="488.99" y2="543.4" stroke="#0d0d0d" stroke-width="1.6" />
<line x1="495.32" y1="538" x2="495.32" y2="543.4" stroke="#0d0d0d" stroke-width="1.6" />
<line x1="500.79" y1="538" x2="500.79" y2="543.4" stroke="#0d0d0d" stroke-width="1.6" />
<line x1="505.63" y1="538" x2="505.63" y2="543.4" stroke="#0d0d0d" stroke-width="1.6" />
<line x1="509.95" y1="538" x2="509.95" y2="547.6" stroke="#0d0d0d" stroke-width="1.6" />
<line x1="538.39" y1="538" x2="538.39" y2="543.4" stroke="#0d0d0d" stroke-width="1.6" />
<line x1="555.03" y1="538" x2="555.03" y2="543.4" stroke="#0d0d0d" stroke-width="1.6" />
<line x1="566.83" y1="538" x2="566.83" y2="543.4" stroke="#0d0d0d" stroke-width="1.6" />
<line x1="575.99" y1="538" x2="575.99" y2="543.4" stroke="#0d0d0d" stroke-width="1.6" />
<line x1="583.47" y1="538" x2="583.47" y2="543.4" stroke="#0d0d0d" stroke-width="1.6" />
<line x1="589.79" y1="538" x2="589.79" y2="543.4" stroke="#0d0d0d" stroke-width="1.6" />
<line x1="595.27" y1="538" x2="595.27" y2="543.4" stroke="#0d0d0d" stroke-width="1.6" />
<line x1="600.1" y1="538" x2="600.1" y2="543.4" stroke="#0d0d0d" stroke-width="1.6" />
<line x1="604.42" y1="538" x2="604.42" y2="547.6" stroke="#0d0d0d" stroke-width="1.6" />
<line x1="632.86" y1="538" x2="632.86" y2="543.4" stroke="#0d0d0d" stroke-width="1.6" />
<line x1="649.5" y1="538" x2="649.5" y2="543.4" stroke="#0d0d0d" stroke-width="1.6" />
<line x1="661.3" y1="538" x2="661.3" y2="543.4" stroke="#0d0d0d" stroke-width="1.6" />
<line x1="670.46" y1="538" x2="670.46" y2="543.4" stroke="#0d0d0d" stroke-width="1.6" />
<line x1="677.94" y1="538" x2="677.94" y2="543.4" stroke="#0d0d0d" stroke-width="1.6" />
<line x1="684.27" y1="538" x2="684.27" y2="543.4" stroke="#0d0d0d" stroke-width="1.6" />
<line x1="689.74" y1="538" x2="689.74" y2="543.4" stroke="#0d0d0d" stroke-width="1.6" />
<line x1="694.58" y1="538" x2="694.58" y2="543.4" stroke="#0d0d0d" stroke-width="1.6" />
<line x1="698.9" y1="538" x2="698.9" y2="547.6" stroke="#0d0d0d" stroke-width="1.6" />
<line x1="727.34" y1="538" x2="727.34" y2="543.4" stroke="#0d0d0d" stroke-width="1.6" />
<line x1="743.98" y1="538" x2="743.98" y2="543.4" stroke="#0d0d0d" stroke-width="1.6" />
<line x1="755.78" y1="538" x2="755.78" y2="543.4" stroke="#0d0d0d" stroke-width="1.6" />
<text class="b" transform="translate(133.35 580.6) scale(0.9615 1)" font-size="30.33" text-anchor="middle" >10</text>
<text class="b" transform="translate(227.53 580.6) scale(0.9615 1)" font-size="30.33" text-anchor="middle" >100</text>
<text class="b" transform="translate(321.5 580.6) scale(0.9615 1)" font-size="30.33" text-anchor="middle" >1k</text>
<text class="b" transform="translate(415.47 580.6) scale(0.9615 1)" font-size="30.33" text-anchor="middle" >10k</text>
<text class="b" transform="translate(509.95 580.6) scale(0.9615 1)" font-size="30.33" text-anchor="middle" >100k</text>
<text class="b" transform="translate(604.42 580.6) scale(0.9615 1)" font-size="30.33" text-anchor="middle" >1M</text>
<text class="b" transform="translate(698.9 580.6) scale(0.9615 1)" font-size="30.33" text-anchor="middle" >10M</text>
<line x1="132.05" y1="72.68" x2="132.05" y2="538.8" stroke="#0d0d0d" stroke-width="1.6" />
<line x1="122.25" y1="538" x2="132.05" y2="538" stroke="#0d0d0d" stroke-width="1.6" />
<line x1="122.25" y1="483.35" x2="132.05" y2="483.35" stroke="#0d0d0d" stroke-width="1.6" />
<line x1="122.25" y1="428.7" x2="132.05" y2="428.7" stroke="#0d0d0d" stroke-width="1.6" />
<line x1="122.25" y1="374.05" x2="132.05" y2="374.05" stroke="#0d0d0d" stroke-width="1.6" />
<line x1="122.25" y1="319.4" x2="132.05" y2="319.4" stroke="#0d0d0d" stroke-width="1.6" />
<line x1="122.25" y1="264.75" x2="132.05" y2="264.75" stroke="#0d0d0d" stroke-width="1.6" />
<line x1="122.25" y1="210.1" x2="132.05" y2="210.1" stroke="#0d0d0d" stroke-width="1.6" />
<line x1="122.25" y1="155.45" x2="132.05" y2="155.45" stroke="#0d0d0d" stroke-width="1.6" />
<line x1="122.25" y1="100.8" x2="132.05" y2="100.8" stroke="#0d0d0d" stroke-width="1.6" />
<line x1="126.75" y1="510.68" x2="132.05" y2="510.68" stroke="#0d0d0d" stroke-width="1.6" />
<line x1="126.75" y1="456.02" x2="132.05" y2="456.02" stroke="#0d0d0d" stroke-width="1.6" />
<line x1="126.75" y1="401.38" x2="132.05" y2="401.38" stroke="#0d0d0d" stroke-width="1.6" />
<line x1="126.75" y1="346.73" x2="132.05" y2="346.73" stroke="#0d0d0d" stroke-width="1.6" />
<line x1="126.75" y1="292.08" x2="132.05" y2="292.08" stroke="#0d0d0d" stroke-width="1.6" />
<line x1="126.75" y1="237.43" x2="132.05" y2="237.43" stroke="#0d0d0d" stroke-width="1.6" />
<line x1="126.75" y1="182.78" x2="132.05" y2="182.78" stroke="#0d0d0d" stroke-width="1.6" />
<line x1="126.75" y1="128.12" x2="132.05" y2="128.12" stroke="#0d0d0d" stroke-width="1.6" />
<line x1="126.75" y1="73.48" x2="132.05" y2="73.48" stroke="#0d0d0d" stroke-width="1.6" />
<text class="b" transform="translate(111.25 547.8) scale(0.9615 1)" font-size="30.33" text-anchor="end" >0</text>
<text class="b" transform="translate(111.25 493.15) scale(0.9615 1)" font-size="30.33" text-anchor="end" >200</text>
<text class="b" transform="translate(111.25 438.5) scale(0.9615 1)" font-size="30.33" text-anchor="end" >400</text>
<text class="b" transform="translate(111.25 383.85) scale(0.9615 1)" font-size="30.33" text-anchor="end" >600</text>
<text class="b" transform="translate(111.25 329.2) scale(0.9615 1)" font-size="30.33" text-anchor="end" >800</text>
<text class="b" transform="translate(111.25 274.55) scale(0.9615 1)" font-size="30.33" text-anchor="end" >1000</text>
<text class="b" transform="translate(111.25 219.9) scale(0.9615 1)" font-size="30.33" text-anchor="end" >1200</text>
<text class="b" transform="translate(111.25 165.25) scale(0.9615 1)" font-size="30.33" text-anchor="end" >1400</text>
<text class="b" transform="translate(111.25 110.6) scale(0.9615 1)" font-size="30.33" text-anchor="end" >1600</text>
<text class="b" transform="translate(35.2 51.8) scale(0.9615 1)" font-size="30.33" text-anchor="start" >Differential impedimetric temperature recordings (22-42 °C)</text>
<text class="b" transform="translate(445.5 623.3) scale(0.9615 1)" font-size="30.33" text-anchor="middle" >Frequency (Hz)</text>
<text class="b" transform="translate(22.2 307.9) rotate(-90) scale(0.9615 1)" font-size="30.33" text-anchor="middle">Real impedance (<tspan class="om">Ω</tspan>)</text>
<text class="b" transform="translate(-2.4 31.3) scale(1.02 1)" font-size="42.3">a</text>
<line x1="501.6" y1="136.7" x2="551.8" y2="136.7" stroke="#231f20" stroke-width="1.5" stroke-linecap="butt"/>
<text class="r" transform="translate(560.4 145.3) scale(0.9615 1)" font-size="26" text-anchor="start" >22C</text>
<line x1="501.6" y1="163.82" x2="551.8" y2="163.82" stroke="#ed1c24" stroke-width="1.5" stroke-linecap="butt"/>
<text class="r" transform="translate(560.4 172.42) scale(0.9615 1)" font-size="26" text-anchor="start" >23C</text>
<line x1="501.6" y1="190.94" x2="551.8" y2="190.94" stroke="#21409a" stroke-width="1.5" stroke-linecap="butt"/>
<text class="r" transform="translate(560.4 199.54) scale(0.9615 1)" font-size="26" text-anchor="start" >24C</text>
<line x1="501.6" y1="218.06" x2="551.8" y2="218.06" stroke="#b5509e" stroke-width="1.5" stroke-linecap="butt"/>
<text class="r" transform="translate(560.4 226.66) scale(0.9615 1)" font-size="26" text-anchor="start" >25C</text>
<line x1="501.6" y1="245.18" x2="551.8" y2="245.18" stroke="#0a8040" stroke-width="1.5" stroke-linecap="butt"/>
<text class="r" transform="translate(560.4 253.78) scale(0.9615 1)" font-size="26" text-anchor="start" >26C</text>
<line x1="501.6" y1="272.3" x2="551.8" y2="272.3" stroke="#2e3192" stroke-width="1.5" stroke-linecap="butt"/>
<text class="r" transform="translate(560.4 280.9) scale(0.9615 1)" font-size="26" text-anchor="start" >27C</text>
<line x1="501.6" y1="299.42" x2="551.8" y2="299.42" stroke="#6b5fb0" stroke-width="1.5" stroke-linecap="butt"/>
<text class="r" transform="translate(560.4 308.02) scale(0.9615 1)" font-size="26" text-anchor="start" >28C</text>
<line x1="501.6" y1="326.54" x2="551.8" y2="326.54" stroke="#92278f" stroke-width="1.5" stroke-linecap="butt"/>
<text class="r" transform="translate(560.4 335.14) scale(0.9615 1)" font-size="26" text-anchor="start" >29C</text>
<line x1="501.6" y1="353.66" x2="551.8" y2="353.66" stroke="#9d1c20" stroke-width="1.5" stroke-linecap="butt"/>
<text class="r" transform="translate(560.4 362.26) scale(0.9615 1)" font-size="26" text-anchor="start" >30C</text>
<line x1="501.6" y1="380.78" x2="551.8" y2="380.78" stroke="#999a3b" stroke-width="1.5" stroke-linecap="butt"/>
<text class="r" transform="translate(560.4 389.38) scale(0.9615 1)" font-size="26" text-anchor="start" >31C</text>
<line x1="637.4" y1="132.4" x2="687.9" y2="132.4" stroke="#1c75bc" stroke-width="1.5" stroke-linecap="butt"/>
<text class="r" transform="translate(700.8 140.8) scale(0.9615 1)" font-size="26" text-anchor="start" >32C</text>
<line x1="637.4" y1="159.57" x2="687.9" y2="159.57" stroke="#00a79d" stroke-width="1.5" stroke-linecap="butt"/>
<text class="r" transform="translate(700.8 167.97) scale(0.9615 1)" font-size="26" text-anchor="start" >33C</text>
<line x1="637.4" y1="186.74" x2="687.9" y2="186.74" stroke="#a97c50" stroke-width="1.5" stroke-linecap="butt"/>
<text class="r" transform="translate(700.8 195.14) scale(0.9615 1)" font-size="26" text-anchor="start" >34C</text>
<line x1="637.4" y1="213.91" x2="687.9" y2="213.91" stroke="#2db56e" stroke-width="1.5" stroke-linecap="butt"/>
<text class="r" transform="translate(700.8 222.31) scale(0.9615 1)" font-size="26" text-anchor="start" >35C</text>
<line x1="637.4" y1="241.08" x2="687.9" y2="241.08" stroke="#d4358e" stroke-width="1.5" stroke-linecap="butt"/>
<text class="r" transform="translate(700.8 249.48) scale(0.9615 1)" font-size="26" text-anchor="start" >36C</text>
<line x1="637.4" y1="268.25" x2="687.9" y2="268.25" stroke="#25bccf" stroke-width="1.5" stroke-linecap="butt"/>
<text class="r" transform="translate(700.8 276.65) scale(0.9615 1)" font-size="26" text-anchor="start" >37C</text>
<line x1="637.4" y1="295.42" x2="687.9" y2="295.42" stroke="#3953a4" stroke-width="1.5" stroke-linecap="butt"/>
<text class="r" transform="translate(700.8 303.82) scale(0.9615 1)" font-size="26" text-anchor="start" >38C</text>
<line x1="637.4" y1="322.59" x2="687.9" y2="322.59" stroke="#8bbf45" stroke-width="1.5" stroke-linecap="butt"/>
<text class="r" transform="translate(700.8 330.99) scale(0.9615 1)" font-size="26" text-anchor="start" >39C</text>
<line x1="637.4" y1="349.76" x2="687.9" y2="349.76" stroke="#808285" stroke-width="1.5" stroke-linecap="butt"/>
<text class="r" transform="translate(700.8 358.16) scale(0.9615 1)" font-size="26" text-anchor="start" >40C</text>
<line x1="637.4" y1="376.93" x2="687.9" y2="376.93" stroke="#a97c82" stroke-width="1.5" stroke-linecap="butt"/>
<text class="r" transform="translate(700.8 385.33) scale(0.9615 1)" font-size="26" text-anchor="start" >41C</text>
<line x1="637.4" y1="404.1" x2="687.9" y2="404.1" stroke="#4da67a" stroke-width="1.5" stroke-linecap="butt"/>
<text class="r" transform="translate(700.8 412.5) scale(0.9615 1)" font-size="26" text-anchor="start" >42C</text>
</g>
<g id="panelB">
<g clip-path="url(#cb)">
<path d="M1036.07 399.57 L1036.87 399.63 L1037.67 399.7 L1038.48 399.76 L1039.28 399.83 L1040.08 399.9 L1040.88 399.97 L1041.68 400.04 L1042.48 400.1 L1043.29 400.18 L1044.09 400.25 L1044.89 400.32 L1045.69 400.39 L1046.49 400.46 L1047.29 400.53 L1048.1 400.6 L1048.9 400.67 L1049.7 400.74 L1050.5 400.81 L1051.3 400.88 L1052.1 400.96 L1052.91 401.03 L1053.71 401.1 L1054.51 401.18 L1055.31 401.26 L1056.11 401.35 L1056.91 401.43 L1057.72 401.52 L1058.52 401.62 L1059.32 401.71 L1060.12 401.82 L1060.92 401.92 L1061.72 402.04 L1062.53 402.16 L1063.33 402.29 L1064.13 402.43 L1064.93 402.57 L1065.73 402.72 L1066.53 402.87 L1067.34 403.03 L1068.14 403.2 L1068.94 403.37 L1069.74 403.54 L1070.54 403.72 L1071.34 403.9 L1072.15 404.08 L1072.95 404.26 L1073.75 404.45 L1074.55 404.64 L1075.35 404.83 L1076.15 405.03 L1076.96 405.23 L1077.76 405.43 L1078.56 405.65 L1079.36 405.86 L1080.16 406.09 L1080.96 406.32 L1081.77 406.55 L1082.57 406.79 L1083.37 407.03 L1085.38 407.66 L1087.39 408.31 L1089.4 408.98 L1091.41 409.67 L1093.41 410.4 L1095.42 411.17 L1097.43 411.97 L1099.44 412.8 L1101.45 413.64 L1103.46 414.48 L1105.47 415.3 L1107.48 416.1 L1109.49 416.9 L1111.49 417.7 L1113.5 418.5 L1115.51 419.3 L1117.52 420.09 L1119.53 420.89 L1121.54 421.69 L1123.55 422.5 L1125.56 423.32 L1127.57 424.14 L1129.57 424.96 L1131.58 425.77 L1133.59 426.58 L1135.6 427.36 L1137.61 428.12 L1139.62 428.86 L1141.63 429.59 L1143.64 430.32 L1145.65 431.03 L1147.65 431.72 L1149.66 432.4 L1151.67 433.06 L1153.68 433.71 L1155.69 434.36 L1157.7 435 L1159.71 435.63 L1161.72 436.24 L1163.73 436.82 L1165.73 437.37 L1167.74 437.87 L1169.75 438.35 L1171.76 438.81 L1173.77 439.25 L1175.78 439.67 L1177.79 440.07 L1179.8 440.43 L1181.81 440.76 L1183.81 441.05 L1185.82 441.27 L1187.83 441.5 L1189.84 441.82 L1191.85 442.21 L1193.86 442.66 L1195.87 443.15 L1197.88 443.67 L1199.89 444.2 L1201.89 444.74 L1203.9 445.26 L1205.91 445.81 L1207.92 446.37 L1209.93 446.94 L1211.94 447.53 L1213.95 448.14 L1215.96 448.76 L1217.96 449.4 L1219.97 450.05 L1221.98 450.72 L1223.99 451.41 L1226 452.13 L1228.01 452.88 L1230.02 453.66 L1232.03 454.45 L1234.04 455.26 L1236.04 456.07 L1238.05 456.88 L1240.06 457.69 L1242.07 458.49 L1244.08 459.27 L1246.09 460.07 L1248.1 460.87 L1250.11 461.67 L1252.12 462.48 L1254.12 463.28 L1256.13 464.07 L1258.14 464.85 L1260.15 465.61 L1262.16 466.35 L1264.17 467.07 L1266.18 467.79 L1268.19 468.5 L1270.2 469.21 L1272.2 469.91 L1274.21 470.59 L1276.22 471.25 L1278.23 471.89 L1280.24 472.5 L1282.25 473.08 L1284.26 473.64 L1286.27 474.17 L1288.28 474.68 L1290.28 475.17 L1292.29 475.65 L1294.3 476.11 L1296.31 476.55 L1298.32 476.98 L1300.33 477.39 L1302.34 477.78 L1304.35 478.16 L1306.36 478.54 L1308.36 478.9 L1310.37 479.25 L1312.38 479.58 L1314.39 479.91 L1316.4 480.22 L1318.41 480.52 L1320.42 480.8 L1322.43 481.08 L1324.44 481.35 L1326.44 481.61 L1328.45 481.86 L1330.46 482.11 L1332.47 482.35 L1334.48 482.58 L1336.49 482.8 L1338.5 483.01 L1340.51 483.22 L1342.52 483.41 L1344.52 483.59 L1346.53 483.77 L1348.54 483.94 L1350.55 484.11 L1352.56 484.27 L1354.57 484.43 L1356.58 484.58 L1358.59 484.72 L1360.6 484.86 L1362.6 484.99 L1364.61 485.11 L1366.62 485.23 L1368.63 485.34 L1370.64 485.45 L1372.65 485.55 L1374.66 485.66 L1376.67 485.76 L1378.68 485.86 L1380.68 485.96 L1382.69 486.06 L1384.7 486.15 L1386.71 486.25 L1388.72 486.34 L1390.73 486.42 L1392.74 486.51 L1394.75 486.59 L1396.76 486.67 L1398.76 486.75 L1400.77 486.82 L1402.78 486.89 L1404.79 486.95 L1406.8 487.01 L1408.81 487.07 L1410.82 487.13 L1412.83 487.18 L1414.84 487.22 L1416.84 487.27 L1418.85 487.31 L1420.86 487.35 L1422.87 487.39 L1424.88 487.43 L1426.89 487.46 L1428.9 487.5 L1430.91 487.53 L1432.92 487.56 L1434.92 487.59 L1436.93 487.62 L1438.94 487.65 L1440.95 487.68 L1442.96 487.71 L1444.97 487.73 L1446.98 487.76 L1448.99 487.78 L1451 487.81 L1453 487.84 L1455.01 487.86 L1457.02 487.89 L1459.03 487.91 L1461.04 487.94 L1463.05 487.96 L1465.06 487.99 L1467.07 488.01 L1469.08 488.03 L1471.08 488.06 L1473.09 488.08 L1475.1 488.1 L1477.11 488.12 L1479.12 488.14 L1481.13 488.16 L1483.14 488.18 L1485.15 488.2 L1487.15 488.22 L1489.16 488.24 L1491.17 488.26 L1493.18 488.28 L1495.19 488.3 L1497.2 488.32 L1499.21 488.35 L1501.22 488.37 L1503.23 488.39 L1505.23 488.42 L1507.24 488.45 L1509.25 488.48 L1511.26 488.51 L1513.27 488.54 L1515.28 488.57 L1517.29 488.6 L1519.3 488.63 L1521.31 488.67 L1523.31 488.71 L1525.32 488.75 L1527.33 488.79 L1529.34 488.83 L1531.35 488.88 L1533.36 488.92 L1535.37 488.97 L1537.38 489.03 L1539.39 489.08 L1541.39 489.15 L1543.4 489.22 L1545.41 489.3 L1547.42 489.38 L1549.43 489.47 L1551.44 489.56 L1553.45 489.66 L1555.46 489.77 L1557.47 489.88 L1559.47 490 L1561.48 490.13 L1563.49 490.28 L1565.5 490.44 L1567.51 490.63 L1569.52 490.86 L1571.53 491.11 L1573.54 491.39 L1575.55 491.69 L1577.55 492.02 L1579.56 492.36 L1581.57 492.71 L1583.58 493.08 L1585.59 493.46 L1587.6 493.85 L1589.61 494.27 L1591.62 494.71 L1593.63 495.18 L1595.63 495.68 L1597.64 496.21 L1599.65 496.77 L1601.66 497.35 L1603.67 497.97 L1604.83 498.36 L1606 498.76 L1607.16 499.19 L1608.33 499.64 L1609.49 500.11 L1610.65 500.6 L1611.82 501.11 L1612.98 501.65 L1614.15 502.2 L1615.31 502.76 L1616.48 503.35 L1617.64 503.96 L1618.8 504.67 L1619.97 505.45 L1621.13 506.25 L1622.3 506.97 L1623.46 507.56 L1624.62 508.04 L1625.79 508.46 L1626.95 508.88 L1628.12 509.34 L1629.28 509.9 L1630.45 510.58 L1631.61 511.33 L1632.77 512.09 L1633.94 512.9 L1635.1 513.77 L1636.27 514.6 L1637.43 515.33 L1638.59 515.89 L1639.76 516.29 L1640.92 516.63 L1642.09 517.02 L1643.25 517.5 L1644.42 518.04 L1645.58 518.64 L1646.74 519.28 L1647.91 519.97 L1649.07 520.7 L1650.24 521.46 L1651.4 522.26 L1652.56 523.12 L1653.73 524.01 L1654.89 524.93 L1656.06 525.87 L1657.22 526.82 L1658.39 527.8 L1659.55 528.81 L1660.71 529.84" fill="none" stroke="#43389b" stroke-width="2.5" stroke-linecap="round" stroke-linejoin="round" stroke-dasharray="11.2 7.5 1.4 7.5" stroke-dashoffset="1"/>
<path d="M1036.07 248.6 L1036.87 251.1 L1037.67 253.52 L1038.48 255.86 L1039.28 258.1 L1040.08 260.24 L1040.88 262.26 L1041.68 264.14 L1042.48 265.94 L1043.29 267.7 L1044.09 269.49 L1044.89 271.34 L1045.69 273.27 L1046.49 275.21 L1047.29 277.22 L1048.1 279.33 L1048.9 281.62 L1049.7 284.08 L1050.5 286.62 L1051.3 289.12 L1052.1 291.48 L1052.91 293.61 L1053.71 295.59 L1054.51 297.5 L1055.31 299.34 L1056.11 301.11 L1056.91 302.83 L1057.72 304.51 L1058.52 306.16 L1059.32 307.77 L1060.12 309.37 L1060.92 310.95 L1061.72 312.5 L1062.53 314.02 L1063.33 315.51 L1064.13 316.97 L1064.93 318.41 L1065.73 319.82 L1066.53 321.2 L1067.34 322.56 L1068.14 323.89 L1068.94 325.19 L1069.74 326.46 L1070.54 327.7 L1071.34 328.92 L1072.15 330.12 L1072.95 331.31 L1073.75 332.48 L1074.55 333.64 L1075.35 334.8 L1076.15 335.96 L1076.96 337.12 L1077.76 338.29 L1078.56 339.47 L1079.36 340.66 L1080.16 341.88 L1080.96 343.12 L1081.77 344.38 L1082.57 345.67 L1083.37 346.98 L1085.38 350.28 L1087.39 353.52 L1089.4 356.61 L1091.41 359.43 L1093.41 362.03 L1095.42 364.47 L1097.43 366.78 L1099.44 368.97 L1101.45 371.03 L1103.46 372.98 L1105.47 374.89 L1107.48 376.78 L1109.49 378.64 L1111.49 380.44 L1113.5 382.18 L1115.51 383.88 L1117.52 385.54 L1119.53 387.16 L1121.54 388.74 L1123.55 390.29 L1125.56 391.81 L1127.57 393.32 L1129.57 394.79 L1131.58 396.24 L1133.59 397.65 L1135.6 399.03 L1137.61 400.37 L1139.62 401.67 L1141.63 402.92 L1143.64 404.14 L1145.65 405.34 L1147.65 406.54 L1149.66 407.73 L1151.67 408.93 L1153.68 410.15 L1155.69 411.37 L1157.7 412.58 L1159.71 413.79 L1161.72 415.01 L1163.73 416.22 L1165.73 417.45 L1167.74 418.68 L1169.75 419.94 L1171.76 421.23 L1173.77 422.54 L1175.78 423.84 L1177.79 425.13 L1179.8 426.39 L1181.81 427.6 L1183.81 428.76 L1185.82 429.85 L1187.83 430.91 L1189.84 431.94 L1191.85 432.95 L1193.86 433.95 L1195.87 434.96 L1197.88 435.97 L1199.89 437 L1201.89 438.03 L1203.9 439.06 L1205.91 440.08 L1207.92 441.09 L1209.93 442.08 L1211.94 443.07 L1213.95 444.05 L1215.96 445.04 L1217.96 446.04 L1219.97 447.07 L1221.98 448.13 L1223.99 449.24 L1226 450.39 L1228.01 451.58 L1230.02 452.79 L1232.03 454.01 L1234.04 455.22 L1236.04 456.42 L1238.05 457.59 L1240.06 458.71 L1242.07 459.79 L1244.08 460.79 L1246.09 461.75 L1248.1 462.68 L1250.11 463.58 L1252.12 464.46 L1254.12 465.31 L1256.13 466.13 L1258.14 466.92 L1260.15 467.68 L1262.16 468.41 L1264.17 469.1 L1266.18 469.76 L1268.19 470.4 L1270.2 471.02 L1272.2 471.61 L1274.21 472.19 L1276.22 472.75 L1278.23 473.29 L1280.24 473.83 L1282.25 474.35 L1284.26 474.86 L1286.27 475.34 L1288.28 475.8 L1290.28 476.26 L1292.29 476.71 L1294.3 477.15 L1296.31 477.6 L1298.32 478.06 L1300.33 478.53 L1302.34 479.03 L1304.35 479.56 L1306.36 480.12 L1308.36 480.69 L1310.37 481.26 L1312.38 481.81 L1314.39 482.33 L1316.4 482.8 L1318.41 483.21 L1320.42 483.55 L1322.43 483.84 L1324.44 484.12 L1326.44 484.37 L1328.45 484.61 L1330.46 484.83 L1332.47 485.04 L1334.48 485.24 L1336.49 485.44 L1338.5 485.62 L1340.51 485.81 L1342.52 485.99 L1344.52 486.17 L1346.53 486.35 L1348.54 486.53 L1350.55 486.7 L1352.56 486.86 L1354.57 487.02 L1356.58 487.18 L1358.59 487.33 L1360.6 487.48 L1362.6 487.62 L1364.61 487.76 L1366.62 487.89 L1368.63 488.02 L1370.64 488.15 L1372.65 488.28 L1374.66 488.4 L1376.67 488.51 L1378.68 488.63 L1380.68 488.74 L1382.69 488.85 L1384.7 488.95 L1386.71 489.05 L1388.72 489.15 L1390.73 489.24 L1392.74 489.33 L1394.75 489.41 L1396.76 489.5 L1398.76 489.58 L1400.77 489.65 L1402.78 489.73 L1404.79 489.8 L1406.8 489.87 L1408.81 489.94 L1410.82 490.01 L1412.83 490.07 L1414.84 490.13 L1416.84 490.2 L1418.85 490.26 L1420.86 490.32 L1422.87 490.38 L1424.88 490.43 L1426.89 490.49 L1428.9 490.54 L1430.91 490.6 L1432.92 490.65 L1434.92 490.7 L1436.93 490.75 L1438.94 490.8 L1440.95 490.84 L1442.96 490.89 L1444.97 490.93 L1446.98 490.97 L1448.99 491.02 L1451 491.06 L1453 491.1 L1455.01 491.13 L1457.02 491.17 L1459.03 491.21 L1461.04 491.24 L1463.05 491.28 L1465.06 491.31 L1467.07 491.34 L1469.08 491.38 L1471.08 491.41 L1473.09 491.44 L1475.1 491.47 L1477.11 491.5 L1479.12 491.53 L1481.13 491.55 L1483.14 491.58 L1485.15 491.61 L1487.15 491.63 L1489.16 491.66 L1491.17 491.68 L1493.18 491.71 L1495.19 491.73 L1497.2 491.76 L1499.21 491.79 L1501.22 491.81 L1503.23 491.84 L1505.23 491.87 L1507.24 491.9 L1509.25 491.93 L1511.26 491.96 L1513.27 491.99 L1515.28 492.02 L1517.29 492.06 L1519.3 492.09 L1521.31 492.12 L1523.31 492.16 L1525.32 492.2 L1527.33 492.23 L1529.34 492.27 L1531.35 492.31 L1533.36 492.35 L1535.37 492.4 L1537.38 492.44 L1539.39 492.49 L1541.39 492.54 L1543.4 492.6 L1545.41 492.66 L1547.42 492.72 L1549.43 492.79 L1551.44 492.85 L1553.45 492.93 L1555.46 493.01 L1557.47 493.09 L1559.47 493.18 L1561.48 493.28 L1563.49 493.39 L1565.5 493.51 L1567.51 493.65 L1569.52 493.82 L1571.53 494.02 L1573.54 494.24 L1575.55 494.47 L1577.55 494.71 L1579.56 494.98 L1581.57 495.26 L1583.58 495.57 L1585.59 495.9 L1587.6 496.24 L1589.61 496.6 L1591.62 496.97 L1593.63 497.37 L1595.63 497.78 L1597.64 498.22 L1599.65 498.69 L1601.66 499.19 L1603.67 499.72 L1604.83 500.04 L1606 500.37 L1607.16 500.72 L1608.33 501.08 L1609.49 501.46 L1610.65 501.86 L1611.82 502.27 L1612.98 502.7 L1614.15 503.16 L1615.31 503.63 L1616.48 504.13 L1617.64 504.65 L1618.8 505.29 L1619.97 506.01 L1621.13 506.76 L1622.3 507.44 L1623.46 507.99 L1624.62 508.45 L1625.79 508.85 L1626.95 509.26 L1628.12 509.7 L1629.28 510.24 L1630.45 510.88 L1631.61 511.59 L1632.77 512.32 L1633.94 513.13 L1635.1 514.01 L1636.27 514.86 L1637.43 515.61 L1638.59 516.17 L1639.76 516.56 L1640.92 516.9 L1642.09 517.29 L1643.25 517.79 L1644.42 518.35 L1645.58 518.95 L1646.74 519.6 L1647.91 520.28 L1649.07 521 L1650.24 521.76 L1651.4 522.56 L1652.56 523.41 L1653.73 524.3 L1654.89 525.22 L1656.06 526.16 L1657.22 527.12 L1658.39 528.11 L1659.55 529.14 L1660.71 530.2" fill="none" stroke="#ee2a7b" stroke-width="2.5" stroke-linecap="round" stroke-linejoin="round" stroke-dasharray="11.2 7.5 1.4 7.5" stroke-dashoffset="1"/>
<path d="M1036.07 188.67 L1036.87 191.04 L1037.67 193.46 L1038.48 195.92 L1039.28 198.43 L1040.08 200.99 L1040.88 203.59 L1041.68 206.24 L1042.48 208.96 L1043.29 211.83 L1044.09 214.81 L1044.89 217.85 L1045.69 220.92 L1046.49 223.97 L1047.29 226.96 L1048.1 229.85 L1048.9 232.6 L1049.7 235.17 L1050.5 237.61 L1051.3 239.97 L1052.1 242.26 L1052.91 244.48 L1053.71 246.65 L1054.51 248.77 L1055.31 250.86 L1056.11 252.92 L1056.91 254.96 L1057.72 257 L1058.52 259.03 L1059.32 261.07 L1060.12 263.13 L1060.92 265.21 L1061.72 267.34 L1062.53 269.47 L1063.33 271.58 L1064.13 273.65 L1064.93 275.64 L1065.73 277.54 L1066.53 279.3 L1067.34 280.94 L1068.14 282.49 L1068.94 283.97 L1069.74 285.39 L1070.54 286.77 L1071.34 288.13 L1072.15 289.49 L1072.95 290.86 L1073.75 292.27 L1074.55 293.72 L1075.35 295.18 L1076.15 296.63 L1076.96 298.09 L1077.76 299.55 L1078.56 301.01 L1079.36 302.48 L1080.16 303.96 L1080.96 305.44 L1081.77 306.95 L1082.57 308.46 L1083.37 309.99 L1085.38 313.95 L1087.39 318.03 L1089.4 322.14 L1091.41 326.2 L1093.41 330.12 L1095.42 333.99 L1097.43 337.81 L1099.44 341.53 L1101.45 345.1 L1103.46 348.49 L1105.47 351.77 L1107.48 354.93 L1109.49 357.95 L1111.49 360.8 L1113.5 363.51 L1115.51 366.13 L1117.52 368.66 L1119.53 371.1 L1121.54 373.47 L1123.55 375.76 L1125.56 377.97 L1127.57 380.1 L1129.57 382.17 L1131.58 384.16 L1133.59 386.09 L1135.6 387.96 L1137.61 389.79 L1139.62 391.57 L1141.63 393.32 L1143.64 395.03 L1145.65 396.73 L1147.65 398.39 L1149.66 399.98 L1151.67 401.52 L1153.68 403.04 L1155.69 404.55 L1157.7 406.09 L1159.71 407.68 L1161.72 409.34 L1163.73 411.08 L1165.73 412.84 L1167.74 414.59 L1169.75 416.28 L1171.76 417.9 L1173.77 419.45 L1175.78 420.96 L1177.79 422.43 L1179.8 423.91 L1181.81 425.39 L1183.81 426.89 L1185.82 428.45 L1187.83 430.03 L1189.84 431.6 L1191.85 433.13 L1193.86 434.6 L1195.87 435.97 L1197.88 437.26 L1199.89 438.51 L1201.89 439.72 L1203.9 440.9 L1205.91 442.05 L1207.92 443.17 L1209.93 444.26 L1211.94 445.34 L1213.95 446.41 L1215.96 447.43 L1217.96 448.39 L1219.97 449.34 L1221.98 450.34 L1223.99 451.44 L1226 452.64 L1228.01 453.93 L1230.02 455.29 L1232.03 456.67 L1234.04 458.07 L1236.04 459.45 L1238.05 460.79 L1240.06 462.06 L1242.07 463.24 L1244.08 464.3 L1246.09 465.26 L1248.1 466.18 L1250.11 467.05 L1252.12 467.88 L1254.12 468.67 L1256.13 469.44 L1258.14 470.19 L1260.15 470.91 L1262.16 471.62 L1264.17 472.32 L1266.18 473.01 L1268.19 473.69 L1270.2 474.35 L1272.2 474.99 L1274.21 475.61 L1276.22 476.21 L1278.23 476.79 L1280.24 477.34 L1282.25 477.86 L1284.26 478.35 L1286.27 478.82 L1288.28 479.27 L1290.28 479.7 L1292.29 480.12 L1294.3 480.53 L1296.31 480.94 L1298.32 481.35 L1300.33 481.77 L1302.34 482.19 L1304.35 482.63 L1306.36 483.08 L1308.36 483.53 L1310.37 483.97 L1312.38 484.4 L1314.39 484.81 L1316.4 485.18 L1318.41 485.52 L1320.42 485.82 L1322.43 486.09 L1324.44 486.35 L1326.44 486.59 L1328.45 486.82 L1330.46 487.03 L1332.47 487.24 L1334.48 487.44 L1336.49 487.63 L1338.5 487.82 L1340.51 488 L1342.52 488.18 L1344.52 488.36 L1346.53 488.54 L1348.54 488.71 L1350.55 488.88 L1352.56 489.04 L1354.57 489.2 L1356.58 489.35 L1358.59 489.5 L1360.6 489.65 L1362.6 489.79 L1364.61 489.92 L1366.62 490.06 L1368.63 490.19 L1370.64 490.31 L1372.65 490.44 L1374.66 490.56 L1376.67 490.68 L1378.68 490.79 L1380.68 490.9 L1382.69 491.01 L1384.7 491.12 L1386.71 491.22 L1388.72 491.31 L1390.73 491.4 L1392.74 491.49 L1394.75 491.58 L1396.76 491.66 L1398.76 491.74 L1400.77 491.81 L1402.78 491.89 L1404.79 491.96 L1406.8 492.03 L1408.81 492.1 L1410.82 492.17 L1412.83 492.23 L1414.84 492.3 L1416.84 492.36 L1418.85 492.42 L1420.86 492.49 L1422.87 492.55 L1424.88 492.61 L1426.89 492.66 L1428.9 492.72 L1430.91 492.78 L1432.92 492.83 L1434.92 492.89 L1436.93 492.94 L1438.94 492.99 L1440.95 493.04 L1442.96 493.09 L1444.97 493.14 L1446.98 493.18 L1448.99 493.23 L1451 493.27 L1453 493.32 L1455.01 493.36 L1457.02 493.4 L1459.03 493.44 L1461.04 493.48 L1463.05 493.52 L1465.06 493.56 L1467.07 493.6 L1469.08 493.64 L1471.08 493.67 L1473.09 493.71 L1475.1 493.74 L1477.11 493.77 L1479.12 493.81 L1481.13 493.84 L1483.14 493.87 L1485.15 493.9 L1487.15 493.93 L1489.16 493.96 L1491.17 493.99 L1493.18 494.02 L1495.19 494.05 L1497.2 494.08 L1499.21 494.11 L1501.22 494.14 L1503.23 494.16 L1505.23 494.19 L1507.24 494.22 L1509.25 494.25 L1511.26 494.28 L1513.27 494.31 L1515.28 494.33 L1517.29 494.36 L1519.3 494.38 L1521.31 494.41 L1523.31 494.43 L1525.32 494.46 L1527.33 494.48 L1529.34 494.51 L1531.35 494.54 L1533.36 494.57 L1535.37 494.6 L1537.38 494.64 L1539.39 494.67 L1541.39 494.71 L1543.4 494.75 L1545.41 494.8 L1547.42 494.84 L1549.43 494.89 L1551.44 494.95 L1553.45 495 L1555.46 495.06 L1557.47 495.12 L1559.47 495.19 L1561.48 495.27 L1563.49 495.35 L1565.5 495.45 L1567.51 495.56 L1569.52 495.7 L1571.53 495.86 L1573.54 496.04 L1575.55 496.23 L1577.55 496.42 L1579.56 496.63 L1581.57 496.86 L1583.58 497.1 L1585.59 497.36 L1587.6 497.63 L1589.61 497.92 L1591.62 498.22 L1593.63 498.53 L1595.63 498.87 L1597.64 499.24 L1599.65 499.62 L1601.66 500.04 L1603.67 500.49 L1604.83 500.76 L1606 501.05 L1607.16 501.35 L1608.33 501.67 L1609.49 502 L1610.65 502.35 L1611.82 502.72 L1612.98 503.1 L1614.15 503.51 L1615.31 503.94 L1616.48 504.39 L1617.64 504.88 L1618.8 505.47 L1619.97 506.17 L1621.13 506.88 L1622.3 507.54 L1623.46 508.07 L1624.62 508.52 L1625.79 508.91 L1626.95 509.3 L1628.12 509.74 L1629.28 510.26 L1630.45 510.88 L1631.61 511.57 L1632.77 512.28 L1633.94 513.09 L1635.1 513.96 L1636.27 514.8 L1637.43 515.54 L1638.59 516.08 L1639.76 516.44 L1640.92 516.75 L1642.09 517.11 L1643.25 517.58 L1644.42 518.12 L1645.58 518.7 L1646.74 519.33 L1647.91 520 L1649.07 520.7 L1650.24 521.44 L1651.4 522.22 L1652.56 523.06 L1653.73 523.94 L1654.89 524.84 L1656.06 525.75 L1657.22 526.67 L1658.39 527.62 L1659.55 528.59 L1660.71 529.58" fill="none" stroke="#5cc5c4" stroke-width="2.5" stroke-linecap="round" stroke-linejoin="round" stroke-dasharray="11.2 7.5 1.4 7.5" stroke-dashoffset="1"/>
<path d="M1036.07 166.45 L1036.87 169.3 L1037.67 172.15 L1038.48 175 L1039.28 177.84 L1040.08 180.69 L1040.88 183.54 L1041.68 186.38 L1042.48 189.23 L1043.29 192.07 L1044.09 194.92 L1044.89 197.76 L1045.69 200.62 L1046.49 203.52 L1047.29 206.43 L1048.1 209.34 L1048.9 212.25 L1049.7 215.13 L1050.5 217.97 L1051.3 220.75 L1052.1 223.47 L1052.91 226.11 L1053.71 228.67 L1054.51 231.18 L1055.31 233.63 L1056.11 236.05 L1056.91 238.44 L1057.72 240.8 L1058.52 243.15 L1059.32 245.49 L1060.12 247.83 L1060.92 250.2 L1061.72 252.61 L1062.53 255.05 L1063.33 257.48 L1064.13 259.89 L1064.93 262.25 L1065.73 264.54 L1066.53 266.74 L1067.34 268.81 L1068.14 270.74 L1068.94 272.53 L1069.74 274.21 L1070.54 275.8 L1071.34 277.34 L1072.15 278.85 L1072.95 280.37 L1073.75 281.91 L1074.55 283.47 L1075.35 285.02 L1076.15 286.56 L1076.96 288.09 L1077.76 289.61 L1078.56 291.14 L1079.36 292.68 L1080.16 294.23 L1080.96 295.8 L1081.77 297.39 L1082.57 299.01 L1083.37 300.67 L1085.38 304.95 L1087.39 309.33 L1089.4 313.73 L1091.41 318.08 L1093.41 322.28 L1095.42 326.25 L1097.43 329.89 L1099.44 333.29 L1101.45 336.8 L1103.46 340.74 L1105.47 344.98 L1107.48 348.91 L1109.49 352.13 L1111.49 354.95 L1113.5 357.62 L1115.51 360.4 L1117.52 363.43 L1119.53 366.55 L1121.54 369.58 L1123.55 372.45 L1125.56 375.26 L1127.57 378.02 L1129.57 380.73 L1131.58 383.38 L1133.59 385.98 L1135.6 388.52 L1137.61 391.01 L1139.62 393.48 L1141.63 395.93 L1143.64 398.33 L1145.65 400.68 L1147.65 402.94 L1149.66 405.12 L1151.67 407.19 L1153.68 409.12 L1155.69 410.94 L1157.7 412.66 L1159.71 414.3 L1161.72 415.91 L1163.73 417.5 L1165.73 419.1 L1167.74 420.73 L1169.75 422.44 L1171.76 424.23 L1173.77 426.12 L1175.78 428.07 L1177.79 430.04 L1179.8 431.99 L1181.81 433.88 L1183.81 435.68 L1185.82 437.45 L1187.83 439.19 L1189.84 440.9 L1191.85 442.57 L1193.86 444.19 L1195.87 445.75 L1197.88 447.24 L1199.89 448.67 L1201.89 450.07 L1203.9 451.44 L1205.91 452.76 L1207.92 454.02 L1209.93 455.22 L1211.94 456.35 L1213.95 457.4 L1215.96 458.36 L1217.96 459.26 L1219.97 460.1 L1221.98 460.91 L1223.99 461.69 L1226 462.47 L1228.01 463.26 L1230.02 464.07 L1232.03 464.91 L1234.04 465.77 L1236.04 466.63 L1238.05 467.48 L1240.06 468.31 L1242.07 469.11 L1244.08 469.87 L1246.09 470.59 L1248.1 471.3 L1250.11 471.99 L1252.12 472.66 L1254.12 473.31 L1256.13 473.95 L1258.14 474.57 L1260.15 475.18 L1262.16 475.77 L1264.17 476.36 L1266.18 476.93 L1268.19 477.5 L1270.2 478.06 L1272.2 478.61 L1274.21 479.14 L1276.22 479.65 L1278.23 480.15 L1280.24 480.62 L1282.25 481.07 L1284.26 481.49 L1286.27 481.89 L1288.28 482.28 L1290.28 482.66 L1292.29 483.02 L1294.3 483.37 L1296.31 483.72 L1298.32 484.07 L1300.33 484.42 L1302.34 484.77 L1304.35 485.13 L1306.36 485.48 L1308.36 485.84 L1310.37 486.18 L1312.38 486.52 L1314.39 486.85 L1316.4 487.15 L1318.41 487.44 L1320.42 487.7 L1322.43 487.95 L1324.44 488.19 L1326.44 488.42 L1328.45 488.64 L1330.46 488.85 L1332.47 489.05 L1334.48 489.25 L1336.49 489.44 L1338.5 489.62 L1340.51 489.8 L1342.52 489.98 L1344.52 490.16 L1346.53 490.33 L1348.54 490.49 L1350.55 490.66 L1352.56 490.82 L1354.57 490.97 L1356.58 491.12 L1358.59 491.27 L1360.6 491.41 L1362.6 491.55 L1364.61 491.69 L1366.62 491.82 L1368.63 491.95 L1370.64 492.07 L1372.65 492.2 L1374.66 492.32 L1376.67 492.44 L1378.68 492.55 L1380.68 492.67 L1382.69 492.77 L1384.7 492.88 L1386.71 492.98 L1388.72 493.08 L1390.73 493.17 L1392.74 493.25 L1394.75 493.34 L1396.76 493.42 L1398.76 493.5 L1400.77 493.58 L1402.78 493.65 L1404.79 493.72 L1406.8 493.79 L1408.81 493.86 L1410.82 493.93 L1412.83 493.99 L1414.84 494.06 L1416.84 494.13 L1418.85 494.19 L1420.86 494.25 L1422.87 494.32 L1424.88 494.38 L1426.89 494.44 L1428.9 494.5 L1430.91 494.56 L1432.92 494.62 L1434.92 494.67 L1436.93 494.73 L1438.94 494.78 L1440.95 494.84 L1442.96 494.89 L1444.97 494.94 L1446.98 494.99 L1448.99 495.04 L1451 495.09 L1453 495.14 L1455.01 495.19 L1457.02 495.24 L1459.03 495.29 L1461.04 495.33 L1463.05 495.38 L1465.06 495.42 L1467.07 495.46 L1469.08 495.5 L1471.08 495.54 L1473.09 495.58 L1475.1 495.62 L1477.11 495.66 L1479.12 495.69 L1481.13 495.73 L1483.14 495.76 L1485.15 495.79 L1487.15 495.82 L1489.16 495.86 L1491.17 495.89 L1493.18 495.92 L1495.19 495.95 L1497.2 495.98 L1499.21 496.01 L1501.22 496.05 L1503.23 496.08 L1505.23 496.12 L1507.24 496.15 L1509.25 496.19 L1511.26 496.23 L1513.27 496.26 L1515.28 496.3 L1517.29 496.34 L1519.3 496.38 L1521.31 496.42 L1523.31 496.46 L1525.32 496.5 L1527.33 496.54 L1529.34 496.59 L1531.35 496.63 L1533.36 496.67 L1535.37 496.72 L1537.38 496.76 L1539.39 496.81 L1541.39 496.86 L1543.4 496.91 L1545.41 496.96 L1547.42 497.01 L1549.43 497.07 L1551.44 497.12 L1553.45 497.18 L1555.46 497.25 L1557.47 497.31 L1559.47 497.38 L1561.48 497.45 L1563.49 497.53 L1565.5 497.62 L1567.51 497.72 L1569.52 497.83 L1571.53 497.95 L1573.54 498.08 L1575.55 498.21 L1577.55 498.35 L1579.56 498.5 L1581.57 498.66 L1583.58 498.82 L1585.59 499 L1587.6 499.19 L1589.61 499.39 L1591.62 499.61 L1593.63 499.84 L1595.63 500.1 L1597.64 500.37 L1599.65 500.67 L1601.66 500.99 L1603.67 501.34 L1604.83 501.56 L1606 501.8 L1607.16 502.04 L1608.33 502.31 L1609.49 502.59 L1610.65 502.89 L1611.82 503.21 L1612.98 503.55 L1614.15 503.91 L1615.31 504.29 L1616.48 504.69 L1617.64 505.12 L1618.8 505.67 L1619.97 506.33 L1621.13 507.01 L1622.3 507.65 L1623.46 508.16 L1624.62 508.59 L1625.79 508.97 L1626.95 509.36 L1628.12 509.78 L1629.28 510.28 L1630.45 510.89 L1631.61 511.55 L1632.77 512.25 L1633.94 513.04 L1635.1 513.91 L1636.27 514.74 L1637.43 515.46 L1638.59 515.98 L1639.76 516.31 L1640.92 516.58 L1642.09 516.91 L1643.25 517.36 L1644.42 517.88 L1645.58 518.43 L1646.74 519.04 L1647.91 519.68 L1649.07 520.37 L1650.24 521.09 L1651.4 521.85 L1652.56 522.68 L1653.73 523.54 L1654.89 524.43 L1656.06 525.31 L1657.22 526.19 L1658.39 527.08 L1659.55 527.99 L1660.71 528.91" fill="none" stroke="#4cb859" stroke-width="2.5" stroke-linecap="round" stroke-linejoin="round" stroke-dasharray="11.2 7.5 1.4 7.5" stroke-dashoffset="1"/>
<path d="M1036.07 179.9 L1036.87 183.33 L1037.67 186.68 L1038.48 189.96 L1039.28 193.15 L1040.08 196.27 L1040.88 199.3 L1041.68 202.26 L1042.48 205.14 L1043.29 207.93 L1044.09 210.65 L1044.89 213.28 L1045.69 215.82 L1046.49 218.25 L1047.29 220.59 L1048.1 222.86 L1048.9 225.08 L1049.7 227.26 L1050.5 229.42 L1051.3 231.57 L1052.1 233.68 L1052.91 235.73 L1053.71 237.76 L1054.51 239.78 L1055.31 241.81 L1056.11 243.8 L1056.91 245.78 L1057.72 247.81 L1058.52 249.95 L1059.32 252.22 L1060.12 254.54 L1060.92 256.82 L1061.72 258.98 L1062.53 260.98 L1063.33 262.91 L1064.13 264.78 L1064.93 266.59 L1065.73 268.37 L1066.53 270.13 L1067.34 271.89 L1068.14 273.66 L1068.94 275.41 L1069.74 277.15 L1070.54 278.88 L1071.34 280.59 L1072.15 282.29 L1072.95 283.99 L1073.75 285.68 L1074.55 287.37 L1075.35 289.05 L1076.15 290.73 L1076.96 292.4 L1077.76 294.07 L1078.56 295.73 L1079.36 297.39 L1080.16 299.04 L1080.96 300.69 L1081.77 302.33 L1082.57 303.97 L1083.37 305.61 L1085.38 309.69 L1087.39 313.75 L1089.4 317.78 L1091.41 321.79 L1093.41 325.78 L1095.42 329.85 L1097.43 333.93 L1099.44 337.87 L1101.45 341.53 L1103.46 344.81 L1105.47 347.83 L1107.48 350.71 L1109.49 353.56 L1111.49 356.43 L1113.5 359.24 L1115.51 361.89 L1117.52 364.32 L1119.53 366.62 L1121.54 368.82 L1123.55 370.99 L1125.56 373.16 L1127.57 375.39 L1129.57 377.72 L1131.58 380.13 L1133.59 382.59 L1135.6 385.07 L1137.61 387.54 L1139.62 389.96 L1141.63 392.31 L1143.64 394.54 L1145.65 396.63 L1147.65 398.56 L1149.66 400.32 L1151.67 401.99 L1153.68 403.63 L1155.69 405.29 L1157.7 407.03 L1159.71 408.85 L1161.72 410.71 L1163.73 412.6 L1165.73 414.49 L1167.74 416.37 L1169.75 418.2 L1171.76 419.98 L1173.77 421.68 L1175.78 423.27 L1177.79 424.75 L1179.8 426.18 L1181.81 427.62 L1183.81 429.11 L1185.82 430.71 L1187.83 432.48 L1189.84 434.42 L1191.85 436.45 L1193.86 438.52 L1195.87 440.54 L1197.88 442.45 L1199.89 444.23 L1201.89 445.98 L1203.9 447.7 L1205.91 449.37 L1207.92 450.99 L1209.93 452.54 L1211.94 454 L1213.95 455.37 L1215.96 456.66 L1217.96 457.89 L1219.97 459.06 L1221.98 460.19 L1223.99 461.27 L1226 462.32 L1228.01 463.35 L1230.02 464.36 L1232.03 465.36 L1234.04 466.32 L1236.04 467.26 L1238.05 468.18 L1240.06 469.06 L1242.07 469.92 L1244.08 470.74 L1246.09 471.54 L1248.1 472.31 L1250.11 473.07 L1252.12 473.81 L1254.12 474.53 L1256.13 475.22 L1258.14 475.91 L1260.15 476.57 L1262.16 477.21 L1264.17 477.84 L1266.18 478.46 L1268.19 479.06 L1270.2 479.66 L1272.2 480.24 L1274.21 480.8 L1276.22 481.34 L1278.23 481.86 L1280.24 482.35 L1282.25 482.82 L1284.26 483.27 L1286.27 483.71 L1288.28 484.13 L1290.28 484.53 L1292.29 484.92 L1294.3 485.3 L1296.31 485.66 L1298.32 486 L1300.33 486.33 L1302.34 486.64 L1304.35 486.94 L1306.36 487.23 L1308.36 487.5 L1310.37 487.77 L1312.38 488.02 L1314.39 488.27 L1316.4 488.51 L1318.41 488.74 L1320.42 488.97 L1322.43 489.2 L1324.44 489.42 L1326.44 489.63 L1328.45 489.84 L1330.46 490.04 L1332.47 490.24 L1334.48 490.44 L1336.49 490.63 L1338.5 490.81 L1340.51 490.99 L1342.52 491.16 L1344.52 491.34 L1346.53 491.5 L1348.54 491.66 L1350.55 491.82 L1352.56 491.98 L1354.57 492.13 L1356.58 492.28 L1358.59 492.43 L1360.6 492.57 L1362.6 492.71 L1364.61 492.84 L1366.62 492.97 L1368.63 493.1 L1370.64 493.22 L1372.65 493.35 L1374.66 493.47 L1376.67 493.59 L1378.68 493.7 L1380.68 493.81 L1382.69 493.92 L1384.7 494.03 L1386.71 494.13 L1388.72 494.22 L1390.73 494.32 L1392.74 494.4 L1394.75 494.49 L1396.76 494.57 L1398.76 494.65 L1400.77 494.72 L1402.78 494.8 L1404.79 494.87 L1406.8 494.94 L1408.81 495.01 L1410.82 495.07 L1412.83 495.14 L1414.84 495.21 L1416.84 495.28 L1418.85 495.34 L1420.86 495.41 L1422.87 495.47 L1424.88 495.54 L1426.89 495.6 L1428.9 495.66 L1430.91 495.72 L1432.92 495.79 L1434.92 495.85 L1436.93 495.9 L1438.94 495.96 L1440.95 496.02 L1442.96 496.08 L1444.97 496.13 L1446.98 496.19 L1448.99 496.25 L1451 496.3 L1453 496.35 L1455.01 496.41 L1457.02 496.46 L1459.03 496.51 L1461.04 496.57 L1463.05 496.62 L1465.06 496.66 L1467.07 496.71 L1469.08 496.76 L1471.08 496.8 L1473.09 496.85 L1475.1 496.89 L1477.11 496.93 L1479.12 496.97 L1481.13 497 L1483.14 497.04 L1485.15 497.08 L1487.15 497.12 L1489.16 497.15 L1491.17 497.19 L1493.18 497.22 L1495.19 497.26 L1497.2 497.29 L1499.21 497.33 L1501.22 497.36 L1503.23 497.4 L1505.23 497.44 L1507.24 497.47 L1509.25 497.51 L1511.26 497.55 L1513.27 497.59 L1515.28 497.63 L1517.29 497.66 L1519.3 497.7 L1521.31 497.74 L1523.31 497.78 L1525.32 497.82 L1527.33 497.86 L1529.34 497.9 L1531.35 497.94 L1533.36 497.98 L1535.37 498.02 L1537.38 498.06 L1539.39 498.1 L1541.39 498.14 L1543.4 498.18 L1545.41 498.23 L1547.42 498.27 L1549.43 498.32 L1551.44 498.36 L1553.45 498.41 L1555.46 498.46 L1557.47 498.51 L1559.47 498.56 L1561.48 498.62 L1563.49 498.68 L1565.5 498.75 L1567.51 498.82 L1569.52 498.89 L1571.53 498.97 L1573.54 499.06 L1575.55 499.16 L1577.55 499.28 L1579.56 499.4 L1581.57 499.54 L1583.58 499.69 L1585.59 499.86 L1587.6 500.03 L1589.61 500.22 L1591.62 500.41 L1593.63 500.61 L1595.63 500.84 L1597.64 501.08 L1599.65 501.34 L1601.66 501.62 L1603.67 501.94 L1604.83 502.13 L1606 502.34 L1607.16 502.56 L1608.33 502.8 L1609.49 503.06 L1610.65 503.33 L1611.82 503.62 L1612.98 503.93 L1614.15 504.25 L1615.31 504.6 L1616.48 504.97 L1617.64 505.37 L1618.8 505.89 L1619.97 506.51 L1621.13 507.15 L1622.3 507.76 L1623.46 508.25 L1624.62 508.66 L1625.79 509.04 L1626.95 509.41 L1628.12 509.82 L1629.28 510.31 L1630.45 510.89 L1631.61 511.54 L1632.77 512.21 L1633.94 513 L1635.1 513.85 L1636.27 514.68 L1637.43 515.39 L1638.59 515.87 L1639.76 516.17 L1640.92 516.42 L1642.09 516.72 L1643.25 517.14 L1644.42 517.63 L1645.58 518.16 L1646.74 518.74 L1647.91 519.37 L1649.07 520.04 L1650.24 520.73 L1651.4 521.48 L1652.56 522.3 L1653.73 523.15 L1654.89 524.01 L1656.06 524.87 L1657.22 525.7 L1658.39 526.54 L1659.55 527.39 L1660.71 528.23" fill="none" stroke="#c083bd" stroke-width="2.5" stroke-linecap="round" stroke-linejoin="round" stroke-dasharray="11.2 7.5 1.4 7.5" stroke-dashoffset="1"/>
<path d="M1036.07 384.25 L1036.87 385.22 L1037.67 386.18 L1038.48 387.12 L1039.28 388.05 L1040.08 388.95 L1040.88 389.83 L1041.68 390.69 L1042.48 391.52 L1043.29 392.31 L1044.09 393.07 L1044.89 393.79 L1045.69 394.48 L1046.49 395.16 L1047.29 395.82 L1048.1 396.47 L1048.9 397.1 L1049.7 397.72 L1050.5 398.33 L1051.3 398.92 L1052.1 399.5 L1052.91 400.06 L1053.71 400.61 L1054.51 401.15 L1055.31 401.68 L1056.11 402.19 L1056.91 402.69 L1057.72 403.18 L1058.52 403.66 L1059.32 404.13 L1060.12 404.58 L1060.92 405.02 L1061.72 405.46 L1062.53 405.88 L1063.33 406.29 L1064.13 406.7 L1064.93 407.1 L1065.73 407.49 L1066.53 407.87 L1067.34 408.24 L1068.14 408.61 L1068.94 408.96 L1069.74 409.31 L1070.54 409.66 L1071.34 410 L1072.15 410.33 L1072.95 410.65 L1073.75 410.97 L1074.55 411.29 L1075.35 411.6 L1076.15 411.9 L1076.96 412.2 L1077.76 412.49 L1078.56 412.78 L1079.36 413.06 L1080.16 413.34 L1080.96 413.61 L1081.77 413.88 L1082.57 414.15 L1083.37 414.41 L1085.38 415.04 L1087.39 415.65 L1089.4 416.24 L1091.41 416.81 L1093.41 417.35 L1095.42 417.88 L1097.43 418.39 L1099.44 418.88 L1101.45 419.36 L1103.46 419.83 L1105.47 420.29 L1107.48 420.74 L1109.49 421.18 L1111.49 421.61 L1113.5 422.02 L1115.51 422.43 L1117.52 422.84 L1119.53 423.25 L1121.54 423.67 L1123.55 424.09 L1125.56 424.51 L1127.57 424.93 L1129.57 425.35 L1131.58 425.77 L1133.59 426.2 L1135.6 426.62 L1137.61 427.04 L1139.62 427.45 L1141.63 427.86 L1143.64 428.27 L1145.65 428.68 L1147.65 429.1 L1149.66 429.53 L1151.67 429.98 L1153.68 430.44 L1155.69 430.92 L1157.7 431.41 L1159.71 431.91 L1161.72 432.43 L1163.73 432.96 L1165.73 433.49 L1167.74 434.04 L1169.75 434.59 L1171.76 435.16 L1173.77 435.74 L1175.78 436.33 L1177.79 436.94 L1179.8 437.56 L1181.81 438.19 L1183.81 438.84 L1185.82 439.5 L1187.83 440.18 L1189.84 440.88 L1191.85 441.59 L1193.86 442.32 L1195.87 443.06 L1197.88 443.8 L1199.89 444.56 L1201.89 445.35 L1203.9 446.16 L1205.91 446.98 L1207.92 447.8 L1209.93 448.62 L1211.94 449.43 L1213.95 450.22 L1215.96 450.99 L1217.96 451.75 L1219.97 452.49 L1221.98 453.23 L1223.99 453.98 L1226 454.74 L1228.01 455.52 L1230.02 456.32 L1232.03 457.18 L1234.04 458.09 L1236.04 459.02 L1238.05 459.96 L1240.06 460.88 L1242.07 461.75 L1244.08 462.56 L1246.09 463.3 L1248.1 464.02 L1250.11 464.71 L1252.12 465.38 L1254.12 466.03 L1256.13 466.66 L1258.14 467.27 L1260.15 467.87 L1262.16 468.46 L1264.17 469.05 L1266.18 469.62 L1268.19 470.17 L1270.2 470.72 L1272.2 471.25 L1274.21 471.78 L1276.22 472.29 L1278.23 472.79 L1280.24 473.28 L1282.25 473.76 L1284.26 474.23 L1286.27 474.7 L1288.28 475.16 L1290.28 475.61 L1292.29 476.05 L1294.3 476.48 L1296.31 476.9 L1298.32 477.3 L1300.33 477.69 L1302.34 478.06 L1304.35 478.42 L1306.36 478.77 L1308.36 479.11 L1310.37 479.45 L1312.38 479.77 L1314.39 480.08 L1316.4 480.38 L1318.41 480.67 L1320.42 480.95 L1322.43 481.22 L1324.44 481.48 L1326.44 481.74 L1328.45 481.99 L1330.46 482.24 L1332.47 482.47 L1334.48 482.71 L1336.49 482.93 L1338.5 483.14 L1340.51 483.35 L1342.52 483.55 L1344.52 483.74 L1346.53 483.93 L1348.54 484.11 L1350.55 484.29 L1352.56 484.46 L1354.57 484.62 L1356.58 484.79 L1358.59 484.94 L1360.6 485.09 L1362.6 485.24 L1364.61 485.38 L1366.62 485.51 L1368.63 485.64 L1370.64 485.77 L1372.65 485.9 L1374.66 486.02 L1376.67 486.14 L1378.68 486.25 L1380.68 486.36 L1382.69 486.47 L1384.7 486.57 L1386.71 486.67 L1388.72 486.77 L1390.73 486.86 L1392.74 486.95 L1394.75 487.04 L1396.76 487.12 L1398.76 487.2 L1400.77 487.28 L1402.78 487.35 L1404.79 487.43 L1406.8 487.5 L1408.81 487.56 L1410.82 487.63 L1412.83 487.69 L1414.84 487.75 L1416.84 487.81 L1418.85 487.87 L1420.86 487.93 L1422.87 487.98 L1424.88 488.04 L1426.89 488.09 L1428.9 488.14 L1430.91 488.19 L1432.92 488.24 L1434.92 488.28 L1436.93 488.33 L1438.94 488.37 L1440.95 488.41 L1442.96 488.45 L1444.97 488.48 L1446.98 488.52 L1448.99 488.55 L1451 488.58 L1453 488.61 L1455.01 488.64 L1457.02 488.67 L1459.03 488.7 L1461.04 488.72 L1463.05 488.75 L1465.06 488.78 L1467.07 488.8 L1469.08 488.83 L1471.08 488.85 L1473.09 488.88 L1475.1 488.9 L1477.11 488.92 L1479.12 488.94 L1481.13 488.97 L1483.14 488.99 L1485.15 489.01 L1487.15 489.03 L1489.16 489.05 L1491.17 489.07 L1493.18 489.09 L1495.19 489.11 L1497.2 489.13 L1499.21 489.15 L1501.22 489.17 L1503.23 489.19 L1505.23 489.22 L1507.24 489.24 L1509.25 489.26 L1511.26 489.29 L1513.27 489.32 L1515.28 489.34 L1517.29 489.37 L1519.3 489.39 L1521.31 489.42 L1523.31 489.45 L1525.32 489.48 L1527.33 489.51 L1529.34 489.55 L1531.35 489.58 L1533.36 489.62 L1535.37 489.66 L1537.38 489.7 L1539.39 489.75 L1541.39 489.8 L1543.4 489.86 L1545.41 489.92 L1547.42 489.99 L1549.43 490.06 L1551.44 490.14 L1553.45 490.22 L1555.46 490.31 L1557.47 490.41 L1559.47 490.51 L1561.48 490.63 L1563.49 490.77 L1565.5 490.92 L1567.51 491.1 L1569.52 491.32 L1571.53 491.58 L1573.54 491.87 L1575.55 492.17 L1577.55 492.48 L1579.56 492.81 L1581.57 493.16 L1583.58 493.54 L1585.59 493.94 L1587.6 494.35 L1589.61 494.79 L1591.62 495.24 L1593.63 495.72 L1595.63 496.23 L1597.64 496.77 L1599.65 497.33 L1601.66 497.93 L1603.67 498.56 L1604.83 498.94 L1606 499.34 L1607.16 499.75 L1608.33 500.17 L1609.49 500.61 L1610.65 501.07 L1611.82 501.55 L1612.98 502.04 L1614.15 502.56 L1615.31 503.1 L1616.48 503.66 L1617.64 504.25 L1618.8 504.95 L1619.97 505.74 L1621.13 506.53 L1622.3 507.26 L1623.46 507.85 L1624.62 508.33 L1625.79 508.75 L1626.95 509.17 L1628.12 509.63 L1629.28 510.19 L1630.45 510.87 L1631.61 511.62 L1632.77 512.38 L1633.94 513.22 L1635.1 514.1 L1636.27 514.96 L1637.43 515.73 L1638.59 516.34 L1639.76 516.78 L1640.92 517.17 L1642.09 517.61 L1643.25 518.15 L1644.42 518.75 L1645.58 519.39 L1646.74 520.07 L1647.91 520.79 L1649.07 521.55 L1650.24 522.34 L1651.4 523.16 L1652.56 524.04 L1653.73 524.95 L1654.89 525.9 L1656.06 526.88 L1657.22 527.91 L1658.39 528.99 L1659.55 530.13 L1660.71 531.3" fill="none" stroke="#000000" stroke-width="2.5" stroke-linecap="butt" stroke-linejoin="round" />
<path d="M1036.07 224.74 L1036.87 225.18 L1037.67 226.09 L1038.48 227.29 L1039.28 228.79 L1040.08 231.13 L1040.88 233.98 L1041.68 236.91 L1042.48 239.68 L1043.29 242.57 L1044.09 245.5 L1044.89 248.35 L1045.69 251.08 L1046.49 253.77 L1047.29 256.41 L1048.1 259.02 L1048.9 261.59 L1049.7 264.12 L1050.5 266.6 L1051.3 269.04 L1052.1 271.44 L1052.91 273.82 L1053.71 276.2 L1054.51 278.56 L1055.31 280.92 L1056.11 283.26 L1056.91 285.58 L1057.72 287.89 L1058.52 290.18 L1059.32 292.45 L1060.12 294.7 L1060.92 296.93 L1061.72 299.15 L1062.53 301.36 L1063.33 303.55 L1064.13 305.72 L1064.93 307.87 L1065.73 310 L1066.53 312.1 L1067.34 314.18 L1068.14 316.22 L1068.94 318.25 L1069.74 320.26 L1070.54 322.25 L1071.34 324.22 L1072.15 326.17 L1072.95 328.08 L1073.75 329.96 L1074.55 331.8 L1075.35 333.6 L1076.15 335.35 L1076.96 337.07 L1077.76 338.76 L1078.56 340.41 L1079.36 342.04 L1080.16 343.64 L1080.96 345.21 L1081.77 346.75 L1082.57 348.27 L1083.37 349.75 L1085.38 353.41 L1087.39 356.93 L1089.4 360.25 L1091.41 363.31 L1093.41 366.11 L1095.42 368.73 L1097.43 371.22 L1099.44 373.61 L1101.45 375.93 L1103.46 378.14 L1105.47 380.23 L1107.48 382.18 L1109.49 384.07 L1111.49 385.9 L1113.5 387.67 L1115.51 389.38 L1117.52 391 L1119.53 392.55 L1121.54 394.02 L1123.55 395.41 L1125.56 396.72 L1127.57 397.97 L1129.57 399.18 L1131.58 400.34 L1133.59 401.47 L1135.6 402.58 L1137.61 403.67 L1139.62 404.72 L1141.63 405.7 L1143.64 406.66 L1145.65 407.61 L1147.65 408.58 L1149.66 409.58 L1151.67 410.64 L1153.68 411.78 L1155.69 412.97 L1157.7 414.22 L1159.71 415.51 L1161.72 416.83 L1163.73 418.19 L1165.73 419.56 L1167.74 420.96 L1169.75 422.38 L1171.76 423.87 L1173.77 425.39 L1175.78 426.94 L1177.79 428.49 L1179.8 430.03 L1181.81 431.54 L1183.81 433.01 L1185.82 434.47 L1187.83 435.93 L1189.84 437.37 L1191.85 438.8 L1193.86 440.2 L1195.87 441.57 L1197.88 442.9 L1199.89 444.2 L1201.89 445.5 L1203.9 446.78 L1205.91 448.03 L1207.92 449.24 L1209.93 450.41 L1211.94 451.51 L1213.95 452.55 L1215.96 453.5 L1217.96 454.4 L1219.97 455.25 L1221.98 456.06 L1223.99 456.87 L1226 457.67 L1228.01 458.5 L1230.02 459.35 L1232.03 460.26 L1234.04 461.2 L1236.04 462.15 L1238.05 463.1 L1240.06 464.02 L1242.07 464.9 L1244.08 465.72 L1246.09 466.47 L1248.1 467.2 L1250.11 467.91 L1252.12 468.58 L1254.12 469.24 L1256.13 469.88 L1258.14 470.51 L1260.15 471.12 L1262.16 471.72 L1264.17 472.31 L1266.18 472.9 L1268.19 473.47 L1270.2 474.04 L1272.2 474.59 L1274.21 475.12 L1276.22 475.65 L1278.23 476.16 L1280.24 476.65 L1282.25 477.13 L1284.26 477.59 L1286.27 478.05 L1288.28 478.5 L1290.28 478.93 L1292.29 479.35 L1294.3 479.76 L1296.31 480.16 L1298.32 480.54 L1300.33 480.9 L1302.34 481.25 L1304.35 481.59 L1306.36 481.92 L1308.36 482.24 L1310.37 482.55 L1312.38 482.84 L1314.39 483.13 L1316.4 483.41 L1318.41 483.68 L1320.42 483.94 L1322.43 484.2 L1324.44 484.44 L1326.44 484.69 L1328.45 484.92 L1330.46 485.15 L1332.47 485.38 L1334.48 485.59 L1336.49 485.8 L1338.5 486.01 L1340.51 486.21 L1342.52 486.4 L1344.52 486.58 L1346.53 486.76 L1348.54 486.94 L1350.55 487.11 L1352.56 487.27 L1354.57 487.43 L1356.58 487.59 L1358.59 487.74 L1360.6 487.89 L1362.6 488.03 L1364.61 488.17 L1366.62 488.3 L1368.63 488.43 L1370.64 488.56 L1372.65 488.68 L1374.66 488.81 L1376.67 488.92 L1378.68 489.04 L1380.68 489.15 L1382.69 489.26 L1384.7 489.36 L1386.71 489.46 L1388.72 489.56 L1390.73 489.65 L1392.74 489.74 L1394.75 489.82 L1396.76 489.91 L1398.76 489.98 L1400.77 490.06 L1402.78 490.14 L1404.79 490.21 L1406.8 490.28 L1408.81 490.35 L1410.82 490.41 L1412.83 490.48 L1414.84 490.54 L1416.84 490.61 L1418.85 490.67 L1420.86 490.73 L1422.87 490.78 L1424.88 490.84 L1426.89 490.9 L1428.9 490.95 L1430.91 491.01 L1432.92 491.06 L1434.92 491.11 L1436.93 491.16 L1438.94 491.21 L1440.95 491.25 L1442.96 491.3 L1444.97 491.34 L1446.98 491.38 L1448.99 491.43 L1451 491.47 L1453 491.5 L1455.01 491.54 L1457.02 491.58 L1459.03 491.62 L1461.04 491.65 L1463.05 491.69 L1465.06 491.72 L1467.07 491.75 L1469.08 491.79 L1471.08 491.82 L1473.09 491.85 L1475.1 491.88 L1477.11 491.91 L1479.12 491.94 L1481.13 491.97 L1483.14 491.99 L1485.15 492.02 L1487.15 492.05 L1489.16 492.07 L1491.17 492.1 L1493.18 492.13 L1495.19 492.15 L1497.2 492.18 L1499.21 492.2 L1501.22 492.23 L1503.23 492.26 L1505.23 492.28 L1507.24 492.31 L1509.25 492.34 L1511.26 492.37 L1513.27 492.39 L1515.28 492.42 L1517.29 492.45 L1519.3 492.47 L1521.31 492.5 L1523.31 492.53 L1525.32 492.55 L1527.33 492.58 L1529.34 492.61 L1531.35 492.64 L1533.36 492.68 L1535.37 492.71 L1537.38 492.75 L1539.39 492.79 L1541.39 492.84 L1543.4 492.88 L1545.41 492.94 L1547.42 492.99 L1549.43 493.05 L1551.44 493.11 L1553.45 493.18 L1555.46 493.25 L1557.47 493.32 L1559.47 493.41 L1561.48 493.5 L1563.49 493.6 L1565.5 493.71 L1567.51 493.85 L1569.52 494.02 L1571.53 494.22 L1573.54 494.44 L1575.55 494.67 L1577.55 494.91 L1579.56 495.16 L1581.57 495.44 L1583.58 495.74 L1585.59 496.05 L1587.6 496.38 L1589.61 496.73 L1591.62 497.09 L1593.63 497.47 L1595.63 497.88 L1597.64 498.31 L1599.65 498.76 L1601.66 499.25 L1603.67 499.77 L1604.83 500.09 L1606 500.41 L1607.16 500.76 L1608.33 501.12 L1609.49 501.49 L1610.65 501.88 L1611.82 502.29 L1612.98 502.72 L1614.15 503.17 L1615.31 503.64 L1616.48 504.13 L1617.64 504.65 L1618.8 505.29 L1619.97 506.02 L1621.13 506.76 L1622.3 507.44 L1623.46 508 L1624.62 508.45 L1625.79 508.85 L1626.95 509.25 L1628.12 509.7 L1629.28 510.23 L1630.45 510.88 L1631.61 511.59 L1632.77 512.32 L1633.94 513.14 L1635.1 514.01 L1636.27 514.86 L1637.43 515.61 L1638.59 516.17 L1639.76 516.56 L1640.92 516.9 L1642.09 517.29 L1643.25 517.78 L1644.42 518.35 L1645.58 518.95 L1646.74 519.6 L1647.91 520.28 L1649.07 521 L1650.24 521.76 L1651.4 522.56 L1652.56 523.41 L1653.73 524.3 L1654.89 525.22 L1656.06 526.16 L1657.22 527.12 L1658.39 528.11 L1659.55 529.14 L1660.71 530.2" fill="none" stroke="#ed1c24" stroke-width="2.5" stroke-linecap="butt" stroke-linejoin="round" />
<path d="M1036.07 174.17 L1036.87 176.91 L1037.67 179.77 L1038.48 182.78 L1039.28 185.98 L1040.08 189.39 L1040.88 192.96 L1041.68 196.65 L1042.48 200.39 L1043.29 204.14 L1044.09 207.84 L1044.89 211.44 L1045.69 214.95 L1046.49 218.44 L1047.29 221.9 L1048.1 225.33 L1048.9 228.72 L1049.7 232.06 L1050.5 235.39 L1051.3 238.72 L1052.1 242.02 L1052.91 245.28 L1053.71 248.48 L1054.51 251.59 L1055.31 254.61 L1056.11 257.51 L1056.91 260.32 L1057.72 263.05 L1058.52 265.71 L1059.32 268.32 L1060.12 270.87 L1060.92 273.37 L1061.72 275.84 L1062.53 278.26 L1063.33 280.63 L1064.13 282.95 L1064.93 285.23 L1065.73 287.49 L1066.53 289.73 L1067.34 291.95 L1068.14 294.17 L1068.94 296.4 L1069.74 298.63 L1070.54 300.85 L1071.34 303.06 L1072.15 305.25 L1072.95 307.4 L1073.75 309.51 L1074.55 311.57 L1075.35 313.57 L1076.15 315.51 L1076.96 317.4 L1077.76 319.24 L1078.56 321.04 L1079.36 322.81 L1080.16 324.55 L1080.96 326.26 L1081.77 327.96 L1082.57 329.65 L1083.37 331.34 L1085.38 335.54 L1087.39 339.68 L1089.4 343.63 L1091.41 347.31 L1093.41 350.73 L1095.42 353.95 L1097.43 357.04 L1099.44 360.04 L1101.45 363 L1103.46 365.84 L1105.47 368.49 L1107.48 370.88 L1109.49 373.13 L1111.49 375.26 L1113.5 377.29 L1115.51 379.25 L1117.52 381.13 L1119.53 382.97 L1121.54 384.77 L1123.55 386.53 L1125.56 388.24 L1127.57 389.89 L1129.57 391.5 L1131.58 393.07 L1133.59 394.61 L1135.6 396.13 L1137.61 397.64 L1139.62 399.1 L1141.63 400.51 L1143.64 401.9 L1145.65 403.27 L1147.65 404.64 L1149.66 406.03 L1151.67 407.45 L1153.68 408.89 L1155.69 410.35 L1157.7 411.81 L1159.71 413.29 L1161.72 414.78 L1163.73 416.3 L1165.73 417.85 L1167.74 419.42 L1169.75 421.05 L1171.76 422.74 L1173.77 424.46 L1175.78 426.21 L1177.79 427.96 L1179.8 429.7 L1181.81 431.41 L1183.81 433.08 L1185.82 434.75 L1187.83 436.44 L1189.84 438.11 L1191.85 439.76 L1193.86 441.37 L1195.87 442.91 L1197.88 444.36 L1199.89 445.74 L1201.89 447.07 L1203.9 448.36 L1205.91 449.6 L1207.92 450.79 L1209.93 451.94 L1211.94 453.03 L1213.95 454.07 L1215.96 455.04 L1217.96 455.96 L1219.97 456.83 L1221.98 457.67 L1223.99 458.49 L1226 459.32 L1228.01 460.16 L1230.02 461.04 L1232.03 461.96 L1234.04 462.91 L1236.04 463.87 L1238.05 464.83 L1240.06 465.76 L1242.07 466.65 L1244.08 467.47 L1246.09 468.23 L1248.1 468.97 L1250.11 469.68 L1252.12 470.37 L1254.12 471.03 L1256.13 471.67 L1258.14 472.3 L1260.15 472.92 L1262.16 473.53 L1264.17 474.13 L1266.18 474.72 L1268.19 475.31 L1270.2 475.88 L1272.2 476.44 L1274.21 476.98 L1276.22 477.52 L1278.23 478.03 L1280.24 478.52 L1282.25 479 L1284.26 479.46 L1286.27 479.91 L1288.28 480.35 L1290.28 480.77 L1292.29 481.18 L1294.3 481.58 L1296.31 481.97 L1298.32 482.34 L1300.33 482.69 L1302.34 483.03 L1304.35 483.35 L1306.36 483.67 L1308.36 483.97 L1310.37 484.27 L1312.38 484.55 L1314.39 484.83 L1316.4 485.1 L1318.41 485.36 L1320.42 485.61 L1322.43 485.85 L1324.44 486.09 L1326.44 486.32 L1328.45 486.55 L1330.46 486.77 L1332.47 486.99 L1334.48 487.2 L1336.49 487.4 L1338.5 487.6 L1340.51 487.79 L1342.52 487.98 L1344.52 488.16 L1346.53 488.33 L1348.54 488.51 L1350.55 488.67 L1352.56 488.83 L1354.57 488.99 L1356.58 489.15 L1358.59 489.3 L1360.6 489.44 L1362.6 489.58 L1364.61 489.72 L1366.62 489.85 L1368.63 489.98 L1370.64 490.11 L1372.65 490.23 L1374.66 490.35 L1376.67 490.47 L1378.68 490.59 L1380.68 490.7 L1382.69 490.81 L1384.7 490.91 L1386.71 491.01 L1388.72 491.11 L1390.73 491.2 L1392.74 491.29 L1394.75 491.37 L1396.76 491.45 L1398.76 491.53 L1400.77 491.61 L1402.78 491.68 L1404.79 491.76 L1406.8 491.83 L1408.81 491.89 L1410.82 491.96 L1412.83 492.03 L1414.84 492.09 L1416.84 492.16 L1418.85 492.22 L1420.86 492.28 L1422.87 492.34 L1424.88 492.4 L1426.89 492.46 L1428.9 492.52 L1430.91 492.57 L1432.92 492.63 L1434.92 492.68 L1436.93 492.73 L1438.94 492.78 L1440.95 492.83 L1442.96 492.88 L1444.97 492.93 L1446.98 492.98 L1448.99 493.02 L1451 493.07 L1453 493.11 L1455.01 493.16 L1457.02 493.2 L1459.03 493.24 L1461.04 493.28 L1463.05 493.32 L1465.06 493.36 L1467.07 493.39 L1469.08 493.43 L1471.08 493.47 L1473.09 493.5 L1475.1 493.54 L1477.11 493.57 L1479.12 493.6 L1481.13 493.63 L1483.14 493.67 L1485.15 493.7 L1487.15 493.73 L1489.16 493.76 L1491.17 493.79 L1493.18 493.81 L1495.19 493.84 L1497.2 493.87 L1499.21 493.9 L1501.22 493.93 L1503.23 493.96 L1505.23 493.99 L1507.24 494.02 L1509.25 494.05 L1511.26 494.07 L1513.27 494.1 L1515.28 494.13 L1517.29 494.16 L1519.3 494.18 L1521.31 494.21 L1523.31 494.23 L1525.32 494.26 L1527.33 494.29 L1529.34 494.32 L1531.35 494.35 L1533.36 494.38 L1535.37 494.41 L1537.38 494.45 L1539.39 494.48 L1541.39 494.52 L1543.4 494.57 L1545.41 494.61 L1547.42 494.66 L1549.43 494.71 L1551.44 494.76 L1553.45 494.82 L1555.46 494.88 L1557.47 494.94 L1559.47 495.01 L1561.48 495.09 L1563.49 495.17 L1565.5 495.27 L1567.51 495.38 L1569.52 495.52 L1571.53 495.69 L1573.54 495.86 L1575.55 496.05 L1577.55 496.25 L1579.56 496.47 L1581.57 496.71 L1583.58 496.96 L1585.59 497.23 L1587.6 497.51 L1589.61 497.81 L1591.62 498.12 L1593.63 498.44 L1595.63 498.79 L1597.64 499.16 L1599.65 499.56 L1601.66 499.99 L1603.67 500.44 L1604.83 500.72 L1606 501.01 L1607.16 501.32 L1608.33 501.64 L1609.49 501.98 L1610.65 502.33 L1611.82 502.7 L1612.98 503.09 L1614.15 503.51 L1615.31 503.94 L1616.48 504.39 L1617.64 504.88 L1618.8 505.48 L1619.97 506.17 L1621.13 506.88 L1622.3 507.54 L1623.46 508.08 L1624.62 508.52 L1625.79 508.91 L1626.95 509.3 L1628.12 509.74 L1629.28 510.26 L1630.45 510.88 L1631.61 511.57 L1632.77 512.29 L1633.94 513.1 L1635.1 513.96 L1636.27 514.81 L1637.43 515.54 L1638.59 516.08 L1639.76 516.44 L1640.92 516.75 L1642.09 517.11 L1643.25 517.58 L1644.42 518.12 L1645.58 518.71 L1646.74 519.33 L1647.91 520 L1649.07 520.7 L1650.24 521.44 L1651.4 522.22 L1652.56 523.06 L1653.73 523.94 L1654.89 524.84 L1656.06 525.75 L1657.22 526.67 L1658.39 527.62 L1659.55 528.59 L1660.71 529.58" fill="none" stroke="#1f4fa3" stroke-width="2.5" stroke-linecap="butt" stroke-linejoin="round" />
<path d="M1036.07 119.67 L1036.87 122.98 L1037.67 126.5 L1038.48 130.28 L1039.28 134.37 L1040.08 138.93 L1040.88 143.83 L1041.68 148.93 L1042.48 154.08 L1043.29 159.13 L1044.09 163.96 L1044.89 168.4 L1045.69 172.45 L1046.49 176.27 L1047.29 179.93 L1048.1 183.5 L1048.9 187.06 L1049.7 190.68 L1050.5 194.34 L1051.3 197.99 L1052.1 201.63 L1052.91 205.25 L1053.71 208.85 L1054.51 212.43 L1055.31 215.98 L1056.11 219.51 L1056.91 223.01 L1057.72 226.48 L1058.52 229.93 L1059.32 233.33 L1060.12 236.7 L1060.92 240.02 L1061.72 243.34 L1062.53 246.64 L1063.33 249.91 L1064.13 253.13 L1064.93 256.28 L1065.73 259.36 L1066.53 262.35 L1067.34 265.23 L1068.14 268.02 L1068.94 270.73 L1069.74 273.41 L1070.54 276.07 L1071.34 278.75 L1072.15 281.43 L1072.95 284.09 L1073.75 286.74 L1074.55 289.35 L1075.35 291.92 L1076.15 294.44 L1076.96 296.96 L1077.76 299.47 L1078.56 301.97 L1079.36 304.43 L1080.16 306.86 L1080.96 309.23 L1081.77 311.55 L1082.57 313.81 L1083.37 315.99 L1085.38 321.23 L1087.39 326.21 L1089.4 330.87 L1091.41 335.14 L1093.41 339.01 L1095.42 342.61 L1097.43 346.04 L1099.44 349.43 L1101.45 352.78 L1103.46 356.03 L1105.47 359.1 L1107.48 361.96 L1109.49 364.73 L1111.49 367.42 L1113.5 370.02 L1115.51 372.52 L1117.52 374.92 L1119.53 377.21 L1121.54 379.38 L1123.55 381.44 L1125.56 383.38 L1127.57 385.24 L1129.57 387.03 L1131.58 388.76 L1133.59 390.47 L1135.6 392.16 L1137.61 393.86 L1139.62 395.53 L1141.63 397.16 L1143.64 398.77 L1145.65 400.36 L1147.65 401.94 L1149.66 403.52 L1151.67 405.11 L1153.68 406.7 L1155.69 408.27 L1157.7 409.82 L1159.71 411.37 L1161.72 412.93 L1163.73 414.53 L1165.73 416.17 L1167.74 417.87 L1169.75 419.66 L1171.76 421.54 L1173.77 423.48 L1175.78 425.46 L1177.79 427.44 L1179.8 429.39 L1181.81 431.3 L1183.81 433.12 L1185.82 434.93 L1187.83 436.72 L1189.84 438.49 L1191.85 440.23 L1193.86 441.92 L1195.87 443.54 L1197.88 445.09 L1199.89 446.57 L1201.89 448.01 L1203.9 449.41 L1205.91 450.76 L1207.92 452.06 L1209.93 453.3 L1211.94 454.48 L1213.95 455.59 L1215.96 456.63 L1217.96 457.59 L1219.97 458.51 L1221.98 459.39 L1223.99 460.25 L1226 461.12 L1228.01 461.99 L1230.02 462.89 L1232.03 463.83 L1234.04 464.8 L1236.04 465.77 L1238.05 466.74 L1240.06 467.68 L1242.07 468.57 L1244.08 469.4 L1246.09 470.17 L1248.1 470.92 L1250.11 471.63 L1252.12 472.32 L1254.12 472.99 L1256.13 473.65 L1258.14 474.28 L1260.15 474.91 L1262.16 475.52 L1264.17 476.13 L1266.18 476.73 L1268.19 477.32 L1270.2 477.91 L1272.2 478.48 L1274.21 479.03 L1276.22 479.57 L1278.23 480.09 L1280.24 480.58 L1282.25 481.06 L1284.26 481.51 L1286.27 481.95 L1288.28 482.38 L1290.28 482.8 L1292.29 483.2 L1294.3 483.59 L1296.31 483.96 L1298.32 484.32 L1300.33 484.66 L1302.34 484.98 L1304.35 485.29 L1306.36 485.59 L1308.36 485.88 L1310.37 486.16 L1312.38 486.43 L1314.39 486.7 L1316.4 486.95 L1318.41 487.2 L1320.42 487.44 L1322.43 487.67 L1324.44 487.9 L1326.44 488.12 L1328.45 488.34 L1330.46 488.55 L1332.47 488.76 L1334.48 488.96 L1336.49 489.16 L1338.5 489.35 L1340.51 489.54 L1342.52 489.72 L1344.52 489.89 L1346.53 490.06 L1348.54 490.23 L1350.55 490.39 L1352.56 490.55 L1354.57 490.71 L1356.58 490.86 L1358.59 491.01 L1360.6 491.15 L1362.6 491.29 L1364.61 491.43 L1366.62 491.56 L1368.63 491.69 L1370.64 491.81 L1372.65 491.94 L1374.66 492.06 L1376.67 492.17 L1378.68 492.29 L1380.68 492.4 L1382.69 492.51 L1384.7 492.62 L1386.71 492.72 L1388.72 492.81 L1390.73 492.9 L1392.74 492.99 L1394.75 493.08 L1396.76 493.16 L1398.76 493.24 L1400.77 493.31 L1402.78 493.39 L1404.79 493.46 L1406.8 493.53 L1408.81 493.6 L1410.82 493.66 L1412.83 493.73 L1414.84 493.8 L1416.84 493.86 L1418.85 493.93 L1420.86 493.99 L1422.87 494.05 L1424.88 494.12 L1426.89 494.18 L1428.9 494.24 L1430.91 494.29 L1432.92 494.35 L1434.92 494.41 L1436.93 494.47 L1438.94 494.52 L1440.95 494.57 L1442.96 494.63 L1444.97 494.68 L1446.98 494.73 L1448.99 494.78 L1451 494.83 L1453 494.88 L1455.01 494.93 L1457.02 494.98 L1459.03 495.02 L1461.04 495.07 L1463.05 495.11 L1465.06 495.16 L1467.07 495.2 L1469.08 495.24 L1471.08 495.28 L1473.09 495.32 L1475.1 495.36 L1477.11 495.4 L1479.12 495.43 L1481.13 495.47 L1483.14 495.5 L1485.15 495.54 L1487.15 495.57 L1489.16 495.61 L1491.17 495.64 L1493.18 495.67 L1495.19 495.71 L1497.2 495.74 L1499.21 495.77 L1501.22 495.8 L1503.23 495.83 L1505.23 495.86 L1507.24 495.89 L1509.25 495.92 L1511.26 495.95 L1513.27 495.98 L1515.28 496.01 L1517.29 496.04 L1519.3 496.06 L1521.31 496.09 L1523.31 496.11 L1525.32 496.14 L1527.33 496.17 L1529.34 496.19 L1531.35 496.22 L1533.36 496.25 L1535.37 496.28 L1537.38 496.31 L1539.39 496.35 L1541.39 496.38 L1543.4 496.42 L1545.41 496.45 L1547.42 496.49 L1549.43 496.53 L1551.44 496.58 L1553.45 496.62 L1555.46 496.67 L1557.47 496.72 L1559.47 496.78 L1561.48 496.84 L1563.49 496.9 L1565.5 496.98 L1567.51 497.07 L1569.52 497.17 L1571.53 497.3 L1573.54 497.43 L1575.55 497.58 L1577.55 497.74 L1579.56 497.91 L1581.57 498.1 L1583.58 498.3 L1585.59 498.52 L1587.6 498.75 L1589.61 498.99 L1591.62 499.25 L1593.63 499.51 L1595.63 499.8 L1597.64 500.11 L1599.65 500.44 L1601.66 500.8 L1603.67 501.18 L1604.83 501.42 L1606 501.67 L1607.16 501.94 L1608.33 502.22 L1609.49 502.51 L1610.65 502.83 L1611.82 503.16 L1612.98 503.51 L1614.15 503.88 L1615.31 504.27 L1616.48 504.69 L1617.64 505.13 L1618.8 505.68 L1619.97 506.34 L1621.13 507.02 L1622.3 507.65 L1623.46 508.17 L1624.62 508.59 L1625.79 508.97 L1626.95 509.36 L1628.12 509.78 L1629.28 510.28 L1630.45 510.89 L1631.61 511.56 L1632.77 512.25 L1633.94 513.05 L1635.1 513.91 L1636.27 514.74 L1637.43 515.46 L1638.59 515.98 L1639.76 516.31 L1640.92 516.58 L1642.09 516.91 L1643.25 517.36 L1644.42 517.88 L1645.58 518.43 L1646.74 519.04 L1647.91 519.68 L1649.07 520.37 L1650.24 521.09 L1651.4 521.85 L1652.56 522.68 L1653.73 523.54 L1654.89 524.42 L1656.06 525.31 L1657.22 526.19 L1658.39 527.08 L1659.55 527.99 L1660.71 528.91" fill="none" stroke="#0a7d3b" stroke-width="2.5" stroke-linecap="butt" stroke-linejoin="round" />
<path d="M1036.07 98.33 L1036.87 100.17 L1037.67 102.61 L1038.48 105.54 L1039.28 108.88 L1040.08 112.67 L1040.88 117.57 L1041.68 123.36 L1042.48 129.69 L1043.29 136.21 L1044.09 142.57 L1044.89 148.41 L1045.69 153.78 L1046.49 159.09 L1047.29 164.28 L1048.1 169.29 L1048.9 174.07 L1049.7 178.54 L1050.5 182.75 L1051.3 186.76 L1052.1 190.61 L1052.91 194.33 L1053.71 197.97 L1054.51 201.55 L1055.31 205.13 L1056.11 208.72 L1056.91 212.25 L1057.72 215.72 L1058.52 219.14 L1059.32 222.54 L1060.12 225.94 L1060.92 229.37 L1061.72 232.85 L1062.53 236.35 L1063.33 239.86 L1064.13 243.34 L1064.93 246.79 L1065.73 250.16 L1066.53 253.44 L1067.34 256.6 L1068.14 259.61 L1068.94 262.48 L1069.74 265.21 L1070.54 267.86 L1071.34 270.44 L1072.15 272.99 L1072.95 275.46 L1073.75 277.86 L1074.55 280.26 L1075.35 282.68 L1076.15 285.17 L1076.96 287.74 L1077.76 290.36 L1078.56 293.02 L1079.36 295.68 L1080.16 298.32 L1080.96 300.93 L1081.77 303.47 L1082.57 305.94 L1083.37 308.3 L1085.38 313.95 L1087.39 319.33 L1089.4 324.39 L1091.41 329.08 L1093.41 333.43 L1095.42 337.5 L1097.43 341.33 L1099.44 344.92 L1101.45 348.3 L1103.46 351.5 L1105.47 354.53 L1107.48 357.43 L1109.49 360.25 L1111.49 363 L1113.5 365.67 L1115.51 368.26 L1117.52 370.76 L1119.53 373.18 L1121.54 375.5 L1123.55 377.74 L1125.56 379.89 L1127.57 381.96 L1129.57 383.98 L1131.58 385.94 L1133.59 387.85 L1135.6 389.73 L1137.61 391.58 L1139.62 393.38 L1141.63 395.13 L1143.64 396.83 L1145.65 398.51 L1147.65 400.17 L1149.66 401.84 L1151.67 403.52 L1153.68 405.22 L1155.69 406.9 L1157.7 408.56 L1159.71 410.23 L1161.72 411.91 L1163.73 413.61 L1165.73 415.33 L1167.74 417.1 L1169.75 418.93 L1171.76 420.8 L1173.77 422.7 L1175.78 424.63 L1177.79 426.57 L1179.8 428.52 L1181.81 430.45 L1183.81 432.37 L1185.82 434.33 L1187.83 436.33 L1189.84 438.34 L1191.85 440.32 L1193.86 442.26 L1195.87 444.1 L1197.88 445.84 L1199.89 447.45 L1201.89 449.02 L1203.9 450.54 L1205.91 452 L1207.92 453.39 L1209.93 454.72 L1211.94 455.97 L1213.95 457.14 L1215.96 458.23 L1217.96 459.25 L1219.97 460.21 L1221.98 461.13 L1223.99 462.03 L1226 462.92 L1228.01 463.82 L1230.02 464.74 L1232.03 465.7 L1234.04 466.69 L1236.04 467.67 L1238.05 468.65 L1240.06 469.59 L1242.07 470.49 L1244.08 471.33 L1246.09 472.11 L1248.1 472.86 L1250.11 473.58 L1252.12 474.28 L1254.12 474.96 L1256.13 475.62 L1258.14 476.26 L1260.15 476.89 L1262.16 477.51 L1264.17 478.13 L1266.18 478.74 L1268.19 479.34 L1270.2 479.93 L1272.2 480.51 L1274.21 481.08 L1276.22 481.62 L1278.23 482.15 L1280.24 482.64 L1282.25 483.11 L1284.26 483.56 L1286.27 484 L1288.28 484.42 L1290.28 484.83 L1292.29 485.22 L1294.3 485.59 L1296.31 485.95 L1298.32 486.29 L1300.33 486.62 L1302.34 486.93 L1304.35 487.23 L1306.36 487.52 L1308.36 487.79 L1310.37 488.06 L1312.38 488.31 L1314.39 488.56 L1316.4 488.8 L1318.41 489.04 L1320.42 489.27 L1322.43 489.49 L1324.44 489.71 L1326.44 489.92 L1328.45 490.13 L1330.46 490.34 L1332.47 490.53 L1334.48 490.73 L1336.49 490.92 L1338.5 491.1 L1340.51 491.28 L1342.52 491.46 L1344.52 491.63 L1346.53 491.79 L1348.54 491.96 L1350.55 492.12 L1352.56 492.27 L1354.57 492.42 L1356.58 492.57 L1358.59 492.72 L1360.6 492.86 L1362.6 493 L1364.61 493.13 L1366.62 493.26 L1368.63 493.39 L1370.64 493.51 L1372.65 493.64 L1374.66 493.76 L1376.67 493.88 L1378.68 493.99 L1380.68 494.11 L1382.69 494.21 L1384.7 494.32 L1386.71 494.42 L1388.72 494.52 L1390.73 494.61 L1392.74 494.7 L1394.75 494.78 L1396.76 494.86 L1398.76 494.94 L1400.77 495.01 L1402.78 495.09 L1404.79 495.16 L1406.8 495.23 L1408.81 495.3 L1410.82 495.37 L1412.83 495.43 L1414.84 495.5 L1416.84 495.57 L1418.85 495.64 L1420.86 495.7 L1422.87 495.77 L1424.88 495.83 L1426.89 495.89 L1428.9 495.96 L1430.91 496.02 L1432.92 496.08 L1434.92 496.14 L1436.93 496.2 L1438.94 496.26 L1440.95 496.31 L1442.96 496.37 L1444.97 496.43 L1446.98 496.48 L1448.99 496.54 L1451 496.59 L1453 496.65 L1455.01 496.7 L1457.02 496.75 L1459.03 496.81 L1461.04 496.86 L1463.05 496.91 L1465.06 496.96 L1467.07 497 L1469.08 497.05 L1471.08 497.09 L1473.09 497.14 L1475.1 497.18 L1477.11 497.22 L1479.12 497.26 L1481.13 497.3 L1483.14 497.34 L1485.15 497.38 L1487.15 497.42 L1489.16 497.46 L1491.17 497.5 L1493.18 497.53 L1495.19 497.57 L1497.2 497.6 L1499.21 497.64 L1501.22 497.67 L1503.23 497.71 L1505.23 497.74 L1507.24 497.77 L1509.25 497.8 L1511.26 497.83 L1513.27 497.86 L1515.28 497.89 L1517.29 497.92 L1519.3 497.94 L1521.31 497.97 L1523.31 497.99 L1525.32 498.02 L1527.33 498.04 L1529.34 498.07 L1531.35 498.1 L1533.36 498.12 L1535.37 498.15 L1537.38 498.18 L1539.39 498.21 L1541.39 498.24 L1543.4 498.27 L1545.41 498.3 L1547.42 498.33 L1549.43 498.36 L1551.44 498.39 L1553.45 498.43 L1555.46 498.47 L1557.47 498.5 L1559.47 498.54 L1561.48 498.59 L1563.49 498.64 L1565.5 498.69 L1567.51 498.75 L1569.52 498.83 L1571.53 498.91 L1573.54 499 L1575.55 499.11 L1577.55 499.22 L1579.56 499.35 L1581.57 499.49 L1583.58 499.65 L1585.59 499.81 L1587.6 499.99 L1589.61 500.18 L1591.62 500.38 L1593.63 500.58 L1595.63 500.81 L1597.64 501.05 L1599.65 501.32 L1601.66 501.61 L1603.67 501.92 L1604.83 502.12 L1606 502.33 L1607.16 502.56 L1608.33 502.79 L1609.49 503.05 L1610.65 503.32 L1611.82 503.61 L1612.98 503.92 L1614.15 504.25 L1615.31 504.6 L1616.48 504.98 L1617.64 505.37 L1618.8 505.89 L1619.97 506.51 L1621.13 507.16 L1622.3 507.76 L1623.46 508.25 L1624.62 508.67 L1625.79 509.04 L1626.95 509.41 L1628.12 509.82 L1629.28 510.31 L1630.45 510.89 L1631.61 511.54 L1632.77 512.21 L1633.94 513 L1635.1 513.86 L1636.27 514.69 L1637.43 515.39 L1638.59 515.88 L1639.76 516.17 L1640.92 516.42 L1642.09 516.72 L1643.25 517.14 L1644.42 517.63 L1645.58 518.16 L1646.74 518.74 L1647.91 519.37 L1649.07 520.04 L1650.24 520.73 L1651.4 521.48 L1652.56 522.3 L1653.73 523.15 L1654.89 524.01 L1656.06 524.87 L1657.22 525.7 L1658.39 526.54 L1659.55 527.39 L1660.71 528.23" fill="none" stroke="#a54ca3" stroke-width="2.5" stroke-linecap="butt" stroke-linejoin="round" />
</g>
<line x1="1035.27" y1="538.05" x2="1661.42" y2="538.05" stroke="#0d0d0d" stroke-width="1.6" />
<line x1="1036.07" y1="538.05" x2="1036.07" y2="547.65" stroke="#0d0d0d" stroke-width="1.6" />
<line x1="1064.55" y1="538.05" x2="1064.55" y2="543.45" stroke="#0d0d0d" stroke-width="1.6" />
<line x1="1081.21" y1="538.05" x2="1081.21" y2="543.45" stroke="#0d0d0d" stroke-width="1.6" />
<line x1="1093.02" y1="538.05" x2="1093.02" y2="543.45" stroke="#0d0d0d" stroke-width="1.6" />
<line x1="1102.19" y1="538.05" x2="1102.19" y2="543.45" stroke="#0d0d0d" stroke-width="1.6" />
<line x1="1109.68" y1="538.05" x2="1109.68" y2="543.45" stroke="#0d0d0d" stroke-width="1.6" />
<line x1="1116.02" y1="538.05" x2="1116.02" y2="543.45" stroke="#0d0d0d" stroke-width="1.6" />
<line x1="1121.5" y1="538.05" x2="1121.5" y2="543.45" stroke="#0d0d0d" stroke-width="1.6" />
<line x1="1126.34" y1="538.05" x2="1126.34" y2="543.45" stroke="#0d0d0d" stroke-width="1.6" />
<line x1="1130.67" y1="538.05" x2="1130.67" y2="547.65" stroke="#0d0d0d" stroke-width="1.6" />
<line x1="1159.15" y1="538.05" x2="1159.15" y2="543.45" stroke="#0d0d0d" stroke-width="1.6" />
<line x1="1175.81" y1="538.05" x2="1175.81" y2="543.45" stroke="#0d0d0d" stroke-width="1.6" />
<line x1="1187.62" y1="538.05" x2="1187.62" y2="543.45" stroke="#0d0d0d" stroke-width="1.6" />
<line x1="1196.79" y1="538.05" x2="1196.79" y2="543.45" stroke="#0d0d0d" stroke-width="1.6" />
<line x1="1204.28" y1="538.05" x2="1204.28" y2="543.45" stroke="#0d0d0d" stroke-width="1.6" />
<line x1="1210.62" y1="538.05" x2="1210.62" y2="543.45" stroke="#0d0d0d" stroke-width="1.6" />
<line x1="1216.1" y1="538.05" x2="1216.1" y2="543.45" stroke="#0d0d0d" stroke-width="1.6" />
<line x1="1220.94" y1="538.05" x2="1220.94" y2="543.45" stroke="#0d0d0d" stroke-width="1.6" />
<line x1="1225.27" y1="538.05" x2="1225.27" y2="547.65" stroke="#0d0d0d" stroke-width="1.6" />
<line x1="1253.75" y1="538.05" x2="1253.75" y2="543.45" stroke="#0d0d0d" stroke-width="1.6" />
<line x1="1270.41" y1="538.05" x2="1270.41" y2="543.45" stroke="#0d0d0d" stroke-width="1.6" />
<line x1="1282.22" y1="538.05" x2="1282.22" y2="543.45" stroke="#0d0d0d" stroke-width="1.6" />
<line x1="1291.39" y1="538.05" x2="1291.39" y2="543.45" stroke="#0d0d0d" stroke-width="1.6" />
<line x1="1298.88" y1="538.05" x2="1298.88" y2="543.45" stroke="#0d0d0d" stroke-width="1.6" />
<line x1="1305.22" y1="538.05" x2="1305.22" y2="543.45" stroke="#0d0d0d" stroke-width="1.6" />
<line x1="1310.7" y1="538.05" x2="1310.7" y2="543.45" stroke="#0d0d0d" stroke-width="1.6" />
<line x1="1315.54" y1="538.05" x2="1315.54" y2="543.45" stroke="#0d0d0d" stroke-width="1.6" />
<line x1="1319.87" y1="538.05" x2="1319.87" y2="547.65" stroke="#0d0d0d" stroke-width="1.6" />
<line x1="1348.35" y1="538.05" x2="1348.35" y2="543.45" stroke="#0d0d0d" stroke-width="1.6" />
<line x1="1365.01" y1="538.05" x2="1365.01" y2="543.45" stroke="#0d0d0d" stroke-width="1.6" />
<line x1="1376.82" y1="538.05" x2="1376.82" y2="543.45" stroke="#0d0d0d" stroke-width="1.6" />
<line x1="1385.99" y1="538.05" x2="1385.99" y2="543.45" stroke="#0d0d0d" stroke-width="1.6" />
<line x1="1393.48" y1="538.05" x2="1393.48" y2="543.45" stroke="#0d0d0d" stroke-width="1.6" />
<line x1="1399.82" y1="538.05" x2="1399.82" y2="543.45" stroke="#0d0d0d" stroke-width="1.6" />
<line x1="1405.3" y1="538.05" x2="1405.3" y2="543.45" stroke="#0d0d0d" stroke-width="1.6" />
<line x1="1410.14" y1="538.05" x2="1410.14" y2="543.45" stroke="#0d0d0d" stroke-width="1.6" />
<line x1="1414.47" y1="538.05" x2="1414.47" y2="547.65" stroke="#0d0d0d" stroke-width="1.6" />
<line x1="1442.95" y1="538.05" x2="1442.95" y2="543.45" stroke="#0d0d0d" stroke-width="1.6" />
<line x1="1459.61" y1="538.05" x2="1459.61" y2="543.45" stroke="#0d0d0d" stroke-width="1.6" />
<line x1="1471.42" y1="538.05" x2="1471.42" y2="543.45" stroke="#0d0d0d" stroke-width="1.6" />
<line x1="1480.59" y1="538.05" x2="1480.59" y2="543.45" stroke="#0d0d0d" stroke-width="1.6" />
<line x1="1488.08" y1="538.05" x2="1488.08" y2="543.45" stroke="#0d0d0d" stroke-width="1.6" />
<line x1="1494.42" y1="538.05" x2="1494.42" y2="543.45" stroke="#0d0d0d" stroke-width="1.6" />
<line x1="1499.9" y1="538.05" x2="1499.9" y2="543.45" stroke="#0d0d0d" stroke-width="1.6" />
<line x1="1504.74" y1="538.05" x2="1504.74" y2="543.45" stroke="#0d0d0d" stroke-width="1.6" />
<line x1="1509.07" y1="538.05" x2="1509.07" y2="547.65" stroke="#0d0d0d" stroke-width="1.6" />
<line x1="1537.55" y1="538.05" x2="1537.55" y2="543.45" stroke="#0d0d0d" stroke-width="1.6" />
<line x1="1554.21" y1="538.05" x2="1554.21" y2="543.45" stroke="#0d0d0d" stroke-width="1.6" />
<line x1="1566.02" y1="538.05" x2="1566.02" y2="543.45" stroke="#0d0d0d" stroke-width="1.6" />
<line x1="1575.19" y1="538.05" x2="1575.19" y2="543.45" stroke="#0d0d0d" stroke-width="1.6" />
<line x1="1582.68" y1="538.05" x2="1582.68" y2="543.45" stroke="#0d0d0d" stroke-width="1.6" />
<line x1="1589.02" y1="538.05" x2="1589.02" y2="543.45" stroke="#0d0d0d" stroke-width="1.6" />
<line x1="1594.5" y1="538.05" x2="1594.5" y2="543.45" stroke="#0d0d0d" stroke-width="1.6" />
<line x1="1599.34" y1="538.05" x2="1599.34" y2="543.45" stroke="#0d0d0d" stroke-width="1.6" />
<line x1="1603.67" y1="538.05" x2="1603.67" y2="547.65" stroke="#0d0d0d" stroke-width="1.6" />
<line x1="1632.15" y1="538.05" x2="1632.15" y2="543.45" stroke="#0d0d0d" stroke-width="1.6" />
<line x1="1648.81" y1="538.05" x2="1648.81" y2="543.45" stroke="#0d0d0d" stroke-width="1.6" />
<line x1="1660.62" y1="538.05" x2="1660.62" y2="543.45" stroke="#0d0d0d" stroke-width="1.6" />
<text class="b" transform="translate(1038.07 580.6) scale(0.9615 1)" font-size="30.33" text-anchor="middle" >10</text>
<text class="b" transform="translate(1132.17 580.6) scale(0.9615 1)" font-size="30.33" text-anchor="middle" >100</text>
<text class="b" transform="translate(1226.27 580.6) scale(0.9615 1)" font-size="30.33" text-anchor="middle" >1k</text>
<text class="b" transform="translate(1320.27 580.6) scale(0.9615 1)" font-size="30.33" text-anchor="middle" >10k</text>
<text class="b" transform="translate(1414.47 580.6) scale(0.9615 1)" font-size="30.33" text-anchor="middle" >100k</text>
<text class="b" transform="translate(1508.67 580.6) scale(0.9615 1)" font-size="30.33" text-anchor="middle" >1M</text>
<text class="b" transform="translate(1603.27 580.6) scale(0.9615 1)" font-size="30.33" text-anchor="middle" >10M</text>
<line x1="1036.07" y1="72.39" x2="1036.07" y2="538.85" stroke="#0d0d0d" stroke-width="1.6" />
<line x1="1026.27" y1="482.48" x2="1036.07" y2="482.48" stroke="#0d0d0d" stroke-width="1.6" />
<line x1="1026.27" y1="424.01" x2="1036.07" y2="424.01" stroke="#0d0d0d" stroke-width="1.6" />
<line x1="1026.27" y1="365.54" x2="1036.07" y2="365.54" stroke="#0d0d0d" stroke-width="1.6" />
<line x1="1026.27" y1="307.07" x2="1036.07" y2="307.07" stroke="#0d0d0d" stroke-width="1.6" />
<line x1="1026.27" y1="248.6" x2="1036.07" y2="248.6" stroke="#0d0d0d" stroke-width="1.6" />
<line x1="1026.27" y1="190.13" x2="1036.07" y2="190.13" stroke="#0d0d0d" stroke-width="1.6" />
<line x1="1026.27" y1="131.66" x2="1036.07" y2="131.66" stroke="#0d0d0d" stroke-width="1.6" />
<line x1="1026.27" y1="73.19" x2="1036.07" y2="73.19" stroke="#0d0d0d" stroke-width="1.6" />
<line x1="1030.77" y1="511.72" x2="1036.07" y2="511.72" stroke="#0d0d0d" stroke-width="1.6" />
<line x1="1030.77" y1="453.25" x2="1036.07" y2="453.25" stroke="#0d0d0d" stroke-width="1.6" />
<line x1="1030.77" y1="394.78" x2="1036.07" y2="394.78" stroke="#0d0d0d" stroke-width="1.6" />
<line x1="1030.77" y1="336.31" x2="1036.07" y2="336.31" stroke="#0d0d0d" stroke-width="1.6" />
<line x1="1030.77" y1="277.84" x2="1036.07" y2="277.84" stroke="#0d0d0d" stroke-width="1.6" />
<line x1="1030.77" y1="219.37" x2="1036.07" y2="219.37" stroke="#0d0d0d" stroke-width="1.6" />
<line x1="1030.77" y1="160.9" x2="1036.07" y2="160.9" stroke="#0d0d0d" stroke-width="1.6" />
<line x1="1030.77" y1="102.43" x2="1036.07" y2="102.43" stroke="#0d0d0d" stroke-width="1.6" />
<text class="b" transform="translate(1015.27 492.28) scale(0.9615 1)" font-size="30.33" text-anchor="end" >200</text>
<text class="b" transform="translate(1015.27 433.81) scale(0.9615 1)" font-size="30.33" text-anchor="end" >400</text>
<text class="b" transform="translate(1015.27 375.34) scale(0.9615 1)" font-size="30.33" text-anchor="end" >600</text>
<text class="b" transform="translate(1015.27 316.87) scale(0.9615 1)" font-size="30.33" text-anchor="end" >800</text>
<text class="b" transform="translate(1015.27 258.4) scale(0.9615 1)" font-size="30.33" text-anchor="end" >1000</text>
<text class="b" transform="translate(1015.27 199.93) scale(0.9615 1)" font-size="30.33" text-anchor="end" >1200</text>
<text class="b" transform="translate(1015.27 141.46) scale(0.9615 1)" font-size="30.33" text-anchor="end" >1400</text>
<text class="b" transform="translate(1015.27 82.99) scale(0.9615 1)" font-size="30.33" text-anchor="end" >1600</text>
<text class="b" transform="translate(1349.5 51.4) scale(0.9615 1)" font-size="30.33" text-anchor="middle" >Select temperature for fitting analysis</text>
<text class="b" transform="translate(1349.5 623.3) scale(0.9615 1)" font-size="30.33" text-anchor="middle" >Frequency (Hz)</text>
<text class="b" transform="translate(924.2 303.8) rotate(-90) scale(0.9615 1)" font-size="30.33" text-anchor="middle">Real impedance (<tspan class="om">Ω</tspan>)</text>
<text class="b" transform="translate(900.2 31.4) scale(1.02 1)" font-size="42.3">b</text>
<line x1="1347.4" y1="93.5" x2="1396.6" y2="93.5" stroke="#000000" stroke-width="2.7" stroke-linecap="round"/>
<text class="r" transform="translate(1409.6 100.9) scale(0.9615 1)" font-size="26" text-anchor="start" >22C</text>
<line x1="1347.4" y1="120.62" x2="1396.6" y2="120.62" stroke="#ed1c24" stroke-width="2.7" stroke-linecap="round"/>
<text class="r" transform="translate(1409.6 128.02) scale(0.9615 1)" font-size="26" text-anchor="start" >27C</text>
<line x1="1347.4" y1="147.74" x2="1396.6" y2="147.74" stroke="#1f4fa3" stroke-width="2.7" stroke-linecap="round"/>
<text class="r" transform="translate(1409.6 155.14) scale(0.9615 1)" font-size="26" text-anchor="start" >32C</text>
<line x1="1347.4" y1="174.86" x2="1396.6" y2="174.86" stroke="#0a7d3b" stroke-width="2.7" stroke-linecap="round"/>
<text class="r" transform="translate(1409.6 182.26) scale(0.9615 1)" font-size="26" text-anchor="start" >37C</text>
<line x1="1347.4" y1="201.98" x2="1396.6" y2="201.98" stroke="#a54ca3" stroke-width="2.7" stroke-linecap="round"/>
<text class="r" transform="translate(1409.6 209.38) scale(0.9615 1)" font-size="26" text-anchor="start" >42C</text>
<line x1="1482.7" y1="92.8" x2="1530.8" y2="92.8" stroke="#43389b" stroke-width="2.7" stroke-linecap="round" stroke-dasharray="11.2 7.5 1.4 7.5"/>
<text class="r" transform="translate(1544.8 100.5) scale(0.9615 1)" font-size="26" text-anchor="start" >22C Fitted</text>
<line x1="1482.7" y1="119.92" x2="1530.8" y2="119.92" stroke="#ee2a7b" stroke-width="2.7" stroke-linecap="round" stroke-dasharray="11.2 7.5 1.4 7.5"/>
<text class="r" transform="translate(1544.8 127.62) scale(0.9615 1)" font-size="26" text-anchor="start" >27C Fitted</text>
<line x1="1482.7" y1="147.04" x2="1530.8" y2="147.04" stroke="#5cc5c4" stroke-width="2.7" stroke-linecap="round" stroke-dasharray="11.2 7.5 1.4 7.5"/>
<text class="r" transform="translate(1544.8 154.74) scale(0.9615 1)" font-size="26" text-anchor="start" >32C Fitted</text>
<line x1="1482.7" y1="174.16" x2="1530.8" y2="174.16" stroke="#4cb859" stroke-width="2.7" stroke-linecap="round" stroke-dasharray="11.2 7.5 1.4 7.5"/>
<text class="r" transform="translate(1544.8 181.86) scale(0.9615 1)" font-size="26" text-anchor="start" >37C Fitted</text>
<line x1="1482.7" y1="201.28" x2="1530.8" y2="201.28" stroke="#c083bd" stroke-width="2.7" stroke-linecap="round" stroke-dasharray="11.2 7.5 1.4 7.5"/>
<text class="r" transform="translate(1544.8 208.98) scale(0.9615 1)" font-size="26" text-anchor="start" >42C Fitted</text>
<g id="circuit">
<circle cx="1222.05" cy="351.07" r="2.9" fill="#000"/>
<circle cx="1643.39" cy="351.07" r="2.9" fill="#000"/>
<path d="M1222.05 351.07 L1259.55 351.07 L1262.68 337.67 L1268.36 363.37 L1274.04 337.67 L1279.72 363.37 L1285.41 337.67 L1291.09 363.37 L1297.05 351.07 L1337.23 351.07" fill="none" stroke="#000" stroke-width="3.3" stroke-linecap="butt" stroke-linejoin="miter" />
<path d="M1381.43 315.45 L1337.23 315.45 L1337.23 385.89 L1372.05 385.89 L1375.18 373.59 L1380.86 399.29 L1386.54 373.59 L1392.22 399.29 L1397.91 373.59 L1403.59 399.29 L1409.55 385.89 L1443.57 385.89 L1443.57 315.45 L1394.82 315.45" fill="none" stroke="#000" stroke-width="3.3" stroke-linecap="butt" stroke-linejoin="miter" />
<path d="M1381.43 300.18 L1381.43 331.79" fill="none" stroke="#000" stroke-width="3.3" stroke-linecap="butt" stroke-linejoin="round" />
<path d="M1395.36 300.18 L1395.36 331.79" fill="none" stroke="#000" stroke-width="3.3" stroke-linecap="butt" stroke-linejoin="round" />
<path d="M1443.57 351.07 L1465.8 351.07" fill="none" stroke="#000" stroke-width="3.3" stroke-linecap="butt" stroke-linejoin="round" />
<path d="M1568.93 385.89 L1544.82 385.89 L1538.86 399.29 L1533.17 373.59 L1527.49 399.29 L1521.81 373.59 L1516.13 399.29 L1510.45 373.59 L1507.32 385.89 L1465.8 385.89 L1465.8 315.45 L1531.43 315.45" fill="none" stroke="#000" stroke-width="3.3" stroke-linecap="butt" stroke-linejoin="miter" />
<path d="M1544.82 315.45 L1604.29 315.45 L1604.29 383.21" fill="none" stroke="#000" stroke-width="3.3" stroke-linecap="butt" stroke-linejoin="miter" />
<path d="M1519.38 302.86 L1531.43 315.45 L1522.05 329.11" fill="none" stroke="#000" stroke-width="3.3" stroke-linecap="butt" stroke-linejoin="miter" />
<path d="M1532.77 302.86 L1544.82 315.45 L1535.45 329.11" fill="none" stroke="#000" stroke-width="3.3" stroke-linecap="butt" stroke-linejoin="miter" />
<path d="M1604.29 351.07 L1643.39 351.07" fill="none" stroke="#000" stroke-width="3.3" stroke-linecap="butt" stroke-linejoin="round" />
<text class="b" x="1262.23" y="326.96" font-size="23.5">R<tspan font-size="15.5" dy="4.8">1*</tspan></text>
<text class="b" x="1370.98" y="289.46" font-size="23.5">C<tspan font-size="15.5" dy="4.8">1*</tspan></text>
<text class="b" x="1499.82" y="290.8" font-size="23.5">CPE</text>
<text class="b" x="1375.54" y="422.05" font-size="23.5">R<tspan font-size="15.5" dy="4.8">2*</tspan></text>
<text class="b" x="1514.29" y="422.05" font-size="23.5">R<tspan font-size="15.5" dy="4.8">3</tspan></text>
<text class="b" x="1573.75" y="392.59" font-size="23.5">σ<tspan font-size="15.5" dy="3.5">o</tspan></text>
</g>
</g>
<g id="panelC">
<g clip-path="url(#cc)">
<path d="M132.25 907.7 L142.91 908 L153.57 908.32 L164.23 908.65 L174.89 908.99 L185.55 909.34 L196.2 909.71 L206.86 910.08 L217.52 910.47 L228.18 910.87 L238.84 911.28 L249.5 911.7 L260.16 912.13 L270.82 912.56 L281.48 913.01 L292.14 913.46 L302.8 913.92 L313.46 914.38 L324.11 914.86 L334.77 915.34 L345.43 915.84 L356.09 916.36 L366.75 916.89 L377.41 917.43 L388.07 917.99 L398.73 918.57 L409.39 919.17 L420.05 919.79 L430.71 920.42 L441.37 921.07 L452.02 921.74 L462.68 922.44 L473.34 923.16 L484 923.9 L494.66 924.68 L505.32 925.49 L515.98 926.34 L526.64 927.22 L537.3 928.15 L547.96 929.11 L558.62 930.14 L569.27 931.24 L579.93 932.43 L590.59 933.67 L601.25 934.97 L611.91 936.3 L622.57 937.67 L633.23 939.05 L643.89 940.46 L654.55 941.9 L665.21 943.4 L675.87 944.95 L686.53 946.56 L697.18 948.24 L707.84 949.97 L718.5 951.79 L729.16 953.67 L739.82 955.63 L750.48 957.65 L761.14 959.73" fill="none" stroke="#43389b" stroke-width="3.6" stroke-linecap="round" stroke-linejoin="round" stroke-dasharray="16.6 11.1 1.9 11.1" stroke-dashoffset="16.15"/>
<path d="M132.25 1000.39 L142.91 1000.62 L153.57 1000.87 L164.23 1001.14 L174.89 1001.43 L185.55 1001.73 L196.2 1002.05 L206.86 1002.38 L217.52 1002.72 L228.18 1003.08 L238.84 1003.45 L249.5 1003.83 L260.16 1004.22 L270.82 1004.63 L281.48 1005.04 L292.14 1005.46 L302.8 1005.88 L313.46 1006.32 L324.11 1006.76 L334.77 1007.23 L345.43 1007.72 L356.09 1008.24 L366.75 1008.78 L377.41 1009.34 L388.07 1009.92 L398.73 1010.51 L409.39 1011.12 L420.05 1011.74 L430.71 1012.37 L441.37 1013.01 L452.02 1013.65 L462.68 1014.3 L473.34 1014.96 L484 1015.63 L494.66 1016.33 L505.32 1017.05 L515.98 1017.8 L526.64 1018.58 L537.3 1019.41 L547.96 1020.28 L558.62 1021.22 L569.27 1022.26 L579.93 1023.39 L590.59 1024.58 L601.25 1025.81 L611.91 1027.05 L622.57 1028.28 L633.23 1029.48 L643.89 1030.62 L654.55 1031.71 L665.21 1032.8 L675.87 1033.91 L686.53 1035.09 L697.18 1036.37 L707.84 1037.78 L718.5 1039.29 L729.16 1040.91 L739.82 1042.63 L750.48 1044.45 L761.14 1046.34" fill="none" stroke="#ee2a7b" stroke-width="3.6" stroke-linecap="round" stroke-linejoin="round" stroke-dasharray="16.6 11.1 1.9 11.1" stroke-dashoffset="16.15"/>
<path d="M132.25 1063.73 L142.91 1064.1 L153.57 1064.47 L164.23 1064.85 L174.89 1065.23 L185.55 1065.61 L196.2 1066 L206.86 1066.39 L217.52 1066.78 L228.18 1067.18 L238.84 1067.57 L249.5 1067.98 L260.16 1068.38 L270.82 1068.79 L281.48 1069.2 L292.14 1069.61 L302.8 1070.02 L313.46 1070.44 L324.11 1070.86 L334.77 1071.27 L345.43 1071.69 L356.09 1072.11 L366.75 1072.53 L377.41 1072.96 L388.07 1073.39 L398.73 1073.83 L409.39 1074.28 L420.05 1074.74 L430.71 1075.21 L441.37 1075.69 L452.02 1076.19 L462.68 1076.7 L473.34 1077.22 L484 1077.76 L494.66 1078.31 L505.32 1078.88 L515.98 1079.47 L526.64 1080.08 L537.3 1080.7 L547.96 1081.35 L558.62 1082.02 L569.27 1082.73 L579.93 1083.47 L590.59 1084.23 L601.25 1085.02 L611.91 1085.83 L622.57 1086.65 L633.23 1087.48 L643.89 1088.32 L654.55 1089.18 L665.21 1090.05 L675.87 1090.95 L686.53 1091.88 L697.18 1092.85 L707.84 1093.84 L718.5 1094.87 L729.16 1095.94 L739.82 1097.04 L750.48 1098.16 L761.14 1099.32" fill="none" stroke="#5cc5c4" stroke-width="3.6" stroke-linecap="round" stroke-linejoin="round" stroke-dasharray="16.6 11.1 1.9 11.1" stroke-dashoffset="16.15"/>
<path d="M132.25 1117.79 L142.91 1118.3 L153.57 1118.81 L164.23 1119.32 L174.89 1119.83 L185.55 1120.35 L196.2 1120.87 L206.86 1121.39 L217.52 1121.91 L228.18 1122.44 L238.84 1122.97 L249.5 1123.5 L260.16 1124.04 L270.82 1124.58 L281.48 1125.12 L292.14 1125.66 L302.8 1126.2 L313.46 1126.75 L324.11 1127.3 L334.77 1127.85 L345.43 1128.41 L356.09 1128.97 L366.75 1129.54 L377.41 1130.11 L388.07 1130.68 L398.73 1131.26 L409.39 1131.83 L420.05 1132.41 L430.71 1132.98 L441.37 1133.56 L452.02 1134.13 L462.68 1134.69 L473.34 1135.24 L484 1135.79 L494.66 1136.33 L505.32 1136.89 L515.98 1137.45 L526.64 1138.04 L537.3 1138.64 L547.96 1139.28 L558.62 1139.95 L569.27 1140.68 L579.93 1141.44 L590.59 1142.22 L601.25 1143.03 L611.91 1143.83 L622.57 1144.64 L633.23 1145.42 L643.89 1146.18 L654.55 1146.91 L665.21 1147.62 L675.87 1148.36 L686.53 1149.15 L697.18 1150.02 L707.84 1150.98 L718.5 1152.05 L729.16 1153.2 L739.82 1154.43 L750.48 1155.74 L761.14 1157.11" fill="none" stroke="#4cb859" stroke-width="3.6" stroke-linecap="round" stroke-linejoin="round" stroke-dasharray="16.6 11.1 1.9 11.1" stroke-dashoffset="16.15"/>
<path d="M132.25 1147.15 L142.91 1147.55 L153.57 1147.95 L164.23 1148.36 L174.89 1148.76 L185.55 1149.16 L196.2 1149.56 L206.86 1149.95 L217.52 1150.35 L228.18 1150.75 L238.84 1151.14 L249.5 1151.54 L260.16 1151.93 L270.82 1152.32 L281.48 1152.71 L292.14 1153.1 L302.8 1153.49 L313.46 1153.88 L324.11 1154.26 L334.77 1154.63 L345.43 1155 L356.09 1155.35 L366.75 1155.71 L377.41 1156.06 L388.07 1156.41 L398.73 1156.78 L409.39 1157.15 L420.05 1157.54 L430.71 1157.95 L441.37 1158.37 L452.02 1158.83 L462.68 1159.31 L473.34 1159.83 L484 1160.38 L494.66 1160.95 L505.32 1161.54 L515.98 1162.14 L526.64 1162.76 L537.3 1163.38 L547.96 1164 L558.62 1164.63 L569.27 1165.27 L579.93 1165.92 L590.59 1166.59 L601.25 1167.27 L611.91 1167.96 L622.57 1168.67 L633.23 1169.38 L643.89 1170.1 L654.55 1170.84 L665.21 1171.58 L675.87 1172.35 L686.53 1173.15 L697.18 1173.98 L707.84 1174.85 L718.5 1175.75 L729.16 1176.7 L739.82 1177.67 L750.48 1178.68 L761.14 1179.72" fill="none" stroke="#c083bd" stroke-width="3.6" stroke-linecap="round" stroke-linejoin="round" stroke-dasharray="16.6 11.1 1.9 11.1" stroke-dashoffset="16.15"/>
<path d="M132.25 928.56 L143.02 928.66 L153.78 928.78 L164.55 928.94 L175.32 929.12 L186.08 929.32 L196.85 929.54 L207.62 929.79 L218.38 930.05 L229.15 930.34 L239.92 930.63 L250.68 930.95 L261.45 931.27 L272.22 931.61 L282.98 931.96 L293.75 932.31 L304.52 932.67 L315.28 933.04 L326.05 933.43 L336.82 933.86 L347.58 934.34 L358.35 934.87 L369.12 935.43 L379.88 936.02 L390.65 936.64 L401.42 937.27 L412.18 937.91 L422.95 938.56 L433.72 939.2 L444.48 939.83 L455.25 940.45 L466.02 941.06 L476.78 941.67 L487.55 942.29 L498.32 942.92 L509.08 943.57 L519.85 944.24 L530.62 944.95 L541.38 945.68 L552.15 946.46 L562.92 947.29 L573.68 948.17 L584.45 949.09 L595.22 950.06 L605.98 951.08 L616.75 952.12 L627.52 953.21 L638.28 954.32 L649.05 955.49 L659.82 956.71 L670.58 958 L681.35 959.34 L692.12 960.74 L702.88 962.21 L713.65 963.75 L724.42 965.38 L735.18 967.07 L745.95 968.84 L756.72 970.68 L767.48 972.58" fill="none" stroke="#000000" stroke-width="3.6" stroke-linecap="butt" stroke-linejoin="round" />
<path d="M132.25 1011.2 L143.02 1011.54 L153.78 1011.89 L164.55 1012.25 L175.32 1012.61 L186.08 1012.98 L196.85 1013.36 L207.62 1013.75 L218.38 1014.14 L229.15 1014.55 L239.92 1014.95 L250.68 1015.37 L261.45 1015.79 L272.22 1016.22 L282.98 1016.65 L293.75 1017.09 L304.52 1017.53 L315.28 1017.98 L326.05 1018.43 L336.82 1018.89 L347.58 1019.36 L358.35 1019.84 L369.12 1020.33 L379.88 1020.82 L390.65 1021.33 L401.42 1021.85 L412.18 1022.38 L422.95 1022.92 L433.72 1023.48 L444.48 1024.05 L455.25 1024.63 L466.02 1025.22 L476.78 1025.83 L487.55 1026.46 L498.32 1027.11 L509.08 1027.78 L519.85 1028.46 L530.62 1029.17 L541.38 1029.9 L552.15 1030.65 L562.92 1031.42 L573.68 1032.23 L584.45 1033.06 L595.22 1033.92 L605.98 1034.82 L616.75 1035.75 L627.52 1036.71 L638.28 1037.71 L649.05 1038.77 L659.82 1039.88 L670.58 1041.04 L681.35 1042.25 L692.12 1043.51 L702.88 1044.8 L713.65 1046.15 L724.42 1047.56 L735.18 1049.01 L745.95 1050.52 L756.72 1052.08 L767.48 1053.69" fill="none" stroke="#ed1c24" stroke-width="3.6" stroke-linecap="butt" stroke-linejoin="round" />
<path d="M132.25 1059.09 L143.02 1059.36 L153.78 1059.65 L164.55 1059.94 L175.32 1060.25 L186.08 1060.57 L196.85 1060.89 L207.62 1061.23 L218.38 1061.58 L229.15 1061.94 L239.92 1062.31 L250.68 1062.69 L261.45 1063.07 L272.22 1063.47 L282.98 1063.87 L293.75 1064.27 L304.52 1064.68 L315.28 1065.1 L326.05 1065.53 L336.82 1065.98 L347.58 1066.45 L358.35 1066.93 L369.12 1067.43 L379.88 1067.94 L390.65 1068.47 L401.42 1069 L412.18 1069.54 L422.95 1070.09 L433.72 1070.63 L444.48 1071.18 L455.25 1071.72 L466.02 1072.27 L476.78 1072.81 L487.55 1073.36 L498.32 1073.92 L509.08 1074.49 L519.85 1075.08 L530.62 1075.69 L541.38 1076.32 L552.15 1076.97 L562.92 1077.67 L573.68 1078.4 L584.45 1079.16 L595.22 1079.94 L605.98 1080.75 L616.75 1081.57 L627.52 1082.4 L638.28 1083.24 L649.05 1084.1 L659.82 1084.97 L670.58 1085.87 L681.35 1086.8 L692.12 1087.75 L702.88 1088.74 L713.65 1089.76 L724.42 1090.82 L735.18 1091.92 L745.95 1093.05 L756.72 1094.21 L767.48 1095.4" fill="none" stroke="#1f4fa3" stroke-width="3.6" stroke-linecap="butt" stroke-linejoin="round" />
<path d="M132.25 1110.84 L143.02 1111.04 L153.78 1111.26 L164.55 1111.5 L175.32 1111.75 L186.08 1112.01 L196.85 1112.29 L207.62 1112.59 L218.38 1112.89 L229.15 1113.21 L239.92 1113.54 L250.68 1113.88 L261.45 1114.23 L272.22 1114.59 L282.98 1114.95 L293.75 1115.33 L304.52 1115.71 L315.28 1116.09 L326.05 1116.49 L336.82 1116.94 L347.58 1117.41 L358.35 1117.92 L369.12 1118.45 L379.88 1119 L390.65 1119.55 L401.42 1120.11 L412.18 1120.65 L422.95 1121.19 L433.72 1121.71 L444.48 1122.2 L455.25 1122.65 L466.02 1123.07 L476.78 1123.47 L487.55 1123.85 L498.32 1124.22 L509.08 1124.61 L519.85 1125 L530.62 1125.42 L541.38 1125.88 L552.15 1126.38 L562.92 1126.96 L573.68 1127.59 L584.45 1128.28 L595.22 1129 L605.98 1129.74 L616.75 1130.47 L627.52 1131.18 L638.28 1131.86 L649.05 1132.5 L659.82 1133.12 L670.58 1133.74 L681.35 1134.38 L692.12 1135.05 L702.88 1135.78 L713.65 1136.55 L724.42 1137.36 L735.18 1138.21 L745.95 1139.1 L756.72 1140.02 L767.48 1140.97" fill="none" stroke="#0a7d3b" stroke-width="3.6" stroke-linecap="butt" stroke-linejoin="round" />
<path d="M132.25 1154.1 L143.02 1154.32 L153.78 1154.54 L164.55 1154.78 L175.32 1155.02 L186.08 1155.26 L196.85 1155.51 L207.62 1155.77 L218.38 1156.03 L229.15 1156.3 L239.92 1156.58 L250.68 1156.85 L261.45 1157.14 L272.22 1157.42 L282.98 1157.71 L293.75 1158.01 L304.52 1158.31 L315.28 1158.61 L326.05 1158.92 L336.82 1159.23 L347.58 1159.55 L358.35 1159.88 L369.12 1160.22 L379.88 1160.56 L390.65 1160.91 L401.42 1161.27 L412.18 1161.63 L422.95 1162.01 L433.72 1162.39 L444.48 1162.78 L455.25 1163.18 L466.02 1163.61 L476.78 1164.06 L487.55 1164.53 L498.32 1165 L509.08 1165.48 L519.85 1165.96 L530.62 1166.42 L541.38 1166.87 L552.15 1167.3 L562.92 1167.7 L573.68 1168.06 L584.45 1168.42 L595.22 1168.77 L605.98 1169.14 L616.75 1169.53 L627.52 1169.96 L638.28 1170.44 L649.05 1171.01 L659.82 1171.65 L670.58 1172.33 L681.35 1173.03 L692.12 1173.72 L702.88 1174.37 L713.65 1174.99 L724.42 1175.61 L735.18 1176.23 L745.95 1176.84 L756.72 1177.44 L767.48 1178.04" fill="none" stroke="#a54ca3" stroke-width="3.6" stroke-linecap="butt" stroke-linejoin="round" />
</g>
<line x1="122.45" y1="1212.8" x2="768.28" y2="1212.8" stroke="#0d0d0d" stroke-width="1.6" />
<line x1="132.25" y1="1212.8" x2="132.25" y2="1222.4" stroke="#0d0d0d" stroke-width="1.6" />
<text class="b" transform="translate(133.45 1255.6) scale(0.9615 1)" font-size="30.33" text-anchor="middle" >1M</text>
<line x1="157.02" y1="1212.8" x2="157.02" y2="1218.1" stroke="#0d0d0d" stroke-width="1.6" />
<line x1="180.53" y1="1212.8" x2="180.53" y2="1218.1" stroke="#0d0d0d" stroke-width="1.6" />
<line x1="202.89" y1="1212.8" x2="202.89" y2="1218.1" stroke="#0d0d0d" stroke-width="1.6" />
<line x1="224.2" y1="1212.8" x2="224.2" y2="1218.1" stroke="#0d0d0d" stroke-width="1.6" />
<line x1="244.57" y1="1212.8" x2="244.57" y2="1218.1" stroke="#0d0d0d" stroke-width="1.6" />
<line x1="264.07" y1="1212.8" x2="264.07" y2="1218.1" stroke="#0d0d0d" stroke-width="1.6" />
<line x1="282.78" y1="1212.8" x2="282.78" y2="1218.1" stroke="#0d0d0d" stroke-width="1.6" />
<line x1="300.75" y1="1212.8" x2="300.75" y2="1218.1" stroke="#0d0d0d" stroke-width="1.6" />
<line x1="318.04" y1="1212.8" x2="318.04" y2="1222.4" stroke="#0d0d0d" stroke-width="1.6" />
<text class="b" transform="translate(318.04 1255.6) scale(0.9615 1)" font-size="30.33" text-anchor="middle" >1.5M</text>
<line x1="334.71" y1="1212.8" x2="334.71" y2="1218.1" stroke="#0d0d0d" stroke-width="1.6" />
<line x1="350.79" y1="1212.8" x2="350.79" y2="1218.1" stroke="#0d0d0d" stroke-width="1.6" />
<line x1="366.32" y1="1212.8" x2="366.32" y2="1218.1" stroke="#0d0d0d" stroke-width="1.6" />
<line x1="381.35" y1="1212.8" x2="381.35" y2="1218.1" stroke="#0d0d0d" stroke-width="1.6" />
<line x1="395.9" y1="1212.8" x2="395.9" y2="1218.1" stroke="#0d0d0d" stroke-width="1.6" />
<line x1="410" y1="1212.8" x2="410" y2="1218.1" stroke="#0d0d0d" stroke-width="1.6" />
<line x1="423.68" y1="1212.8" x2="423.68" y2="1218.1" stroke="#0d0d0d" stroke-width="1.6" />
<line x1="436.96" y1="1212.8" x2="436.96" y2="1218.1" stroke="#0d0d0d" stroke-width="1.6" />
<line x1="449.87" y1="1212.8" x2="449.87" y2="1222.4" stroke="#0d0d0d" stroke-width="1.6" />
<text class="b" transform="translate(449.87 1255.6) scale(0.9615 1)" font-size="30.33" text-anchor="middle" >2M</text>
<line x1="462.42" y1="1212.8" x2="462.42" y2="1218.1" stroke="#0d0d0d" stroke-width="1.6" />
<line x1="474.64" y1="1212.8" x2="474.64" y2="1218.1" stroke="#0d0d0d" stroke-width="1.6" />
<line x1="486.54" y1="1212.8" x2="486.54" y2="1218.1" stroke="#0d0d0d" stroke-width="1.6" />
<line x1="498.15" y1="1212.8" x2="498.15" y2="1218.1" stroke="#0d0d0d" stroke-width="1.6" />
<line x1="509.46" y1="1212.8" x2="509.46" y2="1218.1" stroke="#0d0d0d" stroke-width="1.6" />
<line x1="520.5" y1="1212.8" x2="520.5" y2="1218.1" stroke="#0d0d0d" stroke-width="1.6" />
<line x1="531.28" y1="1212.8" x2="531.28" y2="1218.1" stroke="#0d0d0d" stroke-width="1.6" />
<line x1="541.82" y1="1212.8" x2="541.82" y2="1218.1" stroke="#0d0d0d" stroke-width="1.6" />
<line x1="552.12" y1="1212.8" x2="552.12" y2="1222.4" stroke="#0d0d0d" stroke-width="1.6" />
<text class="b" transform="translate(552.12 1255.6) scale(0.9615 1)" font-size="30.33" text-anchor="middle" >2.5M</text>
<line x1="562.19" y1="1212.8" x2="562.19" y2="1218.1" stroke="#0d0d0d" stroke-width="1.6" />
<line x1="572.04" y1="1212.8" x2="572.04" y2="1218.1" stroke="#0d0d0d" stroke-width="1.6" />
<line x1="581.69" y1="1212.8" x2="581.69" y2="1218.1" stroke="#0d0d0d" stroke-width="1.6" />
<line x1="591.14" y1="1212.8" x2="591.14" y2="1218.1" stroke="#0d0d0d" stroke-width="1.6" />
<line x1="600.4" y1="1212.8" x2="600.4" y2="1218.1" stroke="#0d0d0d" stroke-width="1.6" />
<line x1="609.47" y1="1212.8" x2="609.47" y2="1218.1" stroke="#0d0d0d" stroke-width="1.6" />
<line x1="618.37" y1="1212.8" x2="618.37" y2="1218.1" stroke="#0d0d0d" stroke-width="1.6" />
<line x1="627.1" y1="1212.8" x2="627.1" y2="1218.1" stroke="#0d0d0d" stroke-width="1.6" />
<line x1="635.66" y1="1212.8" x2="635.66" y2="1222.4" stroke="#0d0d0d" stroke-width="1.6" />
<text class="b" transform="translate(635.66 1255.6) scale(0.9615 1)" font-size="30.33" text-anchor="middle" >3M</text>
<line x1="644.07" y1="1212.8" x2="644.07" y2="1218.1" stroke="#0d0d0d" stroke-width="1.6" />
<line x1="652.33" y1="1212.8" x2="652.33" y2="1218.1" stroke="#0d0d0d" stroke-width="1.6" />
<line x1="660.44" y1="1212.8" x2="660.44" y2="1218.1" stroke="#0d0d0d" stroke-width="1.6" />
<line x1="668.4" y1="1212.8" x2="668.4" y2="1218.1" stroke="#0d0d0d" stroke-width="1.6" />
<line x1="676.24" y1="1212.8" x2="676.24" y2="1218.1" stroke="#0d0d0d" stroke-width="1.6" />
<line x1="683.94" y1="1212.8" x2="683.94" y2="1218.1" stroke="#0d0d0d" stroke-width="1.6" />
<line x1="691.51" y1="1212.8" x2="691.51" y2="1218.1" stroke="#0d0d0d" stroke-width="1.6" />
<line x1="698.96" y1="1212.8" x2="698.96" y2="1218.1" stroke="#0d0d0d" stroke-width="1.6" />
<line x1="706.3" y1="1212.8" x2="706.3" y2="1222.4" stroke="#0d0d0d" stroke-width="1.6" />
<text class="b" transform="translate(706.3 1255.6) scale(0.9615 1)" font-size="30.33" text-anchor="middle" >3.5M</text>
<line x1="713.51" y1="1212.8" x2="713.51" y2="1218.1" stroke="#0d0d0d" stroke-width="1.6" />
<line x1="720.62" y1="1212.8" x2="720.62" y2="1218.1" stroke="#0d0d0d" stroke-width="1.6" />
<line x1="727.61" y1="1212.8" x2="727.61" y2="1218.1" stroke="#0d0d0d" stroke-width="1.6" />
<line x1="734.5" y1="1212.8" x2="734.5" y2="1218.1" stroke="#0d0d0d" stroke-width="1.6" />
<line x1="741.29" y1="1212.8" x2="741.29" y2="1218.1" stroke="#0d0d0d" stroke-width="1.6" />
<line x1="747.98" y1="1212.8" x2="747.98" y2="1218.1" stroke="#0d0d0d" stroke-width="1.6" />
<line x1="754.57" y1="1212.8" x2="754.57" y2="1218.1" stroke="#0d0d0d" stroke-width="1.6" />
<line x1="761.07" y1="1212.8" x2="761.07" y2="1218.1" stroke="#0d0d0d" stroke-width="1.6" />
<line x1="767.48" y1="1212.8" x2="767.48" y2="1222.4" stroke="#0d0d0d" stroke-width="1.6" />
<text class="b" transform="translate(768.78 1255.6) scale(0.9615 1)" font-size="30.33" text-anchor="middle" >4M</text>
<line x1="132.25" y1="748.56" x2="132.25" y2="1213.6" stroke="#0d0d0d" stroke-width="1.6" />
<line x1="122.45" y1="1212.8" x2="132.25" y2="1212.8" stroke="#0d0d0d" stroke-width="1.6" />
<line x1="122.45" y1="1135.56" x2="132.25" y2="1135.56" stroke="#0d0d0d" stroke-width="1.6" />
<line x1="122.45" y1="1058.32" x2="132.25" y2="1058.32" stroke="#0d0d0d" stroke-width="1.6" />
<line x1="122.45" y1="981.08" x2="132.25" y2="981.08" stroke="#0d0d0d" stroke-width="1.6" />
<line x1="122.45" y1="903.84" x2="132.25" y2="903.84" stroke="#0d0d0d" stroke-width="1.6" />
<line x1="122.45" y1="826.6" x2="132.25" y2="826.6" stroke="#0d0d0d" stroke-width="1.6" />
<line x1="122.45" y1="749.36" x2="132.25" y2="749.36" stroke="#0d0d0d" stroke-width="1.6" />
<line x1="126.95" y1="1174.18" x2="132.25" y2="1174.18" stroke="#0d0d0d" stroke-width="1.6" />
<line x1="126.95" y1="1096.94" x2="132.25" y2="1096.94" stroke="#0d0d0d" stroke-width="1.6" />
<line x1="126.95" y1="1019.7" x2="132.25" y2="1019.7" stroke="#0d0d0d" stroke-width="1.6" />
<line x1="126.95" y1="942.46" x2="132.25" y2="942.46" stroke="#0d0d0d" stroke-width="1.6" />
<line x1="126.95" y1="865.22" x2="132.25" y2="865.22" stroke="#0d0d0d" stroke-width="1.6" />
<line x1="126.95" y1="787.98" x2="132.25" y2="787.98" stroke="#0d0d0d" stroke-width="1.6" />
<text class="b" transform="translate(111.45 1223.2) scale(0.9615 1)" font-size="30.33" text-anchor="end" >140</text>
<text class="b" transform="translate(111.45 1145.96) scale(0.9615 1)" font-size="30.33" text-anchor="end" >150</text>
<text class="b" transform="translate(111.45 1068.72) scale(0.9615 1)" font-size="30.33" text-anchor="end" >160</text>
<text class="b" transform="translate(111.45 991.48) scale(0.9615 1)" font-size="30.33" text-anchor="end" >170</text>
<text class="b" transform="translate(111.45 914.24) scale(0.9615 1)" font-size="30.33" text-anchor="end" >180</text>
<text class="b" transform="translate(111.45 837) scale(0.9615 1)" font-size="30.33" text-anchor="end" >190</text>
<text class="b" transform="translate(111.45 759.76) scale(0.9615 1)" font-size="30.33" text-anchor="end" >200</text>
<text class="b" transform="translate(451.5 728.3) scale(0.9615 1)" font-size="30.33" text-anchor="middle" >High frequency range impedance plot</text>
<text class="b" transform="translate(451.5 1298.2) scale(0.9615 1)" font-size="30.33" text-anchor="middle" >Frequency (Hz)</text>
<text class="b" transform="translate(37.3 979.6) rotate(-90) scale(0.9615 1)" font-size="30.33" text-anchor="middle">Real impedance (<tspan class="om">Ω</tspan>)</text>
<text class="b" transform="translate(-1.2 706.5) scale(1.02 1)" font-size="42.3">c</text>
<line x1="299.7" y1="766.3" x2="350.1" y2="766.3" stroke="#000000" stroke-width="3.6" stroke-linecap="round"/>
<text class="r" transform="translate(364.9 774.5) scale(0.9615 1)" font-size="26" text-anchor="start" >22C</text>
<line x1="299.7" y1="793.45" x2="350.1" y2="793.45" stroke="#ed1c24" stroke-width="3.6" stroke-linecap="round"/>
<text class="r" transform="translate(364.9 801.65) scale(0.9615 1)" font-size="26" text-anchor="start" >27C</text>
<line x1="299.7" y1="820.6" x2="350.1" y2="820.6" stroke="#1f4fa3" stroke-width="3.6" stroke-linecap="round"/>
<text class="r" transform="translate(364.9 828.8) scale(0.9615 1)" font-size="26" text-anchor="start" >32C</text>
<line x1="299.7" y1="847.75" x2="350.1" y2="847.75" stroke="#0a7d3b" stroke-width="3.6" stroke-linecap="round"/>
<text class="r" transform="translate(364.9 855.95) scale(0.9615 1)" font-size="26" text-anchor="start" >37C</text>
<line x1="299.7" y1="874.9" x2="350.1" y2="874.9" stroke="#a54ca3" stroke-width="3.6" stroke-linecap="round"/>
<text class="r" transform="translate(364.9 883.1) scale(0.9615 1)" font-size="26" text-anchor="start" >42C</text>
<line x1="437.4" y1="765.5" x2="467.5" y2="765.5" stroke="#43389b" stroke-width="3.6" stroke-linecap="round" stroke-dasharray="16.6 11.1 1.9 11.1"/>
<text class="r" transform="translate(480.4 774.5) scale(0.9615 1)" font-size="26" text-anchor="start" >22C Fitted</text>
<line x1="437.4" y1="792.65" x2="467.5" y2="792.65" stroke="#ee2a7b" stroke-width="3.6" stroke-linecap="round" stroke-dasharray="16.6 11.1 1.9 11.1"/>
<text class="r" transform="translate(480.4 801.65) scale(0.9615 1)" font-size="26" text-anchor="start" >27C Fitted</text>
<line x1="437.4" y1="819.8" x2="467.5" y2="819.8" stroke="#5cc5c4" stroke-width="3.6" stroke-linecap="round" stroke-dasharray="16.6 11.1 1.9 11.1"/>
<text class="r" transform="translate(480.4 828.8) scale(0.9615 1)" font-size="26" text-anchor="start" >32C Fitted</text>
<line x1="437.4" y1="846.95" x2="467.5" y2="846.95" stroke="#4cb859" stroke-width="3.6" stroke-linecap="round" stroke-dasharray="16.6 11.1 1.9 11.1"/>
<text class="r" transform="translate(480.4 855.95) scale(0.9615 1)" font-size="26" text-anchor="start" >37C Fitted</text>
<line x1="437.4" y1="874.1" x2="467.5" y2="874.1" stroke="#c083bd" stroke-width="3.6" stroke-linecap="round" stroke-dasharray="16.6 11.1 1.9 11.1"/>
<text class="r" transform="translate(480.4 883.1) scale(0.9615 1)" font-size="26" text-anchor="start" >42C Fitted</text>
</g>
<g id="panelD">
<rect x="1432.0" y="1068.2" width="239.8" height="136.15" fill="none" stroke="#d2d4d6" stroke-width="13" filter="url(#glow)"/>
<rect x="1432.0" y="1068.2" width="239.8" height="136.15" fill="none" stroke="#000" stroke-width="3.5"/>
<g clip-path="url(#cd)">
<path d="M1087.14 885.71 L1088.8 884.27 L1090.47 882.85 L1092.17 881.48 L1093.9 880.13 L1095.65 878.83 L1097.42 877.56 L1099.21 876.33 L1101.04 875.15 L1102.9 874.01 L1104.79 872.9 L1106.69 871.81 L1108.59 870.72 L1110.48 869.63 L1112.38 868.55 L1114.3 867.5 L1116.23 866.46 L1118.14 865.39 L1120.02 864.3 L1121.87 863.15 L1123.68 861.93 L1125.45 860.66 L1127.21 859.37 L1128.97 858.06 L1130.73 856.75 L1132.51 855.48 L1134.3 854.23 L1136.09 852.98 L1137.89 851.73 L1139.7 850.5 L1141.53 849.3 L1143.38 848.15 L1145.26 847.06 L1147.17 846.01 L1149.1 844.98 L1151.05 843.99 L1153.01 843.02 L1154.99 842.07 L1156.97 841.15 L1158.96 840.25 L1160.96 839.37 L1162.96 838.51 L1164.98 837.67 L1167.01 836.85 L1169.04 836.05 L1171.09 835.27 L1173.13 834.5 L1175.18 833.75 L1177.24 833.03 L1179.31 832.34 L1181.39 831.67 L1183.48 831 L1185.56 830.35 L1187.65 829.69 L1189.73 829.01 L1191.8 828.32 L1193.86 827.6 L1195.9 826.84 L1197.94 826.02 L1199.96 825.18 L1201.98 824.33 L1204 823.49 L1206.03 822.68 L1208.07 821.91 L1210.13 821.21 L1212.21 820.57 L1214.3 819.94 L1216.41 819.33 L1218.53 818.76 L1220.66 818.22 L1222.79 817.75 L1224.93 817.34 L1227.08 817.02 L1229.23 816.73 L1231.4 816.47 L1233.57 816.23 L1235.75 816.02 L1237.93 815.82 L1240.11 815.63 L1242.3 815.46 L1244.48 815.29 L1246.66 815.13 L1248.83 814.97 L1251.01 814.8 L1253.19 814.64 L1255.37 814.49 L1257.56 814.35 L1259.74 814.22 L1261.92 814.11 L1264.1 814.02 L1266.28 813.94 L1268.47 813.9 L1270.65 813.86 L1272.83 813.83 L1275.02 813.8 L1277.21 813.77 L1279.39 813.75 L1281.58 813.73 L1283.76 813.72 L1285.94 813.72 L1288.13 813.72 L1290.31 813.76 L1292.49 813.85 L1294.67 813.96 L1296.86 814.11 L1299.04 814.27 L1301.22 814.45 L1303.4 814.63 L1305.57 814.81 L1307.75 815 L1309.92 815.23 L1312.09 815.5 L1314.25 815.79 L1316.42 816.09 L1318.58 816.39 L1320.75 816.67 L1322.92 816.92 L1325.09 817.13 L1327.28 817.28 L1329.46 817.42 L1331.62 817.63 L1333.78 817.89 L1335.94 818.18 L1338.1 818.52 L1340.26 818.9 L1342.41 819.31 L1344.56 819.75 L1346.7 820.21 L1348.85 820.71 L1350.98 821.22 L1353.11 821.76 L1355.24 822.31 L1357.36 822.87 L1359.47 823.45 L1361.58 824.03 L1363.68 824.62 L1365.77 825.21 L1367.85 825.81 L1369.93 826.44 L1372 827.12 L1374.06 827.83 L1376.12 828.57 L1378.17 829.34 L1380.21 830.14 L1382.25 830.96 L1384.28 831.79 L1386.3 832.64 L1388.32 833.5 L1390.33 834.37 L1392.33 835.24 L1394.33 836.12 L1396.32 837 L1398.31 837.91 L1400.28 838.84 L1402.25 839.79 L1404.21 840.76 L1406.17 841.75 L1408.11 842.75 L1410.05 843.76 L1411.98 844.79 L1413.91 845.82 L1415.83 846.86 L1417.74 847.91 L1419.65 848.98 L1421.55 850.05 L1423.45 851.15 L1425.33 852.25 L1427.22 853.37 L1429.09 854.5 L1430.95 855.65 L1432.8 856.81 L1434.64 857.99 L1436.46 859.19 L1438.27 860.4 L1440.06 861.64 L1441.83 862.91 L1443.59 864.2 L1445.34 865.51 L1447.08 866.83 L1448.81 868.17 L1450.54 869.51 L1452.27 870.85 L1454 872.2 L1455.73 873.53 L1457.46 874.86 L1459.21 876.18 L1460.96 877.48 L1462.72 878.78 L1464.48 880.08 L1466.24 881.37 L1468 882.67 L1469.76 883.96 L1471.52 885.27 L1473.27 886.57 L1475.01 887.89 L1476.75 889.21 L1478.47 890.55 L1480.18 891.91 L1481.89 893.27 L1483.6 894.63 L1485.3 896 L1487 897.38 L1488.7 898.77 L1490.39 900.16 L1492.07 901.57 L1493.74 902.99 L1495.39 904.42 L1497.03 905.86 L1498.64 907.33 L1500.24 908.81 L1501.81 910.31 L1503.37 911.82 L1504.91 913.36 L1506.45 914.92 L1507.97 916.49 L1509.47 918.07 L1510.97 919.68 L1512.45 921.29 L1513.92 922.92 L1515.37 924.56 L1516.81 926.21 L1518.24 927.87 L1519.65 929.54 L1521.05 931.22 L1522.43 932.91 L1523.79 934.6 L1525.15 936.3 L1526.49 938.02 L1527.83 939.75 L1529.15 941.49 L1530.46 943.24 L1531.76 945 L1533.05 946.78 L1534.32 948.56 L1535.59 950.35 L1536.84 952.14 L1538.08 953.95 L1539.31 955.76 L1540.53 957.58 L1541.73 959.4 L1542.93 961.23 L1544.11 963.06 L1545.27 964.9 L1546.42 966.75 L1547.56 968.61 L1548.68 970.48 L1549.78 972.36 L1550.88 974.25 L1551.96 976.15 L1553.04 978.06 L1554.1 979.97 L1555.16 981.88 L1556.22 983.79 L1557.28 985.71 L1558.33 987.63 L1559.38 989.55 L1560.43 991.46 L1561.49 993.38 L1562.55 995.29 L1563.62 997.19 L1564.69 999.1 L1565.77 1001.01 L1566.84 1002.91 L1567.91 1004.82 L1568.98 1006.73 L1570.03 1008.65 L1571.08 1010.57 L1572.11 1012.49 L1573.13 1014.43 L1574.13 1016.37 L1575.11 1018.31 L1576.07 1020.27 L1577 1022.24 L1577.9 1024.22 L1578.76 1026.23 L1579.59 1028.25 L1580.4 1030.29 L1581.19 1032.33 L1581.98 1034.37 L1582.77 1036.41 L1583.57 1038.45 L1584.39 1040.48 L1585.23 1042.5 L1586.1 1044.5 L1587.01 1046.48 L1587.98 1048.43 L1589.06 1050.33 L1590.18 1052.22 L1591.23 1054.13 L1592.17 1056.09 L1593.06 1058.07 L1593.92 1060.08 L1594.75 1062.1 L1595.56 1064.13 L1596.34 1066.18 L1597.1 1068.24 L1597.84 1070.3 L1598.56 1072.37 L1599.26 1074.44 L1599.95 1076.51 L1600.62 1078.58 L1601.28 1080.66 L1601.93 1082.75 L1602.56 1084.84 L1603.18 1086.94 L1603.78 1089.05 L1604.37 1091.15 L1604.94 1093.26 L1605.5 1095.38 L1606.04 1097.49 L1606.57 1099.61 L1607.08 1101.73 L1607.58 1103.86 L1608.05 1105.99 L1608.51 1108.12 L1608.96 1110.26 L1609.41 1112.4 L1609.85 1114.54 L1610.28 1116.69 L1610.72 1118.83 L1611.17 1120.97 L1611.62 1123.11 L1612.08 1125.24 L1612.55 1127.37 L1613.02 1129.51 L1613.5 1131.64 L1613.97 1133.77 L1614.45 1135.91 L1614.91 1138.04 L1615.37 1140.18 L1615.81 1142.32 L1616.24 1144.46 L1616.65 1146.6 L1617.05 1148.75 L1617.42 1150.9 L1617.79 1153.05 L1618.14 1155.21 L1618.49 1157.37 L1618.84 1159.52 L1619.18 1161.68 L1619.53 1163.84 L1619.89 1166 L1620.25 1168.15 L1620.61 1170.3 L1620.97 1172.46 L1621.34 1174.61 L1621.71 1176.76 L1622.1 1178.92 L1622.46 1181.12 L1622.86 1183.28 L1623.46 1185.33 L1624.73 1187.39 L1625.9 1186.65 L1627.02 1184.3 L1628.1 1182.27 L1629.16 1180.36 L1630.19 1178.44 L1631.22 1176.51 L1632.23 1174.57 L1633.26 1172.64 L1634.28 1170.72 L1635.31 1168.79 L1636.34 1166.86 L1637.36 1164.93 L1638.38 1162.99 L1639.39 1161.06 L1640.4 1159.12 L1641.4 1157.18 L1642.4 1155.24 L1643.38 1153.29 L1644.36 1151.34 L1645.34 1149.38 L1646.31 1147.42 L1647.28 1145.47 L1648.25 1143.51 L1649.23 1141.55 L1650.2 1139.6 L1651.17 1137.64 L1652.15 1135.69 L1653.12 1133.73 L1654.08 1131.77 L1655.05 1129.81 L1656.03 1127.86 L1657 1125.9 L1657.99 1123.95 L1658.97 1122 L1659.97 1120.06 L1660.97 1118.12 L1661.98 1116.18 L1662.99 1114.24 L1664.01 1112.31 L1665.02 1110.38 L1666.05 1108.45 L1667.08 1106.52 L1668.11 1104.59 L1669.14 1102.67 L1670.18 1100.75 L1671.23 1098.83 L1672.28 1096.91 L1673.33 1095" fill="none" stroke="#43389b" stroke-width="3.6" stroke-linecap="round" stroke-linejoin="round" stroke-dasharray="16.6 11.1 1.9 11.1" />
<path d="M1102.38 895.24 L1104.17 894.02 L1105.97 892.82 L1107.78 891.64 L1109.59 890.47 L1111.42 889.31 L1113.25 888.17 L1115.09 887.04 L1116.94 885.93 L1118.8 884.84 L1120.67 883.76 L1122.55 882.69 L1124.43 881.63 L1126.33 880.58 L1128.22 879.55 L1130.13 878.53 L1132.04 877.53 L1133.96 876.54 L1135.89 875.57 L1137.82 874.61 L1139.76 873.66 L1141.7 872.71 L1143.64 871.75 L1145.57 870.78 L1147.49 869.79 L1149.41 868.79 L1151.34 867.8 L1153.27 866.85 L1155.22 865.93 L1157.2 865.07 L1159.18 864.22 L1161.18 863.39 L1163.19 862.59 L1165.2 861.8 L1167.23 861.04 L1169.26 860.3 L1171.3 859.58 L1173.34 858.89 L1175.38 858.21 L1177.44 857.53 L1179.5 856.87 L1181.56 856.22 L1183.63 855.59 L1185.71 854.98 L1187.79 854.39 L1189.88 853.82 L1191.97 853.28 L1194.06 852.76 L1196.16 852.28 L1198.27 851.83 L1200.38 851.4 L1202.51 851 L1204.63 850.61 L1206.76 850.23 L1208.89 849.87 L1211.03 849.51 L1213.16 849.15 L1215.29 848.79 L1217.42 848.43 L1219.55 848.07 L1221.69 847.73 L1223.83 847.42 L1225.97 847.12 L1228.11 846.86 L1230.25 846.64 L1232.4 846.44 L1234.55 846.24 L1236.7 846.05 L1238.86 845.87 L1241.01 845.7 L1243.17 845.57 L1245.33 845.45 L1247.49 845.37 L1249.65 845.32 L1251.8 845.29 L1253.97 845.25 L1256.13 845.23 L1258.29 845.2 L1260.45 845.18 L1262.61 845.16 L1264.77 845.15 L1266.93 845.14 L1269.08 845.15 L1271.24 845.23 L1273.39 845.37 L1275.54 845.57 L1277.69 845.81 L1279.84 846.08 L1281.99 846.37 L1284.13 846.66 L1286.28 846.94 L1288.42 847.21 L1290.56 847.5 L1292.7 847.8 L1294.83 848.13 L1296.97 848.47 L1299.1 848.83 L1301.23 849.2 L1303.36 849.58 L1305.48 849.96 L1307.6 850.38 L1309.71 850.89 L1311.81 851.46 L1313.91 852.06 L1316.01 852.65 L1318.11 853.2 L1320.22 853.67 L1322.33 854.03 L1324.46 854.25 L1326.61 854.32 L1328.78 854.35 L1330.91 854.43 L1333 854.7 L1335.07 855.16 L1337.13 855.77 L1339.17 856.51 L1341.2 857.35 L1343.22 858.24 L1345.24 859.17 L1347.25 860.1 L1349.26 860.99 L1351.27 861.81 L1353.28 862.59 L1355.3 863.37 L1357.31 864.17 L1359.32 864.96 L1361.34 865.77 L1363.35 866.59 L1365.35 867.42 L1367.35 868.26 L1369.34 869.11 L1371.33 869.97 L1373.3 870.86 L1375.27 871.75 L1377.22 872.66 L1379.17 873.59 L1381.09 874.54 L1383.01 875.51 L1384.91 876.5 L1386.8 877.51 L1388.68 878.55 L1390.56 879.62 L1392.42 880.71 L1394.28 881.82 L1396.12 882.95 L1397.96 884.09 L1399.79 885.26 L1401.61 886.44 L1403.43 887.63 L1405.23 888.84 L1407.03 890.06 L1408.82 891.28 L1410.59 892.52 L1412.36 893.76 L1414.13 895 L1415.88 896.25 L1417.62 897.51 L1419.36 898.8 L1421.08 900.09 L1422.8 901.41 L1424.5 902.74 L1426.2 904.09 L1427.88 905.45 L1429.56 906.82 L1431.22 908.2 L1432.88 909.6 L1434.52 911 L1436.16 912.4 L1437.79 913.82 L1439.41 915.24 L1441.02 916.67 L1442.64 918.11 L1444.24 919.57 L1445.84 921.03 L1447.42 922.51 L1449 923.99 L1450.56 925.49 L1452.11 927 L1453.65 928.52 L1455.17 930.05 L1456.68 931.59 L1458.16 933.15 L1459.63 934.72 L1461.08 936.31 L1462.51 937.92 L1463.92 939.55 L1465.31 941.2 L1466.7 942.86 L1468.07 944.52 L1469.44 946.2 L1470.8 947.89 L1472.15 949.57 L1473.5 951.26 L1474.86 952.95 L1476.22 954.64 L1477.58 956.32 L1478.95 958 L1480.32 959.66 L1481.72 961.31 L1483.12 962.96 L1484.54 964.6 L1485.97 966.23 L1487.4 967.86 L1488.83 969.49 L1490.25 971.12 L1491.67 972.76 L1493.08 974.41 L1494.48 976.06 L1495.85 977.72 L1497.21 979.39 L1498.54 981.08 L1499.85 982.79 L1501.12 984.51 L1502.37 986.26 L1503.6 988.02 L1504.81 989.8 L1506.01 991.59 L1507.2 993.39 L1508.37 995.2 L1509.53 997.03 L1510.68 998.86 L1511.82 1000.71 L1512.94 1002.56 L1514.05 1004.43 L1515.15 1006.3 L1516.24 1008.17 L1517.31 1010.06 L1518.38 1011.95 L1519.43 1013.84 L1520.47 1015.73 L1521.5 1017.63 L1522.52 1019.53 L1523.53 1021.46 L1524.53 1023.64 L1525.53 1026.05 L1526.52 1028.59 L1527.49 1031.19 L1528.45 1033.75 L1529.4 1036.17 L1530.32 1038.38 L1531.21 1040.28 L1532.09 1041.77 L1532.93 1042.78 L1533.74 1043.21 L1534.47 1041.46 L1535.19 1040.03 L1535.97 1040.7 L1536.77 1042.12 L1537.58 1044.11 L1538.4 1046.49 L1539.23 1049.11 L1540.04 1051.77 L1540.85 1054.31 L1541.63 1056.56 L1542.39 1058.58 L1543.14 1060.61 L1543.88 1062.63 L1544.62 1064.66 L1545.35 1066.7 L1546.07 1068.73 L1546.79 1070.77 L1547.51 1072.81 L1548.22 1074.85 L1548.93 1076.89 L1549.63 1078.93 L1550.34 1080.97 L1551.04 1083.02 L1551.74 1085.06 L1552.44 1087.1 L1553.14 1089.15 L1553.83 1091.2 L1554.51 1093.25 L1555.18 1095.3 L1555.84 1097.36 L1556.49 1099.42 L1557.12 1101.48 L1557.74 1103.55 L1558.35 1105.62 L1558.95 1107.69 L1559.55 1109.77 L1560.14 1111.85 L1560.72 1113.93 L1561.3 1116.01 L1561.88 1118.09 L1562.46 1120.17 L1563.03 1122.26 L1563.61 1124.34 L1564.19 1126.42 L1564.76 1128.5 L1565.33 1130.58 L1565.89 1132.67 L1566.46 1134.75 L1567.02 1136.84 L1567.59 1138.92 L1568.15 1141.01 L1568.72 1143.09 L1569.29 1145.17 L1569.87 1147.26 L1570.44 1149.34 L1571.01 1151.42 L1571.59 1153.51 L1572.15 1155.59 L1572.71 1157.68 L1573.27 1159.76 L1573.81 1161.86 L1574.32 1163.96 L1574.82 1166.06 L1575.35 1168.16 L1575.91 1170.24 L1576.53 1172.32 L1577.15 1174.56 L1577.84 1176.76 L1578.73 1178.6 L1580.13 1179.95 L1582.25 1180.82 L1584.15 1180.31 L1585.99 1178.9 L1587.64 1177.38 L1589.12 1175.92 L1590.51 1174.34 L1591.85 1172.67 L1593.12 1170.91 L1594.35 1169.09 L1595.54 1167.23 L1596.7 1165.34 L1597.85 1163.46 L1599 1161.59 L1600.15 1159.76 L1601.3 1157.93 L1602.42 1156.09 L1603.52 1154.24 L1604.6 1152.37 L1605.67 1150.49 L1606.73 1148.61 L1607.78 1146.72 L1608.83 1144.82 L1609.87 1142.92 L1610.91 1141.03 L1611.96 1139.13 L1613.01 1137.25 L1614.07 1135.36 L1615.12 1133.48 L1616.17 1131.59 L1617.22 1129.7 L1618.26 1127.81 L1619.31 1125.92 L1620.35 1124.03 L1621.4 1122.14 L1622.45 1120.26 L1623.5 1118.37 L1624.56 1116.48 L1625.61 1114.6 L1626.66 1112.71 L1627.71 1110.82 L1628.76 1108.93 L1629.8 1107.04 L1630.83 1105.14 L1631.86 1103.25 L1632.89 1101.35 L1633.92 1099.45 L1634.94 1097.54 L1635.96 1095.64 L1636.98 1093.74 L1638 1091.83 L1639.02 1089.93 L1640.04 1088.02 L1641.06 1086.12 L1642.09 1084.22 L1643.13 1082.33 L1644.19 1080.44 L1645.26 1078.55 L1646.33 1076.67 L1647.39 1074.78 L1648.45 1072.9 L1649.49 1071 L1650.51 1069.09 L1651.49 1067.18 L1652.44 1065.25 L1653.35 1063.3 L1654.21 1061.32 L1655.01 1059.33 L1655.79 1057.31 L1656.54 1055.28 L1657.28 1053.24 L1658.03 1051.21 L1658.79 1049.19 L1659.59 1047.18 L1660.42 1045.19 L1661.29 1043.22 L1662.18 1041.25 L1663.08 1039.3 L1664 1037.34 L1664.94 1035.4 L1665.9 1033.46 L1666.87 1031.53 L1667.86 1029.61 L1668.87 1027.7 L1669.9 1025.79 L1670.94 1023.89 L1672 1022" fill="none" stroke="#ee2a7b" stroke-width="3.6" stroke-linecap="round" stroke-linejoin="round" stroke-dasharray="16.6 11.1 1.9 11.1" />
<path d="M1129.05 890.48 L1130.9 889.6 L1132.76 888.73 L1134.62 887.89 L1136.49 887.05 L1138.37 886.24 L1140.25 885.44 L1142.14 884.66 L1144.03 883.91 L1145.94 883.17 L1147.85 882.45 L1149.77 881.75 L1151.7 881.06 L1153.63 880.38 L1155.56 879.71 L1157.5 879.06 L1159.45 878.41 L1161.39 877.77 L1163.33 877.14 L1165.28 876.51 L1167.23 875.88 L1169.18 875.25 L1171.13 874.63 L1173.08 874.02 L1175.04 873.42 L1177.01 872.85 L1178.98 872.3 L1180.95 871.78 L1182.93 871.3 L1184.92 870.83 L1186.91 870.38 L1188.91 869.95 L1190.92 869.53 L1192.93 869.13 L1194.94 868.74 L1196.95 868.37 L1198.97 868.02 L1200.98 867.69 L1203 867.37 L1205.02 867.05 L1207.05 866.74 L1209.07 866.44 L1211.1 866.16 L1213.13 865.89 L1215.16 865.64 L1217.2 865.43 L1219.23 865.24 L1221.27 865.09 L1223.3 864.94 L1225.34 864.79 L1227.39 864.65 L1229.43 864.53 L1231.48 864.42 L1233.52 864.32 L1235.57 864.25 L1237.61 864.2 L1239.65 864.19 L1241.7 864.21 L1243.74 864.26 L1245.79 864.33 L1247.83 864.43 L1249.88 864.54 L1251.92 864.67 L1253.96 864.81 L1256 864.96 L1258.04 865.1 L1260.07 865.26 L1262.11 865.45 L1264.14 865.67 L1266.17 865.92 L1268.2 866.19 L1270.23 866.48 L1272.26 866.78 L1274.28 867.09 L1276.3 867.41 L1278.32 867.73 L1280.33 868.07 L1282.35 868.43 L1284.36 868.81 L1286.36 869.21 L1288.37 869.62 L1290.37 870.05 L1292.37 870.48 L1294.37 870.92 L1296.37 871.36 L1298.36 871.81 L1300.35 872.27 L1302.34 872.74 L1304.33 873.22 L1306.32 873.71 L1308.31 874.21 L1310.29 874.72 L1312.26 875.25 L1314.24 875.78 L1316.21 876.33 L1318.18 876.88 L1320.15 877.44 L1322.12 878.02 L1324.08 878.61 L1326.03 879.23 L1327.97 879.88 L1329.89 880.56 L1331.79 881.28 L1333.67 882.07 L1335.54 882.91 L1337.38 883.8 L1339.22 884.71 L1341.05 885.64 L1342.88 886.57 L1344.69 887.5 L1346.5 888.45 L1348.3 889.42 L1350.09 890.4 L1351.88 891.4 L1353.67 892.4 L1355.44 893.42 L1357.22 894.43 L1358.99 895.46 L1360.77 896.48 L1362.54 897.5 L1364.31 898.51 L1366.09 899.53 L1367.88 900.54 L1369.66 901.55 L1371.44 902.56 L1373.23 903.58 L1375.01 904.6 L1376.79 905.62 L1378.56 906.65 L1380.33 907.69 L1382.09 908.74 L1383.84 909.79 L1385.58 910.86 L1387.32 911.94 L1389.04 913.04 L1390.74 914.15 L1392.44 915.28 L1394.12 916.43 L1395.78 917.6 L1397.44 918.79 L1399.08 920 L1400.72 921.23 L1402.34 922.48 L1403.95 923.74 L1405.56 925.03 L1407.15 926.32 L1408.73 927.63 L1410.3 928.95 L1411.86 930.28 L1413.4 931.63 L1414.93 932.97 L1416.45 934.33 L1417.97 935.7 L1419.47 937.08 L1420.97 938.47 L1422.46 939.88 L1423.95 941.3 L1425.42 942.73 L1426.88 944.17 L1428.33 945.63 L1429.76 947.09 L1431.18 948.57 L1432.59 950.05 L1433.98 951.55 L1435.36 953.06 L1436.72 954.58 L1438.06 956.11 L1439.38 957.65 L1440.69 959.21 L1441.99 960.79 L1443.28 962.37 L1444.55 963.97 L1445.81 965.59 L1447.07 967.21 L1448.31 968.84 L1449.54 970.48 L1450.77 972.12 L1451.99 973.77 L1453.2 975.43 L1454.4 977.09 L1455.6 978.75 L1456.8 980.41 L1457.99 982.07 L1459.18 983.73 L1460.37 985.39 L1461.55 987.06 L1462.74 988.73 L1463.91 990.41 L1465.09 992.08 L1466.25 993.77 L1467.41 995.45 L1468.57 997.15 L1469.72 998.84 L1470.86 1000.55 L1471.99 1002.25 L1473.11 1003.96 L1474.23 1005.68 L1475.33 1007.4 L1476.42 1009.13 L1477.51 1010.86 L1478.58 1012.6 L1479.63 1014.35 L1480.68 1016.1 L1481.7 1017.87 L1482.7 1019.64 L1483.69 1021.43 L1484.66 1023.23 L1485.62 1025.04 L1486.58 1026.85 L1487.52 1028.66 L1488.47 1030.48 L1489.41 1032.3 L1490.35 1034.12 L1491.3 1035.93 L1492.26 1037.74 L1493.22 1039.55 L1494.2 1041.35 L1495.19 1043.13 L1496.21 1044.91 L1497.27 1046.67 L1498.35 1048.41 L1499.45 1050.15 L1500.53 1051.9 L1501.6 1053.65 L1502.63 1055.42 L1503.62 1057.2 L1504.53 1059.01 L1505.38 1060.85 L1506.15 1062.73 L1506.88 1064.64 L1507.57 1066.57 L1508.25 1068.51 L1508.93 1070.44 L1509.63 1072.37 L1510.37 1074.28 L1511.14 1076.18 L1511.92 1078.07 L1512.71 1079.96 L1513.5 1081.85 L1514.28 1083.74 L1515.05 1085.64 L1515.78 1087.54 L1516.48 1089.46 L1517.14 1091.39 L1517.77 1093.33 L1518.37 1095.29 L1518.96 1097.25 L1519.54 1099.21 L1520.11 1101.18 L1520.67 1103.15 L1521.23 1105.12 L1521.79 1107.08 L1522.34 1109.05 L1522.89 1111.02 L1523.43 1113 L1523.96 1114.97 L1524.5 1116.94 L1525.03 1118.92 L1525.56 1120.9 L1526.09 1122.87 L1526.62 1124.84 L1527.16 1126.82 L1527.69 1128.79 L1528.22 1130.77 L1528.75 1132.74 L1529.29 1134.72 L1529.82 1136.69 L1530.36 1138.67 L1530.91 1140.64 L1531.46 1142.61 L1532.02 1144.57 L1532.59 1146.54 L1533.16 1148.5 L1533.74 1150.46 L1534.33 1152.42 L1534.92 1154.38 L1535.52 1156.33 L1536.13 1158.29 L1536.74 1160.24 L1537.35 1162.19 L1537.96 1164.15 L1538.59 1166.1 L1539.26 1168.03 L1539.98 1169.94 L1540.73 1171.87 L1541.55 1173.81 L1542.5 1175.6 L1543.7 1177.25 L1545.3 1178.81 L1547.08 1179.09 L1549.1 1178.41 L1550.88 1177.46 L1552.44 1176.1 L1554.04 1174.8 L1555.73 1173.61 L1557.44 1172.44 L1559.12 1171.25 L1560.72 1170.01 L1562.19 1168.67 L1563.59 1167.25 L1564.95 1165.77 L1566.27 1164.24 L1567.55 1162.66 L1568.8 1161.04 L1570.02 1159.39 L1571.22 1157.71 L1572.41 1156.01 L1573.58 1154.3 L1574.75 1152.58 L1575.92 1150.86 L1577.08 1149.15 L1578.26 1147.45 L1579.44 1145.77 L1580.64 1144.12 L1581.84 1142.46 L1583.03 1140.8 L1584.21 1139.13 L1585.39 1137.46 L1586.57 1135.78 L1587.73 1134.1 L1588.89 1132.42 L1590.05 1130.73 L1591.19 1129.03 L1592.33 1127.34 L1593.47 1125.64 L1594.6 1123.93 L1595.72 1122.22 L1596.84 1120.51 L1597.95 1118.79 L1599.06 1117.07 L1600.16 1115.35 L1601.26 1113.62 L1602.36 1111.89 L1603.45 1110.16 L1604.53 1108.43 L1605.61 1106.7 L1606.69 1104.96 L1607.76 1103.21 L1608.81 1101.46 L1609.86 1099.7 L1610.89 1097.94 L1611.93 1096.17 L1612.97 1094.41 L1614.01 1092.65 L1615.07 1090.9 L1616.14 1089.16 L1617.24 1087.44 L1618.36 1085.72 L1619.49 1084.02 L1620.63 1082.33 L1621.78 1080.63 L1622.93 1078.94 L1624.07 1077.24 L1625.2 1075.53 L1626.32 1073.83 L1627.46 1072.12 L1628.59 1070.42 L1629.73 1068.71 L1630.86 1067.01 L1632 1065.3 L1633.13 1063.6 L1634.25 1061.89 L1635.37 1060.17 L1636.48 1058.45 L1637.57 1056.73 L1638.66 1054.99 L1639.73 1053.25 L1640.78 1051.5 L1641.81 1049.75 L1642.83 1047.98 L1643.83 1046.2 L1644.82 1044.41 L1645.79 1042.61 L1646.75 1040.81 L1647.7 1039 L1648.64 1037.18 L1649.57 1035.36 L1650.5 1033.54 L1651.43 1031.71 L1652.35 1029.88 L1653.28 1028.06 L1654.2 1026.23 L1655.13 1024.4 L1656.06 1022.58 L1657 1020.76 L1657.95 1018.95 L1658.91 1017.14 L1659.88 1015.34 L1660.86 1013.55 L1661.85 1011.76 L1662.84 1009.97 L1663.84 1008.19 L1664.85 1006.4 L1665.86 1004.63 L1666.87 1002.85 L1667.89 1001.08 L1668.91 999.3 L1669.94 997.53 L1670.97 995.77 L1672 994" fill="none" stroke="#5cc5c4" stroke-width="3.6" stroke-linecap="round" stroke-linejoin="round" stroke-dasharray="16.6 11.1 1.9 11.1" />
<path d="M1075.71 913.33 L1077.13 911.77 L1078.56 910.23 L1080.01 908.72 L1081.49 907.22 L1082.98 905.75 L1084.49 904.31 L1086.03 902.9 L1087.59 901.51 L1089.16 900.13 L1090.75 898.74 L1092.36 897.36 L1093.99 896 L1095.64 894.68 L1097.32 893.41 L1099.02 892.2 L1100.76 891.06 L1102.52 890.02 L1104.33 889.04 L1106.18 888.11 L1108.07 887.22 L1109.99 886.37 L1111.94 885.56 L1113.9 884.77 L1115.87 884 L1117.85 883.25 L1119.82 882.51 L1121.78 881.77 L1123.74 881.02 L1125.71 880.27 L1127.68 879.52 L1129.66 878.79 L1131.65 878.1 L1133.64 877.46 L1135.65 876.88 L1137.67 876.38 L1139.7 875.97 L1141.74 875.6 L1143.79 875.25 L1145.86 874.94 L1147.93 874.64 L1150.01 874.36 L1152.1 874.1 L1154.19 873.85 L1156.28 873.6 L1158.37 873.36 L1160.46 873.11 L1162.54 872.86 L1164.62 872.6 L1166.7 872.33 L1168.78 872.06 L1170.85 871.79 L1172.93 871.52 L1175.01 871.25 L1177.09 870.99 L1179.17 870.73 L1181.26 870.49 L1183.34 870.26 L1185.42 870.05 L1187.51 869.86 L1189.59 869.69 L1191.68 869.54 L1193.77 869.4 L1195.86 869.27 L1197.95 869.14 L1200.04 869.01 L1202.13 868.89 L1204.23 868.79 L1206.32 868.7 L1208.42 868.63 L1210.51 868.59 L1212.6 868.57 L1214.69 868.59 L1216.78 868.67 L1218.87 868.79 L1220.96 868.95 L1223.04 869.14 L1225.13 869.35 L1227.22 869.57 L1229.3 869.81 L1231.39 870.04 L1233.48 870.26 L1235.56 870.46 L1237.65 870.65 L1239.74 870.84 L1241.82 871.03 L1243.91 871.23 L1245.99 871.45 L1248.07 871.69 L1250.15 871.95 L1252.22 872.24 L1254.29 872.56 L1256.36 872.9 L1258.43 873.26 L1260.49 873.65 L1262.55 874.05 L1264.6 874.48 L1266.65 874.92 L1268.68 875.37 L1270.71 875.86 L1272.74 876.4 L1274.76 876.96 L1276.77 877.55 L1278.78 878.17 L1280.78 878.81 L1282.77 879.47 L1284.76 880.14 L1286.74 880.81 L1288.71 881.5 L1290.68 882.22 L1292.63 882.96 L1294.58 883.73 L1296.53 884.51 L1298.47 885.31 L1300.4 886.12 L1302.34 886.94 L1304.26 887.75 L1306.19 888.57 L1308.11 889.42 L1310.01 890.31 L1311.9 891.24 L1313.79 892.18 L1315.68 893.12 L1317.57 894.04 L1319.47 894.92 L1321.39 895.74 L1323.33 896.5 L1325.3 897.16 L1327.33 897.68 L1329.37 898.18 L1331.34 898.82 L1333.28 899.54 L1335.22 900.34 L1337.13 901.19 L1339.04 902.1 L1340.92 903.06 L1342.79 904.06 L1344.64 905.08 L1346.47 906.13 L1348.29 907.2 L1350.08 908.27 L1351.86 909.34 L1353.62 910.45 L1355.36 911.59 L1357.08 912.78 L1358.78 913.99 L1360.47 915.24 L1362.14 916.51 L1363.81 917.81 L1365.46 919.11 L1367.1 920.44 L1368.74 921.76 L1370.36 923.09 L1371.98 924.42 L1373.6 925.75 L1375.21 927.09 L1376.81 928.43 L1378.4 929.79 L1379.99 931.16 L1381.57 932.55 L1383.14 933.94 L1384.7 935.34 L1386.26 936.76 L1387.8 938.18 L1389.33 939.61 L1390.84 941.06 L1392.35 942.51 L1393.84 943.97 L1395.32 945.45 L1396.79 946.93 L1398.25 948.43 L1399.7 949.94 L1401.14 951.46 L1402.57 953 L1403.99 954.54 L1405.4 956.09 L1406.81 957.65 L1408.2 959.22 L1409.59 960.8 L1410.96 962.38 L1412.33 963.97 L1413.69 965.56 L1415.04 967.16 L1416.38 968.76 L1417.71 970.38 L1419.04 972 L1420.35 973.63 L1421.65 975.26 L1422.95 976.91 L1424.24 978.56 L1425.52 980.22 L1426.79 981.89 L1428.06 983.56 L1429.32 985.23 L1430.58 986.91 L1431.83 988.59 L1433.08 990.28 L1434.33 991.96 L1435.57 993.65 L1436.81 995.34 L1438.04 997.03 L1439.28 998.72 L1440.52 1000.41 L1441.76 1002.1 L1443 1003.8 L1444.23 1005.5 L1445.45 1007.21 L1446.66 1008.92 L1447.85 1010.64 L1449.02 1012.38 L1450.18 1014.12 L1451.32 1015.87 L1452.42 1017.64 L1453.51 1019.43 L1454.57 1021.23 L1455.61 1023.04 L1456.63 1024.87 L1457.64 1026.71 L1458.63 1028.56 L1459.63 1030.41 L1460.61 1032.26 L1461.6 1034.11 L1462.6 1035.95 L1463.6 1037.79 L1464.63 1039.62 L1465.65 1041.45 L1466.65 1043.3 L1467.61 1045.16 L1468.5 1047.04 L1469.29 1048.99 L1470.01 1050.97 L1470.75 1052.94 L1471.59 1054.84 L1472.6 1056.64 L1473.8 1058.38 L1475.07 1060.08 L1476.34 1061.78 L1477.51 1063.51 L1478.49 1065.32 L1479.35 1067.19 L1480.16 1069.11 L1480.92 1071.06 L1481.64 1073.03 L1482.32 1075.03 L1482.99 1077.03 L1483.64 1079.05 L1484.27 1081.06 L1484.91 1083.06 L1485.54 1085.05 L1486.16 1087.05 L1486.75 1089.06 L1487.33 1091.07 L1487.9 1093.08 L1488.47 1095.1 L1489.02 1097.12 L1489.58 1099.15 L1490.13 1101.17 L1490.69 1103.19 L1491.25 1105.21 L1491.83 1107.22 L1492.4 1109.24 L1492.98 1111.25 L1493.55 1113.26 L1494.13 1115.28 L1494.7 1117.29 L1495.28 1119.31 L1495.85 1121.32 L1496.43 1123.33 L1497 1125.35 L1497.58 1127.36 L1498.15 1129.38 L1498.73 1131.39 L1499.28 1133.41 L1499.83 1135.44 L1500.37 1137.47 L1500.91 1139.5 L1501.45 1141.53 L1502 1143.55 L1502.57 1145.57 L1503.15 1147.58 L1503.76 1149.58 L1504.4 1151.56 L1505.07 1153.54 L1505.8 1155.5 L1506.57 1157.44 L1507.4 1159.38 L1508.24 1161.3 L1509.11 1163.2 L1509.96 1165.14 L1510.81 1167.11 L1511.72 1169.04 L1512.74 1170.82 L1513.96 1172.5 L1515.51 1174.28 L1517.22 1175.31 L1519.01 1175 L1520.94 1173.98 L1522.85 1172.78 L1524.65 1171.71 L1526.41 1170.57 L1528.12 1169.35 L1529.81 1168.1 L1531.47 1166.82 L1533.11 1165.53 L1534.73 1164.2 L1536.33 1162.85 L1537.91 1161.47 L1539.48 1160.08 L1541.03 1158.66 L1542.57 1157.23 L1544.1 1155.79 L1545.61 1154.35 L1547.12 1152.9 L1548.6 1151.43 L1550.08 1149.95 L1551.53 1148.45 L1552.98 1146.93 L1554.41 1145.41 L1555.83 1143.87 L1557.25 1142.32 L1558.66 1140.77 L1560.07 1139.22 L1561.48 1137.66 L1562.89 1136.11 L1564.3 1134.56 L1565.71 1133.01 L1567.13 1131.46 L1568.56 1129.93 L1570 1128.41 L1571.45 1126.89 L1572.91 1125.4 L1574.38 1123.91 L1575.87 1122.43 L1577.36 1120.96 L1578.85 1119.49 L1580.34 1118.02 L1581.83 1116.54 L1583.32 1115.07 L1584.8 1113.58 L1586.26 1112.09 L1587.71 1110.57 L1589.14 1109.04 L1590.56 1107.49 L1591.96 1105.93 L1593.36 1104.35 L1594.75 1102.78 L1596.13 1101.2 L1597.52 1099.62 L1598.92 1098.05 L1600.32 1096.49 L1601.74 1094.95 L1603.17 1093.43 L1604.63 1091.93 L1606.1 1090.45 L1607.6 1089.01 L1609.14 1087.61 L1610.72 1086.26 L1612.35 1084.94 L1614 1083.65 L1615.68 1082.38 L1617.36 1081.12 L1619.04 1079.85 L1620.71 1078.57 L1622.35 1077.26 L1623.95 1075.92 L1625.51 1074.54 L1627.06 1073.14 L1628.63 1071.74 L1630.2 1070.33 L1631.78 1068.91 L1633.35 1067.49 L1634.93 1066.05 L1636.49 1064.6 L1638.05 1063.15 L1639.59 1061.68 L1641.12 1060.19 L1642.63 1058.69 L1644.12 1057.18 L1645.58 1055.65 L1647.02 1054.11 L1648.42 1052.54 L1649.78 1050.96 L1651.11 1049.36 L1652.4 1047.73 L1653.64 1046.09 L1654.84 1044.42 L1655.98 1042.73 L1657.06 1041 L1658 1039.13 L1658.86 1037.19 L1659.77 1035.28 L1660.82 1033.51 L1661.97 1031.8 L1663.18 1030.13 L1664.47 1028.5 L1665.83 1026.9 L1667.26 1025.35 L1668.77 1023.85 L1670.35 1022.39 L1672 1021" fill="none" stroke="#4cb859" stroke-width="3.6" stroke-linecap="round" stroke-linejoin="round" stroke-dasharray="16.6 11.1 1.9 11.1" />
<path d="M1146.19 883.81 L1148.19 883.28 L1150.19 882.77 L1152.2 882.28 L1154.21 881.81 L1156.23 881.36 L1158.25 880.94 L1160.27 880.54 L1162.29 880.18 L1164.32 879.84 L1166.36 879.5 L1168.4 879.18 L1170.44 878.86 L1172.48 878.57 L1174.53 878.29 L1176.58 878.04 L1178.64 877.82 L1180.69 877.64 L1182.74 877.5 L1184.8 877.38 L1186.86 877.26 L1188.92 877.14 L1190.98 877.04 L1193.04 876.95 L1195.11 876.87 L1197.17 876.81 L1199.23 876.78 L1201.3 876.76 L1203.36 876.77 L1205.42 876.81 L1207.48 876.87 L1209.54 876.95 L1211.61 877.04 L1213.67 877.14 L1215.73 877.25 L1217.79 877.37 L1219.85 877.49 L1221.91 877.61 L1223.96 877.76 L1226.02 877.93 L1228.08 878.11 L1230.13 878.32 L1232.18 878.54 L1234.24 878.78 L1236.28 879.02 L1238.33 879.28 L1240.37 879.54 L1242.41 879.83 L1244.45 880.15 L1246.48 880.49 L1248.52 880.85 L1250.55 881.23 L1252.58 881.63 L1254.6 882.04 L1256.62 882.45 L1258.64 882.87 L1260.65 883.3 L1262.67 883.75 L1264.68 884.21 L1266.69 884.7 L1268.7 885.19 L1270.7 885.71 L1272.69 886.24 L1274.68 886.78 L1276.66 887.34 L1278.64 887.92 L1280.61 888.52 L1282.57 889.15 L1284.53 889.8 L1286.48 890.48 L1288.43 891.17 L1290.37 891.88 L1292.31 892.6 L1294.24 893.34 L1296.16 894.08 L1298.07 894.85 L1299.98 895.63 L1301.88 896.43 L1303.77 897.25 L1305.66 898.09 L1307.54 898.95 L1309.41 899.82 L1311.28 900.7 L1313.14 901.59 L1314.99 902.5 L1316.89 903.45 L1319.04 904.57 L1321.36 905.81 L1323.76 907.13 L1326.15 908.45 L1328.42 909.72 L1330.49 910.89 L1332.25 911.89 L1333.61 912.67 L1334.48 913.17 L1334.74 913.29 L1334.35 912.36 L1334.76 912.63 L1335.52 913.14 L1336.61 913.87 L1337.98 914.79 L1339.59 915.88 L1341.41 917.11 L1343.39 918.45 L1345.5 919.89 L1347.7 921.39 L1349.95 922.94 L1352.2 924.51 L1354.44 926.06 L1356.6 927.59 L1358.67 929.06 L1360.58 930.45 L1362.32 931.73 L1363.98 932.96 L1365.63 934.2 L1367.29 935.44 L1368.94 936.68 L1370.59 937.94 L1372.23 939.2 L1373.86 940.48 L1375.48 941.77 L1377.08 943.07 L1378.67 944.39 L1380.23 945.73 L1381.77 947.08 L1383.29 948.46 L1384.78 949.86 L1386.26 951.29 L1387.72 952.73 L1389.17 954.2 L1390.61 955.68 L1392.03 957.18 L1393.44 958.7 L1394.84 960.23 L1396.22 961.78 L1397.59 963.34 L1398.94 964.91 L1400.28 966.49 L1401.6 968.07 L1402.91 969.67 L1404.2 971.27 L1405.48 972.88 L1406.72 974.51 L1407.94 976.18 L1409.12 977.86 L1410.28 979.57 L1411.43 981.29 L1412.58 983.01 L1413.72 984.74 L1414.86 986.46 L1416.02 988.18 L1417.2 989.88 L1418.39 991.55 L1419.62 993.21 L1420.89 994.82 L1422.21 996.41 L1423.56 997.97 L1424.94 999.51 L1426.33 1001.05 L1427.72 1002.58 L1429.09 1004.13 L1430.44 1005.69 L1431.75 1007.27 L1433.01 1008.89 L1434.23 1010.55 L1435.42 1012.23 L1436.58 1013.94 L1437.73 1015.66 L1438.85 1017.4 L1439.96 1019.14 L1441.05 1020.89 L1442.13 1022.65 L1443.2 1024.41 L1444.25 1026.19 L1445.29 1027.97 L1446.31 1029.76 L1447.33 1031.56 L1448.32 1033.37 L1449.31 1035.18 L1450.29 1037 L1451.19 1039.04 L1452.03 1041.34 L1452.82 1043.78 L1453.6 1046.22 L1454.4 1048.53 L1455.26 1050.59 L1456.21 1052.27 L1457.28 1053.42 L1458.51 1053.93 L1460.25 1053.86 L1462.68 1053.62 L1464.92 1053.39 L1466.19 1053.37 L1467.08 1053.86 L1467.86 1054.85 L1468.55 1056.27 L1469.16 1058.06 L1469.71 1060.15 L1470.2 1062.48 L1470.65 1064.98 L1471.08 1067.58 L1471.5 1070.23 L1471.91 1072.85 L1472.34 1075.37 L1472.8 1077.74 L1473.3 1079.88 L1473.83 1081.88 L1474.34 1083.88 L1474.85 1085.87 L1475.36 1087.87 L1475.86 1089.88 L1476.36 1091.88 L1476.85 1093.88 L1477.34 1095.88 L1477.83 1097.89 L1478.33 1099.89 L1478.82 1101.9 L1479.31 1103.9 L1479.81 1105.9 L1480.31 1107.9 L1480.81 1109.9 L1481.31 1111.91 L1481.81 1113.91 L1482.31 1115.91 L1482.81 1117.91 L1483.31 1119.91 L1483.81 1121.91 L1484.31 1123.91 L1484.81 1125.91 L1485.31 1127.92 L1485.81 1129.92 L1486.31 1131.92 L1486.81 1133.92 L1487.3 1135.92 L1487.79 1137.93 L1488.27 1139.94 L1488.74 1141.95 L1489.22 1143.96 L1489.69 1145.97 L1490.18 1147.98 L1490.67 1149.98 L1491.16 1151.98 L1491.68 1153.98 L1492.2 1155.97 L1492.75 1157.96 L1493.32 1159.94 L1493.9 1161.91 L1494.52 1163.88 L1495.17 1165.85 L1495.85 1167.8 L1496.56 1169.73 L1497.29 1171.71 L1498.02 1173.74 L1498.86 1175.67 L1499.86 1177.33 L1501.29 1178.85 L1503.14 1180.09 L1504.94 1180.21 L1506.76 1179.25 L1508.56 1177.92 L1510.28 1176.75 L1511.95 1175.54 L1513.58 1174.26 L1515.17 1172.95 L1516.74 1171.6 L1518.28 1170.24 L1519.8 1168.85 L1521.3 1167.43 L1522.78 1165.99 L1524.25 1164.52 L1525.69 1163.03 L1527.11 1161.53 L1528.5 1160.01 L1529.87 1158.48 L1531.22 1156.93 L1532.53 1155.35 L1533.82 1153.74 L1535.09 1152.11 L1536.35 1150.47 L1537.59 1148.82 L1538.83 1147.16 L1540.06 1145.5 L1541.29 1143.84 L1542.52 1142.19 L1543.75 1140.53 L1544.97 1138.87 L1546.19 1137.2 L1547.4 1135.53 L1548.6 1133.85 L1549.8 1132.18 L1551 1130.5 L1552.19 1128.81 L1553.38 1127.12 L1554.56 1125.43 L1555.74 1123.74 L1556.92 1122.05 L1558.09 1120.35 L1559.26 1118.65 L1560.43 1116.95 L1561.59 1115.25 L1562.75 1113.54 L1563.9 1111.83 L1565.06 1110.12 L1566.2 1108.4 L1567.35 1106.69 L1568.49 1104.97 L1569.62 1103.24 L1570.76 1101.52 L1571.89 1099.79 L1573.01 1098.07 L1574.14 1096.34 L1575.26 1094.6 L1576.37 1092.87 L1577.48 1091.13 L1578.58 1089.39 L1579.68 1087.64 L1580.77 1085.89 L1581.86 1084.14 L1582.95 1082.39 L1584.04 1080.63 L1585.13 1078.88 L1586.21 1077.12 L1587.3 1075.37 L1588.38 1073.62 L1589.47 1071.86 L1590.56 1070.11 L1591.65 1068.36 L1592.74 1066.61 L1593.84 1064.86 L1594.93 1063.11 L1596.02 1061.36 L1597.11 1059.61 L1598.2 1057.86 L1599.29 1056.11 L1600.38 1054.36 L1601.48 1052.61 L1602.57 1050.86 L1603.66 1049.11 L1604.76 1047.36 L1605.85 1045.61 L1606.95 1043.86 L1608.05 1042.12 L1609.15 1040.37 L1610.25 1038.63 L1611.36 1036.89 L1612.46 1035.15 L1613.57 1033.41 L1614.68 1031.67 L1615.79 1029.93 L1616.9 1028.19 L1618.02 1026.45 L1619.13 1024.72 L1620.25 1022.98 L1621.36 1021.25 L1622.48 1019.51 L1623.6 1017.78 L1624.72 1016.05 L1625.84 1014.31 L1626.95 1012.58 L1628.07 1010.85 L1629.19 1009.11 L1630.31 1007.38 L1631.43 1005.65 L1632.55 1003.92 L1633.67 1002.18 L1634.79 1000.45 L1635.91 998.72 L1637.03 996.98 L1638.15 995.25 L1639.27 993.52 L1640.38 991.78 L1641.5 990.05 L1642.62 988.31 L1643.73 986.57 L1644.84 984.84 L1645.95 983.1 L1647.06 981.36 L1648.17 979.62 L1649.28 977.88 L1650.39 976.14 L1651.49 974.4 L1652.59 972.65 L1653.69 970.91 L1654.79 969.16 L1655.89 967.41 L1656.98 965.67 L1658.07 963.92 L1659.16 962.16 L1660.25 960.41 L1661.33 958.66 L1662.41 956.9 L1663.48 955.14 L1664.56 953.37 L1665.62 951.61 L1666.69 949.84 L1667.76 948.08 L1668.82 946.31 L1669.88 944.54 L1670.94 942.77 L1672 941" fill="none" stroke="#c083bd" stroke-width="3.6" stroke-linecap="round" stroke-linejoin="round" stroke-dasharray="16.6 11.1 1.9 11.1" />
<path d="M1054.38 917.14 L1064.29 905.71 L1075.71 894.29 L1087.14 884.76 L1098.57 876.19 L1110 869.52 L1121.43 862.86 L1132.86 854.29 L1144.29 846.67 L1159.52 839.05 L1174.76 832.38 L1193.81 824.76 L1210.95 818.1 L1226.19 812.38 L1243.33 810.86 L1264.29 809.52 L1285.24 808.19 L1300.48 809.52 L1315.71 811.05 L1330.95 815.24 L1330 815.75 L1366.48 824.33 L1394.38 836.14 L1415.84 847.94 L1437.3 861.89 L1458.76 879.06 L1480.21 897.3 L1501.67 918.76 L1523.13 944.51 L1536.01 965.97 L1553.18 996.01 L1561.76 1008.88 L1572.49 1032.49 L1581.07 1053.95 L1583.33 1056.67 L1588.33 1073.33 L1595 1096.67 L1600 1120 L1605 1143.33 L1608.33 1160 L1610.83 1171.67 L1613 1176.67 L1615.33 1178 L1618 1176.33 L1621.67 1171.67 L1633.33 1150 L1646.67 1126.67 L1660 1105 L1673.33 1082.5" fill="none" stroke="#000000" stroke-width="3.6" stroke-linecap="butt" stroke-linejoin="round" />
<path d="M1068.67 921.9 L1079.52 909.52 L1090.95 899.05 L1106.19 889.52 L1125.24 882.29 L1140.48 879.05 L1151.9 876.19 L1163.33 871.43 L1182.38 861.9 L1196.67 855.24 L1210 870.48 L1223.33 848.57 L1243.33 845.71 L1266.19 840.95 L1287.14 836.19 L1304.29 840 L1319.52 844.76 L1330.95 851.43 L1342.38 857.71 L1330 852.23 L1342.88 858.67 L1362.19 859.74 L1387.94 872.62 L1405.11 886.57 L1426.57 901.59 L1448.03 920.9 L1469.48 944.51 L1490.94 972.4 L1501.67 989.57 L1510.26 1006.74 L1514.55 1019.61 L1515.62 1027.12 L1524.21 1034.64 L1531.72 1051.8 L1526.67 1040 L1533.33 1056.67 L1541.67 1078.33 L1550 1103.33 L1556.67 1126.67 L1561.67 1146.67 L1566.67 1163.33 L1569.67 1170.83 L1573.33 1173.67 L1577 1171.67 L1583.33 1163.33 L1600 1136.67 L1616.67 1106.67 L1633.33 1080 L1650 1053.33 L1660 1037.5 L1672 1017" fill="none" stroke="#ed1c24" stroke-width="3.6" stroke-linecap="butt" stroke-linejoin="round" />
<path d="M1071.9 917.14 L1087.14 901.9 L1106.19 888.57 L1125.24 880.95 L1144.29 877.14 L1163.33 873.9 L1182.38 868.57 L1197.62 861.9 L1207.14 859.05 L1217.62 877.14 L1224.29 867.62 L1233.81 853.9 L1250.95 853.33 L1271.9 852.38 L1285.24 850.48 L1297.62 848.95 L1311.9 855.24 L1327.14 860.95 L1338.57 867.62 L1330 861.89 L1349.31 876.91 L1369.7 881.2 L1392.23 896.22 L1409.4 913.39 L1426.57 929.48 L1448.03 953.09 L1469.48 980.99 L1484.51 1004.59 L1493.09 1021.76 L1498.45 1038.93 L1499.53 1045.36 L1505.97 1051.8 L1498.33 1046.67 L1508.33 1053.33 L1515 1070 L1521.67 1090 L1528.33 1113.33 L1533.33 1133.33 L1538.33 1155 L1542.5 1168.33 L1545.83 1173 L1548.67 1174.17 L1551.67 1172.83 L1555 1169.17 L1566.67 1155 L1583.33 1130 L1600 1105 L1616.67 1076.67 L1636.67 1040 L1660.5 996 L1672 975" fill="none" stroke="#1f4fa3" stroke-width="3.6" stroke-linecap="butt" stroke-linejoin="round" />
<path d="M1075.71 912.38 L1087.14 900.95 L1102.38 888.57 L1121.43 880 L1136.67 875.24 L1151.9 874.67 L1167.14 873.33 L1186.19 869.52 L1201.43 861.9 L1216.67 856.19 L1226.19 865.71 L1238.57 879.05 L1246.19 856.19 L1268.1 860 L1285.24 862.86 L1310 862.86 L1323.33 869.52 L1338.57 878.1 L1330 872.62 L1345.02 884.42 L1356.82 895.15 L1376.14 903.73 L1396.52 919.83 L1411.55 938.07 L1426.57 955.24 L1443.73 978.84 L1458.76 1002.45 L1469.48 1021.76 L1478.07 1043.22 L1479.17 1050 L1481.67 1058.33 L1481.67 1066.67 L1486.67 1073.33 L1493.33 1088.33 L1500 1106.67 L1506.67 1133.33 L1511.67 1156.67 L1515 1170 L1517.5 1175 L1520.33 1176.67 L1523.33 1175 L1526.67 1171.67 L1533.33 1163.33 L1550 1138.33 L1566.67 1111.67 L1583.33 1085 L1600 1056.67 L1611.67 1040 L1660.5 955.2 L1672 936" fill="none" stroke="#0a7d3b" stroke-width="3.6" stroke-linecap="butt" stroke-linejoin="round" />
<path d="M1079.52 908.57 L1092.86 896.19 L1106.19 884.76 L1121.43 879.05 L1138.57 873.33 L1163.33 873.33 L1191.9 872.38 L1212.86 867.62 L1228.1 863.81 L1243.33 886.67 L1253.81 869.14 L1277.62 871.43 L1300.48 872.95 L1319.52 874.29 L1334.76 883.81 L1330 882.27 L1347.17 893 L1362.19 913.39 L1380.43 921.97 L1400.82 942.36 L1415.84 963.82 L1426.57 978.84 L1437.3 996.01 L1448.03 1017.47 L1456.61 1038.93 L1455.83 1048.33 L1465.83 1066.67 L1466.67 1083.33 L1471.67 1088.33 L1478.33 1106.67 L1483.33 1123.33 L1488.33 1143.33 L1492.5 1163.33 L1495.5 1174.17 L1498.33 1178.33 L1501.33 1177 L1506.67 1170 L1516.67 1155 L1533.33 1128.33 L1550 1101.67 L1566.67 1076.67 L1583.33 1053.33 L1591.67 1040 L1625 980 L1660.5 916.6 L1672 896" fill="none" stroke="#a54ca3" stroke-width="3.6" stroke-linecap="butt" stroke-linejoin="round" />
</g>
<line x1="1026.28" y1="1213.57" x2="1661.18" y2="1213.57" stroke="#0d0d0d" stroke-width="1.6" />
<line x1="1036.08" y1="1213.57" x2="1036.08" y2="1218.57" stroke="#0d0d0d" stroke-width="1.6" />
<line x1="1075.1" y1="1213.57" x2="1075.1" y2="1223.27" stroke="#0d0d0d" stroke-width="1.6" />
<text class="b" transform="translate(1075.1 1256) scale(0.9615 1)" font-size="30.33" text-anchor="middle" >40</text>
<line x1="1114.12" y1="1213.57" x2="1114.12" y2="1218.57" stroke="#0d0d0d" stroke-width="1.6" />
<line x1="1153.14" y1="1213.57" x2="1153.14" y2="1223.27" stroke="#0d0d0d" stroke-width="1.6" />
<text class="b" transform="translate(1153.14 1256) scale(0.9615 1)" font-size="30.33" text-anchor="middle" >60</text>
<line x1="1192.16" y1="1213.57" x2="1192.16" y2="1218.57" stroke="#0d0d0d" stroke-width="1.6" />
<line x1="1231.17" y1="1213.57" x2="1231.17" y2="1223.27" stroke="#0d0d0d" stroke-width="1.6" />
<text class="b" transform="translate(1231.17 1256) scale(0.9615 1)" font-size="30.33" text-anchor="middle" >80</text>
<line x1="1270.19" y1="1213.57" x2="1270.19" y2="1218.57" stroke="#0d0d0d" stroke-width="1.6" />
<line x1="1309.21" y1="1213.57" x2="1309.21" y2="1223.27" stroke="#0d0d0d" stroke-width="1.6" />
<text class="b" transform="translate(1309.21 1256) scale(0.9615 1)" font-size="30.33" text-anchor="middle" >100</text>
<line x1="1348.23" y1="1213.57" x2="1348.23" y2="1218.57" stroke="#0d0d0d" stroke-width="1.6" />
<line x1="1387.25" y1="1213.57" x2="1387.25" y2="1223.27" stroke="#0d0d0d" stroke-width="1.6" />
<text class="b" transform="translate(1387.25 1256) scale(0.9615 1)" font-size="30.33" text-anchor="middle" >120</text>
<line x1="1426.27" y1="1213.57" x2="1426.27" y2="1218.57" stroke="#0d0d0d" stroke-width="1.6" />
<line x1="1465.29" y1="1213.57" x2="1465.29" y2="1223.27" stroke="#0d0d0d" stroke-width="1.6" />
<text class="b" transform="translate(1465.29 1256) scale(0.9615 1)" font-size="30.33" text-anchor="middle" >140</text>
<line x1="1504.31" y1="1213.57" x2="1504.31" y2="1218.57" stroke="#0d0d0d" stroke-width="1.6" />
<line x1="1543.33" y1="1213.57" x2="1543.33" y2="1223.27" stroke="#0d0d0d" stroke-width="1.6" />
<text class="b" transform="translate(1543.33 1256) scale(0.9615 1)" font-size="30.33" text-anchor="middle" >160</text>
<line x1="1582.35" y1="1213.57" x2="1582.35" y2="1218.57" stroke="#0d0d0d" stroke-width="1.6" />
<line x1="1621.36" y1="1213.57" x2="1621.36" y2="1223.27" stroke="#0d0d0d" stroke-width="1.6" />
<text class="b" transform="translate(1621.36 1256) scale(0.9615 1)" font-size="30.33" text-anchor="middle" >180</text>
<line x1="1660.38" y1="1213.57" x2="1660.38" y2="1218.57" stroke="#0d0d0d" stroke-width="1.6" />
<line x1="1036.08" y1="748.3" x2="1036.08" y2="1214.37" stroke="#0d0d0d" stroke-width="1.6" />
<line x1="1026.28" y1="1213.57" x2="1036.08" y2="1213.57" stroke="#0d0d0d" stroke-width="1.6" />
<line x1="1026.28" y1="1120.68" x2="1036.08" y2="1120.68" stroke="#0d0d0d" stroke-width="1.6" />
<line x1="1026.28" y1="1027.78" x2="1036.08" y2="1027.78" stroke="#0d0d0d" stroke-width="1.6" />
<line x1="1026.28" y1="934.89" x2="1036.08" y2="934.89" stroke="#0d0d0d" stroke-width="1.6" />
<line x1="1026.28" y1="841.99" x2="1036.08" y2="841.99" stroke="#0d0d0d" stroke-width="1.6" />
<line x1="1026.28" y1="749.1" x2="1036.08" y2="749.1" stroke="#0d0d0d" stroke-width="1.6" />
<line x1="1030.78" y1="1167.12" x2="1036.08" y2="1167.12" stroke="#0d0d0d" stroke-width="1.6" />
<line x1="1030.78" y1="1074.23" x2="1036.08" y2="1074.23" stroke="#0d0d0d" stroke-width="1.6" />
<line x1="1030.78" y1="981.33" x2="1036.08" y2="981.33" stroke="#0d0d0d" stroke-width="1.6" />
<line x1="1030.78" y1="888.44" x2="1036.08" y2="888.44" stroke="#0d0d0d" stroke-width="1.6" />
<line x1="1030.78" y1="795.55" x2="1036.08" y2="795.55" stroke="#0d0d0d" stroke-width="1.6" />
<text class="b" transform="translate(1015.28 1223.97) scale(0.9615 1)" font-size="30.33" text-anchor="end" >0</text>
<text class="b" transform="translate(1015.28 1131.08) scale(0.9615 1)" font-size="30.33" text-anchor="end" >20</text>
<text class="b" transform="translate(1015.28 1038.18) scale(0.9615 1)" font-size="30.33" text-anchor="end" >40</text>
<text class="b" transform="translate(1015.28 945.29) scale(0.9615 1)" font-size="30.33" text-anchor="end" >60</text>
<text class="b" transform="translate(1015.28 852.39) scale(0.9615 1)" font-size="30.33" text-anchor="end" >80</text>
<text class="b" transform="translate(1015.28 759.5) scale(0.9615 1)" font-size="30.33" text-anchor="end" >100</text>
<text class="b" transform="translate(1356 728.3) scale(0.9615 1)" font-size="30.33" text-anchor="middle" >High frequency range nyquist plot</text>
<text class="b" transform="translate(1349.8 1296.7) scale(0.9615 1)" font-size="30.33" text-anchor="middle" >Real impedance (<tspan class="om">Ω</tspan>)</text>
<text class="b" transform="translate(941.2 980.5) rotate(-90) scale(0.9615 1)" font-size="30.33" text-anchor="middle">Imaginary impedance (<tspan class="om">Ω</tspan>)</text>
<text class="b" transform="translate(901.2 706.7) scale(1.02 1)" font-size="42.3">d</text>
<line x1="1095.6" y1="1025.5" x2="1144.3" y2="1025.5" stroke="#000000" stroke-width="3.6" stroke-linecap="round"/>
<text class="r" transform="translate(1158.6 1033.7) scale(0.9615 1)" font-size="26" text-anchor="start" >22C</text>
<line x1="1095.6" y1="1052.65" x2="1144.3" y2="1052.65" stroke="#ed1c24" stroke-width="3.6" stroke-linecap="round"/>
<text class="r" transform="translate(1158.6 1060.85) scale(0.9615 1)" font-size="26" text-anchor="start" >27C</text>
<line x1="1095.6" y1="1079.8" x2="1144.3" y2="1079.8" stroke="#1f4fa3" stroke-width="3.6" stroke-linecap="round"/>
<text class="r" transform="translate(1158.6 1088) scale(0.9615 1)" font-size="26" text-anchor="start" >32C</text>
<line x1="1095.6" y1="1106.95" x2="1144.3" y2="1106.95" stroke="#0a7d3b" stroke-width="3.6" stroke-linecap="round"/>
<text class="r" transform="translate(1158.6 1115.15) scale(0.9615 1)" font-size="26" text-anchor="start" >37C</text>
<line x1="1095.6" y1="1134.1" x2="1144.3" y2="1134.1" stroke="#a54ca3" stroke-width="3.6" stroke-linecap="round"/>
<text class="r" transform="translate(1158.6 1142.3) scale(0.9615 1)" font-size="26" text-anchor="start" >42C</text>
<line x1="1242.4" y1="1025.8" x2="1272.5" y2="1025.8" stroke="#43389b" stroke-width="3.6" stroke-linecap="round" stroke-dasharray="16.6 11.1 1.9 11.1"/>
<text class="r" transform="translate(1286 1033.7) scale(0.9615 1)" font-size="26" text-anchor="start" >22C Fitted</text>
<line x1="1242.4" y1="1052.95" x2="1272.5" y2="1052.95" stroke="#ee2a7b" stroke-width="3.6" stroke-linecap="round" stroke-dasharray="16.6 11.1 1.9 11.1"/>
<text class="r" transform="translate(1286 1060.85) scale(0.9615 1)" font-size="26" text-anchor="start" >27C Fitted</text>
<line x1="1242.4" y1="1080.1" x2="1272.5" y2="1080.1" stroke="#5cc5c4" stroke-width="3.6" stroke-linecap="round" stroke-dasharray="16.6 11.1 1.9 11.1"/>
<text class="r" transform="translate(1286 1088) scale(0.9615 1)" font-size="26" text-anchor="start" >32C Fitted</text>
<line x1="1242.4" y1="1107.25" x2="1272.5" y2="1107.25" stroke="#4cb859" stroke-width="3.6" stroke-linecap="round" stroke-dasharray="16.6 11.1 1.9 11.1"/>
<text class="r" transform="translate(1286 1115.15) scale(0.9615 1)" font-size="26" text-anchor="start" >37C Fitted</text>
<line x1="1242.4" y1="1134.4" x2="1272.5" y2="1134.4" stroke="#c083bd" stroke-width="3.6" stroke-linecap="round" stroke-dasharray="16.6 11.1 1.9 11.1"/>
<text class="r" transform="translate(1286 1142.3) scale(0.9615 1)" font-size="26" text-anchor="start" >42C Fitted</text>
</g>
</svg>
</body></html>
